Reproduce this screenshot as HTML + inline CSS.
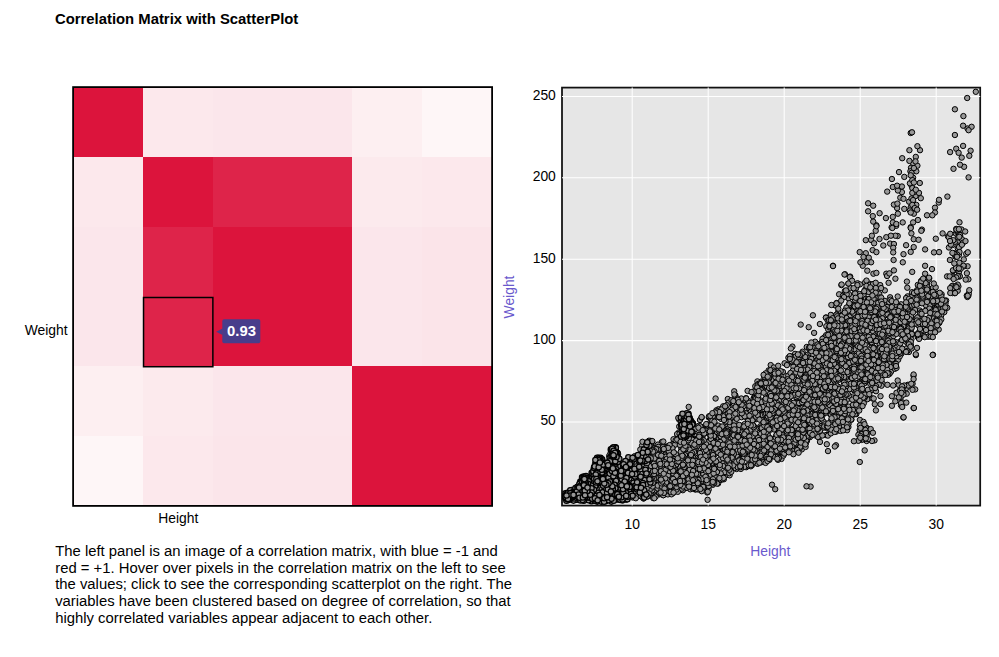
<!DOCTYPE html>
<html><head><meta charset="utf-8"><title>Correlation Matrix with ScatterPlot</title>
<style>
html,body{margin:0;padding:0;background:#fff;}
body{width:999px;height:657px;overflow:hidden;font-family:"Liberation Sans",sans-serif;}
svg{display:block;position:absolute;left:0;top:0;}
text{font-family:"Liberation Sans",sans-serif;}
.t{font-size:14.85px;font-weight:bold;fill:#000;}
.p{font-size:14.85px;fill:#000;}
.a{font-size:13.86px;fill:#000;}
.s{font-size:13.86px;fill:rgb(106,90,205);}
.g line{stroke:#fff;stroke-width:1.05;}
.pt circle{r:2.7px;}
</style></head><body>
<svg width="999" height="657" viewBox="0 0 999 657">
<text class="t" x="55.0" y="24.4">Correlation Matrix with ScatterPlot</text>
<g shape-rendering="crispEdges">
<rect x="73.10" y="87.10" width="70.13" height="70.13" fill="rgb(220,20,60)"/>
<rect x="142.93" y="87.10" width="70.13" height="70.13" fill="rgb(252,232,236)"/>
<rect x="212.77" y="87.10" width="70.13" height="70.13" fill="rgb(251,230,235)"/>
<rect x="282.60" y="87.10" width="70.13" height="70.13" fill="rgb(251,230,235)"/>
<rect x="352.43" y="87.10" width="70.13" height="70.13" fill="rgb(253,239,241)"/>
<rect x="422.27" y="87.10" width="70.13" height="70.13" fill="rgb(254,246,247)"/>
<rect x="73.10" y="156.93" width="70.13" height="70.13" fill="rgb(252,232,236)"/>
<rect x="142.93" y="156.93" width="70.13" height="70.13" fill="rgb(220,20,60)"/>
<rect x="212.77" y="156.93" width="70.13" height="70.13" fill="rgb(222,36,74)"/>
<rect x="282.60" y="156.93" width="70.13" height="70.13" fill="rgb(222,36,74)"/>
<rect x="352.43" y="156.93" width="70.13" height="70.13" fill="rgb(252,234,237)"/>
<rect x="422.27" y="156.93" width="70.13" height="70.13" fill="rgb(252,232,236)"/>
<rect x="73.10" y="226.77" width="70.13" height="70.13" fill="rgb(251,230,235)"/>
<rect x="142.93" y="226.77" width="70.13" height="70.13" fill="rgb(222,36,74)"/>
<rect x="212.77" y="226.77" width="70.13" height="70.13" fill="rgb(220,20,60)"/>
<rect x="282.60" y="226.77" width="70.13" height="70.13" fill="rgb(220,20,60)"/>
<rect x="352.43" y="226.77" width="70.13" height="70.13" fill="rgb(251,230,235)"/>
<rect x="422.27" y="226.77" width="70.13" height="70.13" fill="rgb(251,228,233)"/>
<rect x="73.10" y="296.60" width="70.13" height="70.13" fill="rgb(251,230,235)"/>
<rect x="142.93" y="296.60" width="70.13" height="70.13" fill="rgb(222,36,74)"/>
<rect x="212.77" y="296.60" width="70.13" height="70.13" fill="rgb(220,20,60)"/>
<rect x="282.60" y="296.60" width="70.13" height="70.13" fill="rgb(220,20,60)"/>
<rect x="352.43" y="296.60" width="70.13" height="70.13" fill="rgb(251,230,235)"/>
<rect x="422.27" y="296.60" width="70.13" height="70.13" fill="rgb(251,228,233)"/>
<rect x="73.10" y="366.43" width="70.13" height="70.13" fill="rgb(253,239,241)"/>
<rect x="142.93" y="366.43" width="70.13" height="70.13" fill="rgb(252,234,237)"/>
<rect x="212.77" y="366.43" width="70.13" height="70.13" fill="rgb(251,230,235)"/>
<rect x="282.60" y="366.43" width="70.13" height="70.13" fill="rgb(251,230,235)"/>
<rect x="352.43" y="366.43" width="70.13" height="70.13" fill="rgb(220,20,60)"/>
<rect x="422.27" y="366.43" width="70.13" height="70.13" fill="rgb(220,20,60)"/>
<rect x="73.10" y="436.27" width="70.13" height="70.13" fill="rgb(254,246,247)"/>
<rect x="142.93" y="436.27" width="70.13" height="70.13" fill="rgb(252,232,236)"/>
<rect x="212.77" y="436.27" width="70.13" height="70.13" fill="rgb(251,229,234)"/>
<rect x="282.60" y="436.27" width="70.13" height="70.13" fill="rgb(251,229,234)"/>
<rect x="352.43" y="436.27" width="70.13" height="70.13" fill="rgb(220,20,60)"/>
<rect x="422.27" y="436.27" width="70.13" height="70.13" fill="rgb(220,20,60)"/>
</g>
<rect x="73.1" y="87.1" width="419.0" height="418.8" fill="none" stroke="#000" stroke-width="1.8"/>
<rect x="143.53" y="297.50" width="69.33" height="69.23" fill="none" stroke="#000" stroke-width="1.5"/>
<path d="M216.2 331.7 L222.6 328.4 L222.6 335 Z" fill="rgb(72,61,139)"/>
<rect x="222.3" y="319.2" width="38" height="24" rx="1.8" fill="rgb(72,61,139)"/>
<text x="241.5" y="335.5" text-anchor="middle" fill="#fff" font-size="14.85" font-weight="bold">0.93</text>
<text class="a" x="67.6" y="334.7" text-anchor="end">Weight</text>
<text class="a" x="178.3" y="522.9" text-anchor="middle">Height</text>
<g class="p">
<text x="55.2" y="555.6">The left panel is an image of a correlation matrix, with blue = -1 and</text>
<text x="55.2" y="572.5">red = +1. Hover over pixels in the correlation matrix on the left to see</text>
<text x="55.2" y="589.4">the values; click to see the corresponding scatterplot on the right. The</text>
<text x="55.2" y="606.3">variables have been clustered based on degree of correlation, so that</text>
<text x="55.2" y="623.2">highly correlated variables appear adjacent to each other.</text>
</g>
<rect x="562.0" y="87.6" width="418.2" height="418.0" fill="rgb(230,230,230)" stroke="#111" stroke-width="1.75"/>
<g class="g"><line x1="632.2" x2="632.2" y1="87.6" y2="505.6"/><line x1="708.2" x2="708.2" y1="87.6" y2="505.6"/><line x1="784.2" x2="784.2" y1="87.6" y2="505.6"/><line x1="860.2" x2="860.2" y1="87.6" y2="505.6"/><line x1="936.2" x2="936.2" y1="87.6" y2="505.6"/><line x1="562.0" x2="980.2" y1="422.0" y2="422.0"/><line x1="562.0" x2="980.2" y1="340.6" y2="340.6"/><line x1="562.0" x2="980.2" y1="259.2" y2="259.2"/><line x1="562.0" x2="980.2" y1="177.8" y2="177.8"/><line x1="562.0" x2="980.2" y1="96.4" y2="96.4"/></g>
<g class="a"><text x="632.2" y="529.3" text-anchor="middle">10</text><text x="708.2" y="529.3" text-anchor="middle">15</text><text x="784.2" y="529.3" text-anchor="middle">20</text><text x="860.2" y="529.3" text-anchor="middle">25</text><text x="936.2" y="529.3" text-anchor="middle">30</text><text x="555.8" y="425.4" text-anchor="end">50</text><text x="555.8" y="344.0" text-anchor="end">100</text><text x="555.8" y="262.6" text-anchor="end">150</text><text x="555.8" y="181.2" text-anchor="end">200</text><text x="555.8" y="99.8" text-anchor="end">250</text></g>
<text class="s" x="770.3" y="555.8" text-anchor="middle">Height</text>
<text class="s" transform="translate(513.5,297) rotate(-90)" text-anchor="middle">Weight</text>
<g class="pt" fill="rgb(152,152,152)" stroke="#000" stroke-width="1.0"><g><circle cx="870.9" cy="309.3"/><circle cx="899.8" cy="390.6"/><circle cx="624.2" cy="475.0"/><circle cx="814.4" cy="435.2"/><circle cx="634.9" cy="477.2"/><circle cx="616.6" cy="452.0"/><circle cx="788.4" cy="357.7"/><circle cx="702.6" cy="489.0"/><circle cx="636.2" cy="467.0"/><circle cx="801.2" cy="370.4"/><circle cx="751.7" cy="441.2"/><circle cx="805.6" cy="380.2"/><circle cx="810.8" cy="421.8"/><circle cx="606.7" cy="477.8"/><circle cx="749.0" cy="422.9"/><circle cx="807.7" cy="409.2"/><circle cx="618.6" cy="489.0"/><circle cx="881.3" cy="355.1"/><circle cx="636.3" cy="485.0"/><circle cx="861.4" cy="318.9"/><circle cx="665.8" cy="452.8"/><circle cx="667.8" cy="487.5"/><circle cx="759.2" cy="428.0"/><circle cx="875.0" cy="287.5"/><circle cx="878.9" cy="351.0"/><circle cx="855.8" cy="401.2"/><circle cx="647.0" cy="488.6"/><circle cx="777.7" cy="432.4"/><circle cx="890.3" cy="335.6"/><circle cx="753.1" cy="415.2"/><circle cx="708.9" cy="470.5"/><circle cx="855.8" cy="342.3"/><circle cx="870.6" cy="324.0"/><circle cx="816.4" cy="359.2"/><circle cx="862.0" cy="384.4"/><circle cx="693.4" cy="485.0"/><circle cx="650.0" cy="482.9"/><circle cx="773.6" cy="447.0"/><circle cx="667.2" cy="488.7"/><circle cx="908.9" cy="352.0"/><circle cx="849.7" cy="344.4"/><circle cx="928.7" cy="289.2"/><circle cx="604.6" cy="470.2"/><circle cx="818.5" cy="395.6"/><circle cx="655.1" cy="473.9"/><circle cx="651.7" cy="478.0"/><circle cx="793.6" cy="356.4"/><circle cx="746.4" cy="432.5"/><circle cx="839.9" cy="328.8"/><circle cx="860.5" cy="327.0"/><circle cx="782.3" cy="386.0"/><circle cx="694.6" cy="463.2"/><circle cx="631.7" cy="490.5"/><circle cx="817.4" cy="401.1"/><circle cx="826.5" cy="386.8"/><circle cx="630.3" cy="485.3"/><circle cx="740.2" cy="449.8"/><circle cx="781.8" cy="415.5"/><circle cx="907.0" cy="306.5"/><circle cx="676.4" cy="464.8"/><circle cx="910.7" cy="251.9"/><circle cx="852.5" cy="337.4"/><circle cx="920.0" cy="150.2"/><circle cx="899.9" cy="307.3"/><circle cx="741.5" cy="456.0"/><circle cx="736.2" cy="427.1"/><circle cx="795.3" cy="393.4"/><circle cx="918.4" cy="334.1"/><circle cx="777.4" cy="384.5"/><circle cx="598.1" cy="460.5"/><circle cx="853.6" cy="335.6"/><circle cx="729.6" cy="424.7"/><circle cx="913.1" cy="222.4"/><circle cx="822.0" cy="404.4"/><circle cx="601.9" cy="474.5"/><circle cx="639.7" cy="456.2"/><circle cx="866.8" cy="284.0"/><circle cx="814.7" cy="406.4"/><circle cx="851.8" cy="309.0"/><circle cx="814.8" cy="426.8"/><circle cx="874.4" cy="331.7"/><circle cx="646.0" cy="495.0"/><circle cx="655.7" cy="490.1"/><circle cx="793.5" cy="377.4"/><circle cx="846.5" cy="333.0"/><circle cx="719.2" cy="476.1"/><circle cx="922.7" cy="321.2"/><circle cx="921.9" cy="229.6"/><circle cx="713.4" cy="454.0"/><circle cx="890.6" cy="369.3"/><circle cx="751.3" cy="457.9"/><circle cx="816.7" cy="369.6"/><circle cx="929.2" cy="278.4"/><circle cx="799.2" cy="439.0"/><circle cx="808.8" cy="357.5"/><circle cx="771.0" cy="397.4"/><circle cx="748.4" cy="413.7"/><circle cx="822.3" cy="361.9"/><circle cx="819.6" cy="352.0"/><circle cx="613.9" cy="467.4"/><circle cx="807.7" cy="410.4"/><circle cx="694.9" cy="473.6"/><circle cx="870.3" cy="323.5"/><circle cx="669.2" cy="491.2"/><circle cx="837.2" cy="306.5"/><circle cx="913.9" cy="213.7"/><circle cx="932.8" cy="288.0"/><circle cx="906.7" cy="393.7"/><circle cx="827.2" cy="338.9"/><circle cx="790.3" cy="432.7"/><circle cx="663.4" cy="446.2"/><circle cx="826.0" cy="317.5"/><circle cx="802.9" cy="361.0"/><circle cx="612.7" cy="477.3"/><circle cx="878.2" cy="327.3"/><circle cx="694.0" cy="478.5"/><circle cx="889.1" cy="336.9"/><circle cx="681.7" cy="477.0"/><circle cx="802.6" cy="351.7"/><circle cx="680.3" cy="471.9"/><circle cx="724.2" cy="437.2"/><circle cx="847.1" cy="430.2"/><circle cx="841.0" cy="421.2"/><circle cx="952.7" cy="285.7"/><circle cx="926.1" cy="304.0"/><circle cx="861.7" cy="320.8"/><circle cx="659.5" cy="469.5"/><circle cx="812.9" cy="425.5"/><circle cx="825.4" cy="404.6"/><circle cx="811.0" cy="429.4"/><circle cx="844.7" cy="340.0"/><circle cx="903.3" cy="417.5"/><circle cx="661.7" cy="489.0"/><circle cx="653.0" cy="485.6"/><circle cx="717.3" cy="468.1"/><circle cx="790.7" cy="405.5"/><circle cx="828.3" cy="380.6"/><circle cx="850.4" cy="346.5"/><circle cx="688.9" cy="484.1"/><circle cx="674.1" cy="473.0"/><circle cx="836.2" cy="431.6"/><circle cx="906.0" cy="341.7"/><circle cx="641.9" cy="484.7"/><circle cx="778.8" cy="376.8"/><circle cx="827.4" cy="384.5"/><circle cx="913.9" cy="324.2"/><circle cx="897.2" cy="315.9"/><circle cx="765.3" cy="405.6"/><circle cx="770.3" cy="400.7"/><circle cx="599.6" cy="469.3"/><circle cx="854.2" cy="402.1"/><circle cx="832.2" cy="331.1"/><circle cx="900.9" cy="405.3"/><circle cx="695.8" cy="457.4"/><circle cx="956.2" cy="228.9"/><circle cx="879.0" cy="337.7"/><circle cx="804.8" cy="411.0"/><circle cx="772.4" cy="385.3"/><circle cx="699.1" cy="434.4"/><circle cx="847.4" cy="310.8"/><circle cx="767.6" cy="434.2"/><circle cx="613.3" cy="461.3"/><circle cx="856.3" cy="401.1"/><circle cx="775.9" cy="444.6"/><circle cx="884.1" cy="301.6"/><circle cx="711.6" cy="438.3"/><circle cx="718.1" cy="483.5"/><circle cx="765.8" cy="429.7"/><circle cx="656.6" cy="449.4"/><circle cx="913.1" cy="163.3"/><circle cx="771.7" cy="379.5"/><circle cx="948.0" cy="236.4"/><circle cx="711.1" cy="445.6"/><circle cx="836.9" cy="413.5"/><circle cx="853.9" cy="390.2"/><circle cx="834.0" cy="391.3"/><circle cx="783.2" cy="436.0"/><circle cx="658.8" cy="485.0"/><circle cx="919.8" cy="183.0"/><circle cx="893.1" cy="385.5"/><circle cx="893.8" cy="334.6"/><circle cx="599.4" cy="499.0"/><circle cx="733.4" cy="467.3"/><circle cx="850.2" cy="319.4"/><circle cx="678.8" cy="459.8"/><circle cx="725.9" cy="415.0"/><circle cx="751.1" cy="426.1"/><circle cx="806.8" cy="397.8"/><circle cx="839.5" cy="314.4"/><circle cx="834.9" cy="372.4"/><circle cx="644.8" cy="455.2"/><circle cx="730.7" cy="435.0"/><circle cx="658.8" cy="466.3"/><circle cx="877.5" cy="288.7"/><circle cx="880.9" cy="383.3"/><circle cx="631.0" cy="491.0"/><circle cx="935.0" cy="207.7"/><circle cx="635.6" cy="486.4"/><circle cx="665.6" cy="458.4"/><circle cx="869.6" cy="283.8"/><circle cx="665.7" cy="473.9"/><circle cx="708.7" cy="473.9"/><circle cx="910.7" cy="227.2"/><circle cx="853.1" cy="350.1"/><circle cx="671.8" cy="486.8"/><circle cx="831.4" cy="315.4"/><circle cx="897.1" cy="208.1"/><circle cx="934.5" cy="302.8"/><circle cx="866.2" cy="391.6"/><circle cx="805.3" cy="385.9"/><circle cx="903.2" cy="325.2"/><circle cx="948.9" cy="247.5"/><circle cx="812.7" cy="409.0"/><circle cx="638.2" cy="475.6"/><circle cx="701.7" cy="451.8"/><circle cx="753.6" cy="426.8"/><circle cx="609.2" cy="455.8"/><circle cx="689.1" cy="483.1"/><circle cx="771.0" cy="447.3"/><circle cx="774.7" cy="400.2"/><circle cx="856.3" cy="414.1"/><circle cx="721.9" cy="409.1"/><circle cx="762.2" cy="404.5"/><circle cx="975.8" cy="91.8"/><circle cx="737.2" cy="404.5"/><circle cx="853.7" cy="304.8"/><circle cx="769.6" cy="424.1"/><circle cx="821.4" cy="425.9"/><circle cx="678.8" cy="479.8"/><circle cx="696.0" cy="475.4"/><circle cx="621.5" cy="500.1"/><circle cx="913.6" cy="305.6"/><circle cx="712.5" cy="441.3"/><circle cx="830.8" cy="373.0"/><circle cx="849.7" cy="309.2"/><circle cx="779.6" cy="385.9"/><circle cx="677.4" cy="463.9"/><circle cx="749.3" cy="414.4"/><circle cx="880.5" cy="404.2"/><circle cx="617.5" cy="499.7"/><circle cx="789.4" cy="436.9"/><circle cx="613.8" cy="483.9"/><circle cx="809.0" cy="367.2"/><circle cx="870.1" cy="309.6"/><circle cx="717.6" cy="450.3"/><circle cx="871.2" cy="372.5"/><circle cx="792.4" cy="388.1"/><circle cx="848.4" cy="298.3"/><circle cx="741.6" cy="455.9"/><circle cx="772.4" cy="381.9"/><circle cx="866.0" cy="317.2"/><circle cx="780.8" cy="456.6"/><circle cx="736.1" cy="467.4"/><circle cx="694.2" cy="451.0"/><circle cx="655.4" cy="477.4"/><circle cx="966.8" cy="295.6"/><circle cx="683.9" cy="443.1"/><circle cx="699.0" cy="456.1"/><circle cx="715.7" cy="476.5"/><circle cx="801.9" cy="390.7"/><circle cx="852.3" cy="306.3"/><circle cx="865.1" cy="282.4"/><circle cx="843.2" cy="315.4"/><circle cx="770.2" cy="382.0"/><circle cx="764.6" cy="400.4"/><circle cx="800.0" cy="372.6"/><circle cx="870.3" cy="342.2"/><circle cx="810.6" cy="358.5"/><circle cx="889.1" cy="372.7"/><circle cx="714.1" cy="443.2"/><circle cx="696.6" cy="435.8"/><circle cx="697.3" cy="466.0"/><circle cx="683.9" cy="468.7"/><circle cx="700.9" cy="454.3"/><circle cx="733.8" cy="413.4"/><circle cx="716.5" cy="440.9"/><circle cx="672.3" cy="457.6"/><circle cx="899.1" cy="312.2"/><circle cx="802.9" cy="404.0"/><circle cx="857.2" cy="301.3"/><circle cx="730.9" cy="425.3"/><circle cx="701.4" cy="439.5"/><circle cx="855.1" cy="343.2"/><circle cx="957.8" cy="240.3"/><circle cx="757.4" cy="409.6"/><circle cx="884.6" cy="359.8"/><circle cx="701.5" cy="470.2"/><circle cx="902.8" cy="326.9"/><circle cx="887.8" cy="359.2"/><circle cx="663.7" cy="469.3"/><circle cx="862.7" cy="377.8"/><circle cx="739.8" cy="457.4"/><circle cx="901.9" cy="192.1"/><circle cx="859.5" cy="310.2"/><circle cx="865.9" cy="300.1"/><circle cx="886.3" cy="273.7"/><circle cx="720.8" cy="441.9"/><circle cx="764.0" cy="436.4"/><circle cx="857.7" cy="392.6"/><circle cx="939.7" cy="314.3"/><circle cx="704.0" cy="443.6"/><circle cx="702.4" cy="436.8"/><circle cx="927.0" cy="215.3"/><circle cx="868.8" cy="257.7"/><circle cx="818.9" cy="392.2"/><circle cx="890.1" cy="243.6"/><circle cx="806.3" cy="375.5"/><circle cx="806.9" cy="392.9"/><circle cx="846.1" cy="327.7"/><circle cx="871.1" cy="342.8"/><circle cx="701.9" cy="483.2"/><circle cx="840.0" cy="333.5"/><circle cx="954.6" cy="291.1"/><circle cx="858.8" cy="384.7"/><circle cx="819.6" cy="358.8"/><circle cx="888.6" cy="282.8"/><circle cx="907.4" cy="349.5"/><circle cx="850.0" cy="413.8"/><circle cx="883.1" cy="352.7"/><circle cx="927.1" cy="284.0"/><circle cx="617.7" cy="463.9"/><circle cx="731.2" cy="446.7"/><circle cx="820.3" cy="392.6"/><circle cx="830.4" cy="346.5"/><circle cx="773.7" cy="404.8"/><circle cx="763.8" cy="385.8"/><circle cx="854.7" cy="330.5"/><circle cx="647.0" cy="470.3"/><circle cx="874.6" cy="390.2"/><circle cx="853.9" cy="410.0"/><circle cx="662.6" cy="458.9"/><circle cx="773.4" cy="380.6"/><circle cx="716.5" cy="474.7"/><circle cx="752.8" cy="453.3"/><circle cx="879.5" cy="321.5"/><circle cx="858.0" cy="331.2"/><circle cx="900.6" cy="308.6"/><circle cx="901.3" cy="334.7"/><circle cx="798.2" cy="385.9"/><circle cx="935.2" cy="298.3"/><circle cx="658.6" cy="487.2"/><circle cx="656.4" cy="461.0"/><circle cx="800.9" cy="413.9"/><circle cx="688.3" cy="481.2"/><circle cx="688.0" cy="445.0"/><circle cx="644.0" cy="468.2"/><circle cx="879.3" cy="314.2"/><circle cx="859.9" cy="366.8"/><circle cx="766.8" cy="428.6"/><circle cx="910.6" cy="309.3"/><circle cx="703.2" cy="452.0"/><circle cx="667.5" cy="466.2"/><circle cx="917.0" cy="347.9"/><circle cx="882.7" cy="340.4"/><circle cx="612.4" cy="460.0"/><circle cx="902.8" cy="262.3"/><circle cx="844.8" cy="318.0"/><circle cx="651.5" cy="495.3"/><circle cx="822.1" cy="353.1"/><circle cx="771.7" cy="379.6"/><circle cx="915.2" cy="389.4"/><circle cx="652.2" cy="441.6"/><circle cx="875.9" cy="331.5"/><circle cx="958.9" cy="272.1"/><circle cx="871.1" cy="262.3"/><circle cx="748.6" cy="406.5"/><circle cx="857.9" cy="390.4"/><circle cx="642.1" cy="445.6"/><circle cx="775.2" cy="409.1"/><circle cx="789.9" cy="395.5"/><circle cx="752.6" cy="406.2"/><circle cx="826.9" cy="353.4"/><circle cx="808.2" cy="425.6"/><circle cx="852.4" cy="310.4"/><circle cx="862.3" cy="434.5"/><circle cx="747.5" cy="445.7"/><circle cx="939.9" cy="297.1"/><circle cx="829.6" cy="431.9"/><circle cx="710.2" cy="439.1"/><circle cx="655.9" cy="483.3"/><circle cx="834.9" cy="305.2"/><circle cx="884.0" cy="327.7"/><circle cx="808.3" cy="411.2"/><circle cx="653.5" cy="452.5"/><circle cx="588.2" cy="490.0"/><circle cx="866.7" cy="441.0"/><circle cx="766.1" cy="435.7"/><circle cx="833.2" cy="412.5"/><circle cx="898.2" cy="359.7"/><circle cx="959.5" cy="247.0"/><circle cx="893.9" cy="362.5"/><circle cx="781.5" cy="458.9"/><circle cx="859.6" cy="430.0"/><circle cx="666.6" cy="462.8"/><circle cx="825.5" cy="374.6"/><circle cx="635.8" cy="476.1"/><circle cx="815.8" cy="430.9"/><circle cx="890.2" cy="339.1"/><circle cx="864.1" cy="434.0"/><circle cx="656.5" cy="484.4"/><circle cx="810.9" cy="348.1"/><circle cx="768.4" cy="428.2"/><circle cx="871.9" cy="349.1"/><circle cx="891.3" cy="358.0"/><circle cx="599.8" cy="462.7"/><circle cx="612.7" cy="456.5"/><circle cx="784.0" cy="405.0"/><circle cx="669.4" cy="473.1"/><circle cx="911.0" cy="167.8"/><circle cx="839.9" cy="411.1"/><circle cx="938.7" cy="329.5"/><circle cx="715.6" cy="434.3"/><circle cx="870.8" cy="368.2"/><circle cx="845.6" cy="349.4"/><circle cx="864.5" cy="292.5"/><circle cx="664.1" cy="481.6"/><circle cx="836.0" cy="430.0"/><circle cx="701.1" cy="458.0"/><circle cx="744.6" cy="404.4"/><circle cx="753.0" cy="416.4"/><circle cx="667.0" cy="465.7"/><circle cx="726.8" cy="475.0"/><circle cx="921.6" cy="321.3"/><circle cx="768.6" cy="370.4"/><circle cx="651.3" cy="494.8"/><circle cx="840.5" cy="430.9"/><circle cx="661.9" cy="442.0"/><circle cx="760.3" cy="415.5"/><circle cx="858.6" cy="329.4"/><circle cx="866.6" cy="372.4"/><circle cx="825.8" cy="344.9"/><circle cx="851.4" cy="419.7"/><circle cx="672.6" cy="493.1"/><circle cx="869.9" cy="288.2"/><circle cx="726.1" cy="464.5"/><circle cx="790.8" cy="405.2"/><circle cx="719.1" cy="461.0"/><circle cx="940.3" cy="296.8"/><circle cx="828.0" cy="451.1"/><circle cx="648.3" cy="461.5"/><circle cx="850.3" cy="342.9"/><circle cx="822.4" cy="411.7"/><circle cx="809.5" cy="424.6"/><circle cx="865.4" cy="330.7"/><circle cx="633.9" cy="486.3"/><circle cx="878.5" cy="339.3"/><circle cx="735.6" cy="399.5"/><circle cx="725.5" cy="445.6"/><circle cx="910.9" cy="318.4"/><circle cx="671.1" cy="488.1"/><circle cx="845.0" cy="424.7"/><circle cx="779.5" cy="456.6"/><circle cx="650.1" cy="479.4"/><circle cx="838.3" cy="311.5"/><circle cx="641.4" cy="493.1"/><circle cx="665.1" cy="455.4"/><circle cx="775.1" cy="372.4"/><circle cx="752.2" cy="421.1"/><circle cx="884.9" cy="300.9"/><circle cx="640.2" cy="489.3"/><circle cx="648.6" cy="456.0"/><circle cx="784.6" cy="363.3"/><circle cx="653.4" cy="471.5"/><circle cx="848.6" cy="364.4"/><circle cx="660.5" cy="464.4"/><circle cx="648.4" cy="488.4"/><circle cx="878.2" cy="376.3"/><circle cx="846.8" cy="400.0"/><circle cx="861.3" cy="435.4"/><circle cx="827.6" cy="399.5"/><circle cx="853.5" cy="389.4"/><circle cx="848.4" cy="427.0"/><circle cx="783.4" cy="455.6"/><circle cx="655.5" cy="466.7"/><circle cx="854.4" cy="307.7"/><circle cx="821.1" cy="378.4"/><circle cx="901.6" cy="348.4"/><circle cx="843.8" cy="399.1"/><circle cx="876.9" cy="376.9"/><circle cx="795.1" cy="383.4"/><circle cx="733.3" cy="452.9"/><circle cx="782.2" cy="444.3"/><circle cx="841.3" cy="409.6"/><circle cx="904.9" cy="317.7"/><circle cx="852.4" cy="374.6"/><circle cx="912.3" cy="323.4"/><circle cx="627.6" cy="479.2"/><circle cx="764.7" cy="377.4"/><circle cx="753.1" cy="439.9"/><circle cx="856.1" cy="401.5"/><circle cx="668.2" cy="462.0"/><circle cx="894.0" cy="352.3"/><circle cx="734.5" cy="427.6"/><circle cx="830.6" cy="427.5"/><circle cx="684.4" cy="474.2"/><circle cx="776.5" cy="438.3"/><circle cx="760.6" cy="432.4"/><circle cx="944.6" cy="309.2"/><circle cx="614.2" cy="459.1"/><circle cx="887.4" cy="313.1"/><circle cx="866.8" cy="434.7"/><circle cx="666.0" cy="480.3"/><circle cx="861.8" cy="296.1"/><circle cx="903.6" cy="335.5"/><circle cx="686.7" cy="458.1"/><circle cx="785.7" cy="379.0"/><circle cx="818.3" cy="400.4"/><circle cx="746.2" cy="467.2"/><circle cx="665.9" cy="455.0"/><circle cx="716.5" cy="451.3"/><circle cx="938.6" cy="310.9"/><circle cx="875.9" cy="330.7"/><circle cx="798.9" cy="403.9"/><circle cx="901.1" cy="304.3"/><circle cx="839.2" cy="303.8"/><circle cx="677.9" cy="435.7"/><circle cx="785.1" cy="438.2"/><circle cx="773.4" cy="399.6"/><circle cx="699.4" cy="440.9"/><circle cx="623.1" cy="468.8"/><circle cx="821.3" cy="405.6"/><circle cx="855.3" cy="291.1"/><circle cx="819.9" cy="324.0"/><circle cx="785.9" cy="395.1"/><circle cx="880.5" cy="396.2"/><circle cx="805.6" cy="390.3"/><circle cx="683.9" cy="486.8"/><circle cx="861.3" cy="320.4"/><circle cx="755.4" cy="401.4"/><circle cx="817.9" cy="430.2"/><circle cx="709.3" cy="426.3"/><circle cx="853.1" cy="335.2"/><circle cx="773.0" cy="439.6"/><circle cx="816.2" cy="420.7"/><circle cx="781.4" cy="425.5"/><circle cx="618.0" cy="454.4"/><circle cx="799.0" cy="422.3"/><circle cx="808.2" cy="383.0"/><circle cx="802.4" cy="429.4"/><circle cx="876.1" cy="360.8"/><circle cx="693.9" cy="449.3"/><circle cx="935.4" cy="293.5"/><circle cx="678.9" cy="432.4"/><circle cx="645.4" cy="452.0"/><circle cx="846.4" cy="378.8"/><circle cx="889.3" cy="302.4"/><circle cx="908.8" cy="318.0"/><circle cx="856.7" cy="309.4"/><circle cx="668.4" cy="448.4"/><circle cx="743.9" cy="436.0"/><circle cx="734.6" cy="460.0"/><circle cx="664.0" cy="470.4"/><circle cx="863.5" cy="295.0"/><circle cx="766.6" cy="419.4"/><circle cx="826.3" cy="423.9"/><circle cx="825.4" cy="425.6"/><circle cx="823.8" cy="398.8"/><circle cx="910.7" cy="207.3"/><circle cx="848.3" cy="382.7"/><circle cx="696.7" cy="485.0"/><circle cx="858.2" cy="394.2"/><circle cx="932.7" cy="304.2"/><circle cx="690.3" cy="457.1"/><circle cx="841.8" cy="408.0"/><circle cx="917.9" cy="220.0"/><circle cx="757.1" cy="402.2"/><circle cx="727.8" cy="433.0"/><circle cx="879.4" cy="349.8"/><circle cx="599.0" cy="460.3"/><circle cx="643.6" cy="480.2"/><circle cx="936.2" cy="314.9"/><circle cx="882.3" cy="347.8"/><circle cx="900.9" cy="310.3"/><circle cx="683.6" cy="471.1"/><circle cx="848.0" cy="369.8"/><circle cx="833.5" cy="343.2"/><circle cx="701.7" cy="481.8"/><circle cx="842.3" cy="354.6"/><circle cx="921.3" cy="295.3"/><circle cx="624.2" cy="479.5"/><circle cx="944.3" cy="312.1"/><circle cx="790.3" cy="407.7"/><circle cx="801.8" cy="449.4"/><circle cx="874.8" cy="363.3"/><circle cx="824.1" cy="355.5"/><circle cx="707.6" cy="499.8"/><circle cx="716.0" cy="482.6"/><circle cx="773.0" cy="385.5"/><circle cx="707.8" cy="457.1"/><circle cx="661.7" cy="482.8"/><circle cx="910.5" cy="332.4"/><circle cx="717.0" cy="466.0"/><circle cx="819.4" cy="350.1"/><circle cx="696.6" cy="460.7"/><circle cx="629.7" cy="488.7"/><circle cx="901.9" cy="329.8"/><circle cx="751.0" cy="461.5"/><circle cx="842.0" cy="320.4"/><circle cx="722.2" cy="408.2"/><circle cx="751.8" cy="422.3"/><circle cx="814.4" cy="414.1"/><circle cx="707.2" cy="492.5"/><circle cx="677.4" cy="456.5"/><circle cx="807.1" cy="426.3"/><circle cx="804.2" cy="356.2"/><circle cx="815.2" cy="432.1"/><circle cx="832.4" cy="324.8"/><circle cx="833.0" cy="265.7"/><circle cx="700.3" cy="465.8"/><circle cx="714.7" cy="472.0"/><circle cx="803.6" cy="444.1"/><circle cx="619.3" cy="460.9"/><circle cx="601.7" cy="471.8"/><circle cx="817.0" cy="365.0"/><circle cx="875.9" cy="369.6"/><circle cx="719.8" cy="452.7"/><circle cx="860.6" cy="406.6"/><circle cx="807.4" cy="429.2"/><circle cx="951.8" cy="286.4"/><circle cx="893.8" cy="309.2"/><circle cx="798.3" cy="395.6"/><circle cx="762.4" cy="452.5"/><circle cx="863.0" cy="322.5"/><circle cx="826.7" cy="357.5"/><circle cx="741.3" cy="447.5"/><circle cx="819.0" cy="436.9"/><circle cx="865.3" cy="289.5"/><circle cx="853.2" cy="363.2"/><circle cx="802.5" cy="357.4"/><circle cx="905.0" cy="334.8"/><circle cx="795.1" cy="353.9"/><circle cx="862.2" cy="330.4"/><circle cx="654.7" cy="482.8"/><circle cx="649.1" cy="460.9"/><circle cx="901.1" cy="313.5"/><circle cx="866.0" cy="298.8"/><circle cx="778.0" cy="459.8"/><circle cx="695.2" cy="489.5"/><circle cx="889.3" cy="326.6"/><circle cx="692.8" cy="445.8"/><circle cx="784.4" cy="415.3"/><circle cx="845.9" cy="410.3"/><circle cx="701.0" cy="426.7"/><circle cx="783.6" cy="437.8"/><circle cx="709.5" cy="454.3"/><circle cx="685.8" cy="488.1"/><circle cx="784.3" cy="428.3"/><circle cx="832.3" cy="392.3"/><circle cx="640.2" cy="460.9"/><circle cx="709.5" cy="445.3"/><circle cx="743.0" cy="440.5"/><circle cx="686.2" cy="477.2"/><circle cx="727.3" cy="410.1"/><circle cx="698.2" cy="489.5"/><circle cx="754.3" cy="450.0"/><circle cx="688.9" cy="462.9"/><circle cx="736.9" cy="462.9"/><circle cx="909.1" cy="201.7"/><circle cx="777.6" cy="419.5"/><circle cx="672.8" cy="457.3"/><circle cx="678.4" cy="438.0"/><circle cx="677.5" cy="457.1"/><circle cx="941.5" cy="304.9"/><circle cx="760.1" cy="413.9"/><circle cx="916.3" cy="171.3"/><circle cx="722.8" cy="476.1"/><circle cx="772.8" cy="443.0"/><circle cx="810.4" cy="408.8"/><circle cx="755.3" cy="386.2"/><circle cx="884.3" cy="358.1"/><circle cx="894.1" cy="322.3"/><circle cx="874.5" cy="440.4"/><circle cx="904.3" cy="208.9"/><circle cx="955.6" cy="256.8"/><circle cx="817.4" cy="417.9"/><circle cx="955.8" cy="233.5"/><circle cx="709.8" cy="471.6"/><circle cx="766.4" cy="434.2"/><circle cx="685.6" cy="449.6"/><circle cx="784.4" cy="436.2"/><circle cx="956.1" cy="287.3"/><circle cx="709.5" cy="426.4"/><circle cx="721.3" cy="431.1"/><circle cx="675.0" cy="477.0"/><circle cx="754.0" cy="397.6"/><circle cx="649.2" cy="481.6"/><circle cx="889.7" cy="332.0"/><circle cx="615.7" cy="457.2"/><circle cx="911.5" cy="185.7"/><circle cx="700.9" cy="441.3"/><circle cx="714.2" cy="454.1"/><circle cx="839.9" cy="409.6"/><circle cx="896.5" cy="325.3"/><circle cx="859.2" cy="301.7"/><circle cx="778.3" cy="455.7"/><circle cx="653.2" cy="455.9"/><circle cx="873.6" cy="334.5"/><circle cx="804.7" cy="356.6"/><circle cx="751.2" cy="446.8"/><circle cx="797.4" cy="429.1"/><circle cx="876.2" cy="315.6"/><circle cx="861.7" cy="396.7"/><circle cx="831.6" cy="356.6"/><circle cx="842.8" cy="355.4"/><circle cx="722.5" cy="418.4"/><circle cx="782.5" cy="452.1"/><circle cx="814.6" cy="348.2"/><circle cx="828.2" cy="364.4"/><circle cx="629.1" cy="487.1"/><circle cx="826.1" cy="335.2"/><circle cx="852.8" cy="354.3"/><circle cx="845.3" cy="358.9"/><circle cx="824.1" cy="337.6"/><circle cx="748.0" cy="435.4"/><circle cx="808.0" cy="428.1"/><circle cx="649.5" cy="491.4"/><circle cx="626.2" cy="499.8"/><circle cx="607.3" cy="478.7"/><circle cx="848.3" cy="423.9"/><circle cx="709.2" cy="450.8"/><circle cx="676.9" cy="461.1"/><circle cx="732.5" cy="451.5"/><circle cx="861.0" cy="369.4"/><circle cx="814.2" cy="398.0"/><circle cx="896.6" cy="325.9"/><circle cx="737.4" cy="456.9"/><circle cx="717.3" cy="444.1"/><circle cx="910.7" cy="133.0"/><circle cx="878.1" cy="337.9"/><circle cx="802.5" cy="408.0"/><circle cx="736.9" cy="445.3"/><circle cx="857.6" cy="283.3"/><circle cx="838.6" cy="386.9"/><circle cx="800.3" cy="436.8"/><circle cx="813.3" cy="357.4"/><circle cx="653.2" cy="457.3"/><circle cx="728.8" cy="457.0"/><circle cx="918.8" cy="316.6"/><circle cx="682.0" cy="486.5"/><circle cx="771.8" cy="420.5"/><circle cx="743.1" cy="457.1"/><circle cx="791.4" cy="382.0"/><circle cx="800.3" cy="443.4"/><circle cx="695.2" cy="448.0"/><circle cx="685.6" cy="474.5"/><circle cx="719.7" cy="413.9"/><circle cx="799.9" cy="435.1"/><circle cx="912.4" cy="334.1"/><circle cx="672.8" cy="453.4"/><circle cx="853.4" cy="347.0"/><circle cx="664.3" cy="475.3"/><circle cx="771.9" cy="395.3"/><circle cx="676.5" cy="475.8"/><circle cx="874.6" cy="302.8"/><circle cx="964.1" cy="166.8"/><circle cx="898.1" cy="325.2"/><circle cx="781.5" cy="421.9"/><circle cx="763.7" cy="407.4"/><circle cx="794.5" cy="403.0"/><circle cx="635.3" cy="461.4"/><circle cx="740.1" cy="411.3"/><circle cx="631.7" cy="468.9"/><circle cx="672.7" cy="486.6"/><circle cx="611.4" cy="472.8"/><circle cx="866.4" cy="359.7"/><circle cx="826.8" cy="424.0"/><circle cx="825.8" cy="377.3"/><circle cx="666.6" cy="450.2"/><circle cx="841.4" cy="411.0"/><circle cx="697.7" cy="482.4"/><circle cx="726.8" cy="431.1"/><circle cx="708.9" cy="481.8"/><circle cx="785.9" cy="429.5"/><circle cx="757.8" cy="463.7"/><circle cx="773.5" cy="373.3"/><circle cx="715.2" cy="416.1"/><circle cx="958.9" cy="242.6"/><circle cx="967.4" cy="297.0"/><circle cx="647.9" cy="456.2"/><circle cx="771.7" cy="398.7"/><circle cx="844.2" cy="415.8"/><circle cx="854.5" cy="349.1"/><circle cx="928.8" cy="279.6"/><circle cx="759.4" cy="411.5"/><circle cx="959.6" cy="240.0"/><circle cx="740.5" cy="451.6"/><circle cx="805.2" cy="416.6"/><circle cx="744.8" cy="430.1"/><circle cx="815.8" cy="388.7"/><circle cx="637.3" cy="489.2"/><circle cx="884.5" cy="308.8"/><circle cx="796.6" cy="450.6"/><circle cx="869.2" cy="353.1"/><circle cx="874.0" cy="307.6"/><circle cx="727.8" cy="399.0"/><circle cx="619.4" cy="467.3"/><circle cx="790.6" cy="444.3"/><circle cx="688.9" cy="471.2"/><circle cx="918.4" cy="302.5"/><circle cx="705.1" cy="481.7"/><circle cx="784.5" cy="414.9"/><circle cx="810.6" cy="486.6"/><circle cx="630.5" cy="492.9"/><circle cx="925.1" cy="249.4"/><circle cx="785.6" cy="375.9"/><circle cx="740.7" cy="412.1"/><circle cx="685.0" cy="455.0"/><circle cx="758.2" cy="385.0"/><circle cx="769.0" cy="451.2"/><circle cx="820.7" cy="433.7"/><circle cx="805.5" cy="355.7"/><circle cx="863.6" cy="439.2"/><circle cx="861.0" cy="433.9"/><circle cx="739.5" cy="447.5"/><circle cx="716.0" cy="431.7"/><circle cx="603.2" cy="480.3"/><circle cx="673.3" cy="443.2"/><circle cx="604.6" cy="488.0"/><circle cx="709.2" cy="452.1"/><circle cx="622.6" cy="484.3"/><circle cx="864.1" cy="349.0"/><circle cx="947.2" cy="307.8"/><circle cx="830.2" cy="427.2"/><circle cx="678.4" cy="437.1"/><circle cx="650.8" cy="440.9"/><circle cx="858.7" cy="382.5"/><circle cx="708.7" cy="489.6"/><circle cx="927.2" cy="298.6"/><circle cx="839.5" cy="426.0"/><circle cx="706.6" cy="443.1"/><circle cx="743.8" cy="456.0"/><circle cx="809.4" cy="362.4"/><circle cx="631.3" cy="490.9"/><circle cx="612.5" cy="482.1"/><circle cx="733.5" cy="421.7"/><circle cx="642.5" cy="441.8"/><circle cx="821.2" cy="356.8"/><circle cx="865.8" cy="253.2"/><circle cx="825.6" cy="393.6"/><circle cx="850.2" cy="276.6"/><circle cx="819.9" cy="411.2"/><circle cx="871.9" cy="304.0"/><circle cx="614.9" cy="462.4"/><circle cx="783.7" cy="432.7"/><circle cx="695.3" cy="441.5"/><circle cx="775.2" cy="396.8"/><circle cx="857.8" cy="394.1"/><circle cx="790.9" cy="379.1"/><circle cx="720.9" cy="450.8"/><circle cx="860.7" cy="381.9"/><circle cx="899.0" cy="306.1"/><circle cx="756.4" cy="419.2"/><circle cx="695.6" cy="455.8"/><circle cx="866.0" cy="319.0"/><circle cx="867.6" cy="395.8"/><circle cx="769.6" cy="406.8"/><circle cx="901.1" cy="354.1"/><circle cx="696.5" cy="472.8"/><circle cx="779.4" cy="423.4"/><circle cx="648.5" cy="471.0"/><circle cx="806.0" cy="442.9"/><circle cx="760.8" cy="447.1"/><circle cx="650.8" cy="493.4"/><circle cx="936.3" cy="326.5"/><circle cx="794.5" cy="438.2"/><circle cx="791.8" cy="392.1"/><circle cx="848.0" cy="311.6"/><circle cx="923.9" cy="328.6"/><circle cx="685.4" cy="485.9"/><circle cx="757.8" cy="401.8"/><circle cx="718.2" cy="473.5"/><circle cx="947.4" cy="196.6"/><circle cx="839.1" cy="355.2"/><circle cx="758.5" cy="438.1"/><circle cx="652.2" cy="488.4"/><circle cx="688.0" cy="477.6"/><circle cx="795.9" cy="372.6"/><circle cx="773.4" cy="451.9"/><circle cx="698.1" cy="481.0"/><circle cx="695.9" cy="489.2"/><circle cx="904.3" cy="176.9"/><circle cx="672.4" cy="474.6"/><circle cx="890.7" cy="361.0"/><circle cx="967.6" cy="266.3"/><circle cx="806.1" cy="379.3"/><circle cx="802.8" cy="411.1"/><circle cx="851.6" cy="416.6"/><circle cx="722.3" cy="416.6"/><circle cx="795.3" cy="360.5"/><circle cx="888.4" cy="350.6"/><circle cx="879.1" cy="307.1"/><circle cx="658.3" cy="464.8"/><circle cx="820.4" cy="386.1"/><circle cx="623.3" cy="467.5"/><circle cx="861.9" cy="352.8"/><circle cx="922.4" cy="284.2"/><circle cx="652.2" cy="446.5"/><circle cx="660.5" cy="475.8"/><circle cx="968.4" cy="295.7"/><circle cx="721.7" cy="473.8"/><circle cx="751.0" cy="406.0"/><circle cx="667.2" cy="470.1"/><circle cx="759.7" cy="432.7"/><circle cx="647.0" cy="477.3"/><circle cx="870.6" cy="301.3"/><circle cx="853.6" cy="315.3"/><circle cx="638.3" cy="472.3"/><circle cx="681.6" cy="473.8"/><circle cx="906.8" cy="303.5"/><circle cx="656.9" cy="482.0"/><circle cx="635.4" cy="491.0"/><circle cx="917.4" cy="146.2"/><circle cx="845.5" cy="388.6"/><circle cx="651.9" cy="453.3"/><circle cx="663.2" cy="467.5"/><circle cx="806.9" cy="440.9"/><circle cx="873.1" cy="350.7"/><circle cx="625.4" cy="467.2"/><circle cx="598.8" cy="468.7"/><circle cx="666.3" cy="461.1"/><circle cx="636.8" cy="495.8"/><circle cx="953.2" cy="270.9"/><circle cx="931.5" cy="314.1"/><circle cx="775.8" cy="418.1"/><circle cx="659.7" cy="456.5"/><circle cx="939.5" cy="309.5"/><circle cx="651.8" cy="457.7"/><circle cx="757.1" cy="460.7"/><circle cx="692.1" cy="463.7"/><circle cx="712.6" cy="432.8"/><circle cx="861.8" cy="306.5"/><circle cx="641.7" cy="481.3"/><circle cx="713.9" cy="471.2"/><circle cx="915.2" cy="320.1"/><circle cx="721.5" cy="464.5"/><circle cx="659.6" cy="494.3"/><circle cx="612.1" cy="466.8"/><circle cx="773.8" cy="420.5"/><circle cx="697.0" cy="438.7"/><circle cx="600.9" cy="468.2"/><circle cx="866.5" cy="280.6"/><circle cx="880.2" cy="285.1"/><circle cx="665.9" cy="461.2"/><circle cx="851.0" cy="379.4"/><circle cx="826.0" cy="435.1"/><circle cx="753.7" cy="391.7"/><circle cx="805.5" cy="357.1"/><circle cx="926.0" cy="305.4"/><circle cx="868.0" cy="304.5"/><circle cx="892.4" cy="365.7"/><circle cx="778.0" cy="415.5"/><circle cx="658.5" cy="484.0"/><circle cx="643.3" cy="472.9"/><circle cx="638.0" cy="473.4"/><circle cx="904.6" cy="332.3"/><circle cx="612.2" cy="451.9"/><circle cx="819.3" cy="354.7"/><circle cx="817.9" cy="387.9"/><circle cx="924.2" cy="286.1"/><circle cx="934.1" cy="316.1"/><circle cx="678.8" cy="461.0"/><circle cx="822.5" cy="338.8"/><circle cx="820.7" cy="343.5"/><circle cx="647.5" cy="462.6"/><circle cx="795.1" cy="388.1"/><circle cx="709.3" cy="459.1"/><circle cx="882.5" cy="341.7"/><circle cx="729.8" cy="434.3"/><circle cx="830.3" cy="397.7"/><circle cx="723.5" cy="455.8"/><circle cx="967.5" cy="128.5"/><circle cx="761.2" cy="381.6"/><circle cx="696.8" cy="443.8"/><circle cx="875.8" cy="316.2"/><circle cx="770.7" cy="365.1"/><circle cx="930.3" cy="304.9"/><circle cx="633.7" cy="480.9"/><circle cx="856.2" cy="344.0"/><circle cx="817.0" cy="391.2"/><circle cx="934.9" cy="331.5"/><circle cx="866.5" cy="262.3"/><circle cx="845.0" cy="332.8"/><circle cx="723.6" cy="417.1"/><circle cx="836.3" cy="367.8"/><circle cx="935.7" cy="287.4"/><circle cx="900.3" cy="197.7"/><circle cx="652.1" cy="462.6"/><circle cx="826.8" cy="349.2"/><circle cx="719.3" cy="480.0"/><circle cx="912.0" cy="132.3"/><circle cx="815.9" cy="379.7"/><circle cx="660.0" cy="480.6"/><circle cx="913.1" cy="177.7"/><circle cx="793.4" cy="366.7"/><circle cx="857.3" cy="302.2"/><circle cx="775.1" cy="456.9"/><circle cx="811.2" cy="418.8"/><circle cx="681.5" cy="480.2"/><circle cx="667.6" cy="478.3"/><circle cx="809.0" cy="366.7"/><circle cx="787.2" cy="434.2"/><circle cx="714.9" cy="413.3"/><circle cx="857.7" cy="356.0"/><circle cx="833.0" cy="266.1"/><circle cx="929.7" cy="293.5"/><circle cx="829.5" cy="361.0"/><circle cx="776.6" cy="371.1"/><circle cx="845.7" cy="343.8"/><circle cx="961.0" cy="240.5"/><circle cx="725.0" cy="472.1"/><circle cx="674.3" cy="472.2"/><circle cx="833.0" cy="373.2"/><circle cx="957.8" cy="248.4"/><circle cx="952.6" cy="245.0"/><circle cx="647.0" cy="463.2"/><circle cx="809.3" cy="376.8"/><circle cx="762.3" cy="382.3"/><circle cx="619.0" cy="489.1"/><circle cx="776.3" cy="435.5"/><circle cx="693.9" cy="446.2"/><circle cx="658.8" cy="470.7"/><circle cx="843.1" cy="342.8"/><circle cx="634.5" cy="483.5"/><circle cx="901.9" cy="186.5"/><circle cx="651.7" cy="459.3"/><circle cx="850.6" cy="288.0"/><circle cx="836.6" cy="372.3"/><circle cx="845.6" cy="389.0"/><circle cx="834.0" cy="393.2"/><circle cx="692.9" cy="486.3"/><circle cx="642.2" cy="474.5"/><circle cx="756.3" cy="393.2"/><circle cx="709.4" cy="483.1"/><circle cx="614.4" cy="481.9"/><circle cx="699.1" cy="467.5"/><circle cx="726.1" cy="414.9"/><circle cx="859.9" cy="328.6"/><circle cx="901.1" cy="396.7"/><circle cx="851.1" cy="378.9"/><circle cx="802.9" cy="442.7"/><circle cx="638.7" cy="476.9"/><circle cx="867.3" cy="399.2"/><circle cx="594.5" cy="482.0"/><circle cx="864.1" cy="319.4"/><circle cx="824.0" cy="388.4"/><circle cx="907.6" cy="340.6"/><circle cx="600.4" cy="469.9"/><circle cx="614.6" cy="453.2"/><circle cx="806.2" cy="440.6"/><circle cx="672.2" cy="444.6"/><circle cx="857.6" cy="314.7"/><circle cx="830.9" cy="325.0"/><circle cx="637.7" cy="456.2"/><circle cx="772.2" cy="391.5"/><circle cx="711.7" cy="461.1"/><circle cx="871.0" cy="370.1"/><circle cx="905.0" cy="327.9"/><circle cx="829.4" cy="356.0"/><circle cx="833.8" cy="343.2"/><circle cx="932.3" cy="311.3"/><circle cx="657.4" cy="472.7"/><circle cx="672.4" cy="472.5"/><circle cx="886.8" cy="329.1"/><circle cx="892.1" cy="359.4"/><circle cx="643.7" cy="459.4"/><circle cx="682.9" cy="467.2"/><circle cx="748.9" cy="420.5"/><circle cx="792.5" cy="395.0"/><circle cx="787.8" cy="437.7"/><circle cx="672.4" cy="448.2"/><circle cx="872.5" cy="398.5"/><circle cx="819.3" cy="355.0"/><circle cx="686.6" cy="449.0"/><circle cx="838.3" cy="362.5"/><circle cx="814.4" cy="433.2"/><circle cx="648.1" cy="448.3"/><circle cx="687.1" cy="459.5"/><circle cx="672.8" cy="478.8"/><circle cx="606.1" cy="478.2"/><circle cx="895.7" cy="321.7"/><circle cx="826.8" cy="444.2"/><circle cx="894.5" cy="325.7"/><circle cx="701.8" cy="438.8"/><circle cx="863.1" cy="364.0"/><circle cx="880.5" cy="353.6"/><circle cx="814.7" cy="348.1"/><circle cx="870.6" cy="354.8"/><circle cx="638.5" cy="480.5"/><circle cx="683.3" cy="456.8"/><circle cx="887.7" cy="344.5"/><circle cx="673.7" cy="484.0"/><circle cx="884.3" cy="370.1"/><circle cx="807.6" cy="413.6"/><circle cx="883.5" cy="320.3"/><circle cx="881.9" cy="355.8"/><circle cx="819.6" cy="343.8"/><circle cx="702.9" cy="475.0"/><circle cx="768.1" cy="411.2"/><circle cx="765.4" cy="399.7"/><circle cx="915.5" cy="196.1"/><circle cx="653.0" cy="472.9"/><circle cx="910.3" cy="312.0"/><circle cx="955.2" cy="241.7"/><circle cx="780.8" cy="422.6"/><circle cx="958.9" cy="254.9"/><circle cx="915.9" cy="355.1"/><circle cx="746.8" cy="452.1"/><circle cx="863.4" cy="372.4"/><circle cx="700.2" cy="437.9"/><circle cx="613.8" cy="480.8"/><circle cx="746.7" cy="417.6"/><circle cx="927.0" cy="301.9"/><circle cx="841.4" cy="285.1"/><circle cx="633.2" cy="469.4"/><circle cx="648.1" cy="450.7"/><circle cx="787.8" cy="429.6"/><circle cx="871.5" cy="347.0"/><circle cx="811.8" cy="399.3"/><circle cx="864.2" cy="321.4"/><circle cx="696.1" cy="439.2"/><circle cx="751.1" cy="417.8"/><circle cx="863.3" cy="339.7"/><circle cx="725.6" cy="415.0"/><circle cx="860.6" cy="385.6"/><circle cx="746.0" cy="398.2"/><circle cx="790.6" cy="362.3"/><circle cx="865.2" cy="375.1"/><circle cx="673.9" cy="452.6"/><circle cx="912.3" cy="188.1"/><circle cx="915.8" cy="156.9"/><circle cx="845.4" cy="348.1"/><circle cx="638.0" cy="492.4"/><circle cx="877.4" cy="340.5"/><circle cx="684.9" cy="474.2"/><circle cx="828.6" cy="354.9"/><circle cx="857.1" cy="303.5"/><circle cx="963.8" cy="266.4"/><circle cx="600.5" cy="458.3"/><circle cx="642.7" cy="456.4"/><circle cx="921.5" cy="292.4"/><circle cx="890.7" cy="368.6"/><circle cx="753.6" cy="399.0"/><circle cx="880.7" cy="369.8"/><circle cx="752.1" cy="449.9"/><circle cx="821.4" cy="366.0"/><circle cx="880.3" cy="358.8"/><circle cx="828.9" cy="397.3"/><circle cx="673.4" cy="484.2"/><circle cx="646.3" cy="492.3"/><circle cx="705.8" cy="442.2"/><circle cx="765.9" cy="394.7"/><circle cx="868.1" cy="203.3"/><circle cx="782.2" cy="442.6"/><circle cx="662.2" cy="481.4"/><circle cx="871.1" cy="329.6"/><circle cx="652.0" cy="484.4"/><circle cx="872.1" cy="343.1"/><circle cx="691.7" cy="450.7"/><circle cx="836.0" cy="445.3"/><circle cx="762.9" cy="459.9"/><circle cx="918.2" cy="333.1"/><circle cx="868.1" cy="211.3"/><circle cx="899.7" cy="356.4"/><circle cx="775.6" cy="410.0"/><circle cx="891.4" cy="317.1"/><circle cx="696.2" cy="474.0"/><circle cx="887.7" cy="326.0"/><circle cx="891.9" cy="405.8"/><circle cx="740.6" cy="463.6"/><circle cx="872.5" cy="323.8"/><circle cx="701.8" cy="479.3"/><circle cx="764.3" cy="376.7"/><circle cx="643.7" cy="458.8"/><circle cx="800.4" cy="402.5"/><circle cx="710.7" cy="468.8"/><circle cx="604.5" cy="500.4"/><circle cx="851.2" cy="315.5"/><circle cx="691.8" cy="451.7"/><circle cx="837.1" cy="352.3"/><circle cx="670.9" cy="471.7"/><circle cx="675.6" cy="468.0"/><circle cx="864.2" cy="359.6"/><circle cx="657.9" cy="444.6"/><circle cx="970.6" cy="150.7"/><circle cx="824.8" cy="363.6"/><circle cx="839.0" cy="364.3"/><circle cx="898.8" cy="321.9"/><circle cx="925.1" cy="273.7"/><circle cx="727.0" cy="434.0"/><circle cx="744.7" cy="434.5"/><circle cx="872.2" cy="370.0"/><circle cx="739.9" cy="399.6"/><circle cx="695.5" cy="450.6"/><circle cx="895.3" cy="401.3"/><circle cx="917.9" cy="292.0"/><circle cx="886.7" cy="359.8"/><circle cx="857.2" cy="344.2"/><circle cx="646.8" cy="449.3"/><circle cx="787.7" cy="412.3"/><circle cx="890.0" cy="308.7"/><circle cx="845.1" cy="424.2"/><circle cx="723.6" cy="435.7"/><circle cx="610.5" cy="477.9"/><circle cx="827.9" cy="435.6"/><circle cx="717.8" cy="474.9"/><circle cx="663.2" cy="455.4"/><circle cx="875.1" cy="350.4"/><circle cx="871.7" cy="342.1"/><circle cx="920.2" cy="314.1"/><circle cx="719.7" cy="430.8"/><circle cx="838.5" cy="368.7"/><circle cx="870.3" cy="351.6"/><circle cx="801.0" cy="394.2"/><circle cx="814.0" cy="363.4"/><circle cx="762.6" cy="410.9"/><circle cx="801.1" cy="375.6"/><circle cx="957.7" cy="290.8"/><circle cx="828.7" cy="328.5"/><circle cx="736.7" cy="404.0"/><circle cx="667.6" cy="466.6"/><circle cx="859.8" cy="391.7"/><circle cx="902.7" cy="222.4"/><circle cx="879.8" cy="338.4"/><circle cx="836.4" cy="385.4"/><circle cx="667.4" cy="451.8"/><circle cx="774.0" cy="429.4"/><circle cx="816.0" cy="387.1"/><circle cx="798.4" cy="371.5"/><circle cx="778.6" cy="443.8"/><circle cx="782.9" cy="371.9"/><circle cx="762.5" cy="456.6"/><circle cx="830.2" cy="321.3"/><circle cx="612.5" cy="453.1"/><circle cx="757.8" cy="397.5"/><circle cx="882.7" cy="383.8"/><circle cx="735.3" cy="395.1"/><circle cx="722.5" cy="446.7"/><circle cx="910.0" cy="323.0"/><circle cx="890.4" cy="371.9"/><circle cx="913.6" cy="408.1"/><circle cx="648.5" cy="449.3"/><circle cx="635.2" cy="470.3"/><circle cx="683.6" cy="464.1"/><circle cx="840.4" cy="352.7"/><circle cx="679.2" cy="426.5"/><circle cx="758.9" cy="416.7"/><circle cx="771.8" cy="416.0"/><circle cx="912.3" cy="321.8"/><circle cx="756.3" cy="401.7"/><circle cx="826.3" cy="326.2"/><circle cx="775.0" cy="375.5"/><circle cx="845.2" cy="353.7"/><circle cx="835.7" cy="324.1"/><circle cx="971.6" cy="126.8"/><circle cx="816.9" cy="393.2"/><circle cx="857.7" cy="346.1"/><circle cx="797.1" cy="356.0"/><circle cx="749.6" cy="419.1"/><circle cx="740.2" cy="409.1"/><circle cx="799.6" cy="430.2"/><circle cx="715.3" cy="448.5"/><circle cx="880.9" cy="318.7"/><circle cx="640.7" cy="491.7"/><circle cx="836.9" cy="314.6"/><circle cx="655.7" cy="477.4"/><circle cx="833.0" cy="404.6"/><circle cx="787.4" cy="413.5"/><circle cx="660.5" cy="455.4"/><circle cx="646.4" cy="495.5"/><circle cx="894.4" cy="354.0"/><circle cx="645.4" cy="472.4"/><circle cx="723.5" cy="410.0"/><circle cx="828.2" cy="403.3"/><circle cx="626.1" cy="476.5"/><circle cx="807.7" cy="354.7"/><circle cx="664.0" cy="452.4"/><circle cx="803.8" cy="421.4"/><circle cx="782.7" cy="422.6"/><circle cx="725.1" cy="406.5"/><circle cx="871.1" cy="390.4"/><circle cx="920.0" cy="334.3"/><circle cx="744.3" cy="425.5"/><circle cx="819.6" cy="395.5"/><circle cx="849.5" cy="316.6"/><circle cx="614.1" cy="447.4"/><circle cx="932.1" cy="310.0"/><circle cx="793.8" cy="387.2"/><circle cx="773.8" cy="367.5"/><circle cx="671.9" cy="457.4"/><circle cx="891.9" cy="179.0"/><circle cx="869.3" cy="285.0"/><circle cx="668.0" cy="487.3"/><circle cx="815.5" cy="411.0"/><circle cx="830.1" cy="413.9"/><circle cx="641.3" cy="487.5"/><circle cx="957.4" cy="232.1"/><circle cx="811.2" cy="377.5"/><circle cx="743.8" cy="401.6"/><circle cx="743.4" cy="401.4"/><circle cx="644.5" cy="482.3"/><circle cx="817.5" cy="363.2"/><circle cx="838.4" cy="379.9"/><circle cx="855.9" cy="309.6"/><circle cx="822.3" cy="389.5"/><circle cx="963.4" cy="265.7"/><circle cx="678.2" cy="468.4"/><circle cx="907.7" cy="326.3"/><circle cx="614.2" cy="448.7"/><circle cx="826.6" cy="427.9"/><circle cx="647.7" cy="484.5"/><circle cx="726.2" cy="420.2"/><circle cx="791.0" cy="415.3"/><circle cx="883.8" cy="336.9"/><circle cx="655.1" cy="496.6"/><circle cx="959.4" cy="230.2"/><circle cx="835.9" cy="380.6"/><circle cx="877.2" cy="356.2"/><circle cx="762.1" cy="409.9"/><circle cx="742.3" cy="410.7"/><circle cx="877.2" cy="330.0"/><circle cx="727.4" cy="426.5"/><circle cx="647.9" cy="483.2"/><circle cx="684.8" cy="437.1"/><circle cx="787.9" cy="395.7"/><circle cx="901.0" cy="340.8"/><circle cx="798.5" cy="447.3"/><circle cx="713.9" cy="429.6"/><circle cx="929.3" cy="291.4"/><circle cx="858.3" cy="407.8"/><circle cx="678.5" cy="478.5"/><circle cx="848.8" cy="305.3"/><circle cx="703.2" cy="486.9"/><circle cx="595.5" cy="466.3"/><circle cx="905.2" cy="326.7"/><circle cx="663.4" cy="460.2"/><circle cx="897.7" cy="236.0"/><circle cx="876.8" cy="327.5"/><circle cx="668.9" cy="453.1"/><circle cx="844.3" cy="332.0"/><circle cx="751.4" cy="461.1"/><circle cx="608.0" cy="484.4"/><circle cx="681.3" cy="448.4"/><circle cx="890.7" cy="356.4"/><circle cx="820.8" cy="415.3"/><circle cx="813.8" cy="426.4"/><circle cx="750.6" cy="443.1"/><circle cx="764.4" cy="403.8"/><circle cx="883.7" cy="321.1"/><circle cx="769.8" cy="411.4"/><circle cx="680.2" cy="445.5"/><circle cx="652.0" cy="489.5"/><circle cx="905.6" cy="331.3"/><circle cx="959.1" cy="232.2"/><circle cx="718.5" cy="461.6"/><circle cx="668.7" cy="493.2"/><circle cx="869.5" cy="359.5"/><circle cx="652.4" cy="461.3"/><circle cx="959.6" cy="276.4"/><circle cx="792.8" cy="357.6"/><circle cx="917.6" cy="334.5"/><circle cx="892.2" cy="362.8"/><circle cx="785.3" cy="406.5"/><circle cx="757.4" cy="381.4"/><circle cx="799.7" cy="430.3"/><circle cx="770.4" cy="370.5"/><circle cx="718.6" cy="462.4"/><circle cx="741.9" cy="406.4"/><circle cx="804.8" cy="380.7"/><circle cx="675.0" cy="444.7"/><circle cx="821.9" cy="419.2"/><circle cx="819.6" cy="353.0"/><circle cx="900.3" cy="318.9"/><circle cx="924.2" cy="336.0"/><circle cx="906.1" cy="245.2"/><circle cx="648.0" cy="491.9"/><circle cx="630.6" cy="474.8"/><circle cx="649.2" cy="466.2"/><circle cx="784.4" cy="453.6"/><circle cx="609.0" cy="471.7"/><circle cx="722.4" cy="463.3"/><circle cx="823.6" cy="373.3"/><circle cx="618.0" cy="453.3"/><circle cx="617.8" cy="456.3"/><circle cx="725.9" cy="455.3"/><circle cx="840.4" cy="361.1"/><circle cx="835.3" cy="395.9"/><circle cx="842.1" cy="360.4"/><circle cx="667.1" cy="451.6"/><circle cx="903.3" cy="326.3"/><circle cx="896.1" cy="332.0"/><circle cx="787.9" cy="399.3"/><circle cx="829.8" cy="380.4"/><circle cx="868.1" cy="289.9"/><circle cx="833.2" cy="374.4"/><circle cx="930.8" cy="333.3"/><circle cx="760.9" cy="462.4"/><circle cx="906.5" cy="320.7"/><circle cx="886.4" cy="342.1"/><circle cx="682.0" cy="451.0"/><circle cx="664.6" cy="478.3"/><circle cx="748.7" cy="434.5"/><circle cx="794.1" cy="386.8"/><circle cx="615.7" cy="488.4"/><circle cx="873.0" cy="284.1"/><circle cx="780.0" cy="400.4"/><circle cx="780.3" cy="400.5"/><circle cx="858.8" cy="390.1"/><circle cx="884.3" cy="332.5"/><circle cx="867.2" cy="372.0"/><circle cx="775.5" cy="377.2"/><circle cx="840.0" cy="329.4"/><circle cx="733.5" cy="441.3"/><circle cx="781.9" cy="429.7"/><circle cx="832.0" cy="325.9"/><circle cx="708.5" cy="485.8"/><circle cx="657.9" cy="478.8"/><circle cx="662.9" cy="486.6"/><circle cx="840.5" cy="335.1"/><circle cx="657.2" cy="457.1"/><circle cx="843.6" cy="360.5"/><circle cx="869.7" cy="377.1"/><circle cx="891.9" cy="352.8"/><circle cx="808.9" cy="359.0"/><circle cx="594.9" cy="486.3"/><circle cx="836.1" cy="338.5"/><circle cx="735.5" cy="396.7"/><circle cx="798.9" cy="357.1"/><circle cx="783.8" cy="386.8"/><circle cx="733.4" cy="412.2"/><circle cx="791.8" cy="449.9"/><circle cx="862.2" cy="321.1"/><circle cx="872.5" cy="360.6"/><circle cx="714.8" cy="442.0"/><circle cx="848.2" cy="381.6"/><circle cx="818.2" cy="345.9"/><circle cx="954.9" cy="109.3"/><circle cx="823.6" cy="421.8"/><circle cx="663.4" cy="468.5"/><circle cx="874.6" cy="383.6"/><circle cx="767.2" cy="382.0"/><circle cx="780.0" cy="419.4"/><circle cx="805.8" cy="436.4"/><circle cx="888.4" cy="313.9"/><circle cx="968.8" cy="293.4"/><circle cx="616.7" cy="475.6"/><circle cx="885.8" cy="342.7"/><circle cx="631.5" cy="479.5"/><circle cx="907.9" cy="309.6"/><circle cx="628.0" cy="481.2"/><circle cx="813.7" cy="418.4"/><circle cx="642.3" cy="495.7"/><circle cx="935.7" cy="298.3"/><circle cx="777.6" cy="374.3"/><circle cx="881.3" cy="351.3"/><circle cx="934.8" cy="310.8"/><circle cx="873.5" cy="314.4"/><circle cx="788.7" cy="415.8"/><circle cx="790.4" cy="421.3"/><circle cx="834.8" cy="401.1"/><circle cx="934.9" cy="308.1"/><circle cx="757.4" cy="398.6"/><circle cx="760.4" cy="426.2"/><circle cx="689.8" cy="469.9"/><circle cx="867.0" cy="428.1"/><circle cx="909.9" cy="210.5"/><circle cx="927.6" cy="319.2"/><circle cx="642.9" cy="476.1"/><circle cx="834.2" cy="415.5"/><circle cx="604.2" cy="477.5"/><circle cx="803.9" cy="360.9"/><circle cx="705.2" cy="446.7"/><circle cx="752.0" cy="420.7"/><circle cx="861.6" cy="352.5"/><circle cx="799.6" cy="431.1"/><circle cx="687.6" cy="450.4"/><circle cx="627.1" cy="472.1"/><circle cx="786.1" cy="450.1"/><circle cx="801.8" cy="424.3"/><circle cx="794.7" cy="378.5"/><circle cx="794.7" cy="384.2"/><circle cx="864.5" cy="397.9"/><circle cx="844.3" cy="375.7"/><circle cx="673.8" cy="481.2"/><circle cx="742.7" cy="457.1"/><circle cx="647.2" cy="448.9"/><circle cx="953.3" cy="240.2"/><circle cx="806.5" cy="486.3"/><circle cx="736.6" cy="469.0"/><circle cx="781.3" cy="449.2"/><circle cx="912.6" cy="302.4"/><circle cx="696.5" cy="439.9"/><circle cx="747.3" cy="412.5"/><circle cx="748.5" cy="456.8"/><circle cx="940.4" cy="304.5"/><circle cx="614.1" cy="452.0"/><circle cx="777.2" cy="382.5"/><circle cx="876.4" cy="225.3"/><circle cx="922.6" cy="285.3"/><circle cx="799.7" cy="448.4"/><circle cx="902.3" cy="402.3"/><circle cx="849.9" cy="369.6"/><circle cx="802.0" cy="396.8"/><circle cx="869.3" cy="312.0"/><circle cx="764.8" cy="382.7"/><circle cx="833.1" cy="371.5"/><circle cx="810.0" cy="437.1"/><circle cx="718.7" cy="437.9"/><circle cx="703.6" cy="441.6"/><circle cx="936.6" cy="298.4"/><circle cx="659.7" cy="493.5"/><circle cx="676.5" cy="480.8"/><circle cx="761.7" cy="385.9"/><circle cx="826.8" cy="367.9"/><circle cx="698.4" cy="426.0"/><circle cx="778.8" cy="431.7"/><circle cx="750.4" cy="431.1"/><circle cx="635.1" cy="474.7"/><circle cx="782.5" cy="392.9"/><circle cx="899.4" cy="312.4"/><circle cx="599.8" cy="492.1"/><circle cx="615.8" cy="486.2"/><circle cx="709.1" cy="471.4"/><circle cx="907.5" cy="330.6"/><circle cx="690.8" cy="463.0"/><circle cx="928.7" cy="326.4"/><circle cx="960.0" cy="164.7"/><circle cx="861.6" cy="439.9"/><circle cx="646.6" cy="455.5"/><circle cx="762.8" cy="445.2"/><circle cx="761.1" cy="415.0"/><circle cx="907.1" cy="348.0"/><circle cx="627.2" cy="483.6"/><circle cx="863.4" cy="393.1"/><circle cx="626.9" cy="481.0"/><circle cx="850.0" cy="320.2"/><circle cx="753.5" cy="458.3"/><circle cx="655.5" cy="448.3"/><circle cx="743.1" cy="415.0"/><circle cx="827.6" cy="403.2"/><circle cx="874.8" cy="404.2"/><circle cx="866.6" cy="328.4"/><circle cx="881.3" cy="347.8"/><circle cx="658.3" cy="446.9"/><circle cx="834.7" cy="411.4"/><circle cx="787.9" cy="425.1"/><circle cx="819.9" cy="404.7"/><circle cx="824.4" cy="411.7"/><circle cx="640.4" cy="492.6"/><circle cx="812.6" cy="419.0"/><circle cx="833.8" cy="378.0"/><circle cx="682.8" cy="490.2"/><circle cx="788.5" cy="391.0"/><circle cx="851.2" cy="347.5"/><circle cx="632.7" cy="469.3"/><circle cx="792.8" cy="370.7"/><circle cx="952.4" cy="288.9"/><circle cx="799.2" cy="363.7"/><circle cx="631.9" cy="463.0"/><circle cx="705.5" cy="463.4"/><circle cx="706.4" cy="460.9"/><circle cx="644.4" cy="494.2"/><circle cx="828.1" cy="340.2"/><circle cx="608.6" cy="494.9"/><circle cx="864.2" cy="332.8"/><circle cx="919.0" cy="192.9"/><circle cx="959.5" cy="240.8"/><circle cx="782.9" cy="448.9"/><circle cx="848.3" cy="283.6"/><circle cx="856.4" cy="406.0"/><circle cx="688.5" cy="484.3"/><circle cx="599.2" cy="466.0"/><circle cx="738.9" cy="446.8"/><circle cx="766.1" cy="426.7"/><circle cx="963.4" cy="116.1"/><circle cx="673.8" cy="456.2"/><circle cx="800.3" cy="446.7"/><circle cx="904.0" cy="317.7"/><circle cx="734.5" cy="422.0"/><circle cx="598.8" cy="462.8"/><circle cx="730.6" cy="402.5"/><circle cx="891.0" cy="371.7"/><circle cx="860.6" cy="401.0"/><circle cx="665.7" cy="487.3"/><circle cx="896.1" cy="342.2"/><circle cx="666.1" cy="453.7"/><circle cx="700.6" cy="477.7"/><circle cx="969.3" cy="290.2"/><circle cx="733.5" cy="462.4"/><circle cx="742.6" cy="445.7"/><circle cx="870.4" cy="292.0"/><circle cx="881.6" cy="341.6"/><circle cx="960.7" cy="268.8"/><circle cx="845.9" cy="330.5"/><circle cx="941.3" cy="315.0"/><circle cx="837.8" cy="400.4"/><circle cx="885.6" cy="309.5"/><circle cx="827.4" cy="389.9"/><circle cx="896.5" cy="392.8"/><circle cx="820.6" cy="409.9"/><circle cx="729.6" cy="475.3"/><circle cx="618.7" cy="479.7"/><circle cx="874.6" cy="348.0"/><circle cx="961.7" cy="157.6"/><circle cx="798.7" cy="394.9"/><circle cx="959.0" cy="247.1"/><circle cx="617.3" cy="463.4"/><circle cx="661.9" cy="469.1"/><circle cx="958.4" cy="286.4"/><circle cx="625.3" cy="493.0"/><circle cx="831.0" cy="409.8"/><circle cx="753.5" cy="456.0"/><circle cx="752.6" cy="412.7"/><circle cx="745.1" cy="466.7"/><circle cx="681.2" cy="469.0"/><circle cx="658.7" cy="481.0"/><circle cx="912.6" cy="298.7"/><circle cx="755.0" cy="398.1"/><circle cx="911.1" cy="329.0"/><circle cx="833.3" cy="416.9"/><circle cx="891.4" cy="325.2"/><circle cx="718.6" cy="466.1"/><circle cx="607.8" cy="465.4"/><circle cx="822.6" cy="390.1"/><circle cx="891.0" cy="360.2"/><circle cx="774.7" cy="409.0"/><circle cx="821.0" cy="415.8"/><circle cx="866.1" cy="361.3"/><circle cx="797.5" cy="436.7"/><circle cx="611.0" cy="487.7"/><circle cx="768.4" cy="400.7"/><circle cx="959.0" cy="229.4"/><circle cx="805.3" cy="357.1"/><circle cx="763.9" cy="390.8"/><circle cx="892.5" cy="311.5"/><circle cx="885.0" cy="315.3"/><circle cx="764.2" cy="417.8"/><circle cx="858.8" cy="382.7"/><circle cx="695.1" cy="429.2"/><circle cx="830.3" cy="422.3"/><circle cx="745.2" cy="452.1"/><circle cx="910.9" cy="295.8"/><circle cx="612.9" cy="460.3"/><circle cx="774.9" cy="399.9"/><circle cx="959.8" cy="276.3"/><circle cx="804.8" cy="383.5"/><circle cx="860.0" cy="374.1"/><circle cx="765.0" cy="381.8"/><circle cx="959.9" cy="235.7"/><circle cx="780.1" cy="409.2"/><circle cx="741.8" cy="399.2"/><circle cx="712.2" cy="423.9"/><circle cx="884.8" cy="290.4"/><circle cx="592.8" cy="496.8"/><circle cx="610.2" cy="500.1"/><circle cx="866.3" cy="350.9"/><circle cx="810.8" cy="395.3"/><circle cx="622.8" cy="495.4"/><circle cx="812.9" cy="353.5"/><circle cx="959.5" cy="252.0"/><circle cx="778.6" cy="457.2"/><circle cx="868.8" cy="292.0"/><circle cx="777.8" cy="373.5"/><circle cx="843.0" cy="346.7"/><circle cx="652.1" cy="475.1"/><circle cx="642.1" cy="450.5"/><circle cx="785.2" cy="399.1"/><circle cx="709.7" cy="417.6"/><circle cx="864.6" cy="316.4"/><circle cx="872.3" cy="316.7"/><circle cx="728.6" cy="402.6"/><circle cx="820.4" cy="347.1"/><circle cx="847.7" cy="374.2"/><circle cx="761.4" cy="400.7"/><circle cx="789.7" cy="411.9"/><circle cx="777.4" cy="403.3"/><circle cx="596.3" cy="493.5"/><circle cx="756.9" cy="389.8"/><circle cx="815.7" cy="418.9"/><circle cx="937.7" cy="294.1"/><circle cx="887.9" cy="326.4"/><circle cx="810.1" cy="401.2"/><circle cx="808.9" cy="433.7"/><circle cx="749.4" cy="440.6"/><circle cx="707.6" cy="456.2"/><circle cx="690.3" cy="489.3"/><circle cx="850.1" cy="363.5"/><circle cx="681.9" cy="438.4"/><circle cx="761.9" cy="388.9"/><circle cx="875.1" cy="316.6"/><circle cx="651.8" cy="467.2"/><circle cx="742.4" cy="450.8"/><circle cx="869.6" cy="328.4"/><circle cx="956.2" cy="148.7"/><circle cx="833.3" cy="355.1"/><circle cx="849.4" cy="389.2"/><circle cx="838.3" cy="354.3"/><circle cx="803.7" cy="435.5"/><circle cx="801.9" cy="353.5"/><circle cx="667.1" cy="463.8"/><circle cx="723.2" cy="406.3"/><circle cx="642.9" cy="488.3"/><circle cx="890.8" cy="363.6"/><circle cx="836.2" cy="356.9"/><circle cx="873.4" cy="348.6"/><circle cx="792.9" cy="409.8"/><circle cx="764.9" cy="440.2"/><circle cx="828.5" cy="367.1"/><circle cx="755.3" cy="404.9"/><circle cx="843.3" cy="374.4"/><circle cx="801.5" cy="392.5"/><circle cx="681.9" cy="488.7"/><circle cx="635.1" cy="464.2"/><circle cx="767.6" cy="427.9"/><circle cx="836.6" cy="403.7"/><circle cx="907.2" cy="307.8"/><circle cx="647.9" cy="490.7"/><circle cx="646.0" cy="462.7"/><circle cx="734.6" cy="468.0"/><circle cx="919.8" cy="296.6"/><circle cx="866.0" cy="428.0"/><circle cx="857.1" cy="392.7"/><circle cx="877.5" cy="331.4"/><circle cx="804.4" cy="408.7"/><circle cx="737.0" cy="399.5"/><circle cx="720.2" cy="432.5"/><circle cx="644.3" cy="479.1"/><circle cx="614.5" cy="484.0"/><circle cx="654.7" cy="462.1"/><circle cx="810.2" cy="349.5"/><circle cx="713.5" cy="455.7"/><circle cx="769.5" cy="415.4"/><circle cx="841.1" cy="407.9"/><circle cx="803.7" cy="366.4"/><circle cx="829.5" cy="378.5"/><circle cx="895.4" cy="235.7"/><circle cx="858.4" cy="388.6"/><circle cx="602.6" cy="464.5"/><circle cx="826.7" cy="381.3"/><circle cx="731.7" cy="459.1"/><circle cx="698.1" cy="449.8"/><circle cx="855.0" cy="340.5"/><circle cx="856.5" cy="371.9"/><circle cx="714.7" cy="424.0"/><circle cx="620.0" cy="497.7"/><circle cx="636.9" cy="476.1"/><circle cx="841.3" cy="363.9"/><circle cx="777.8" cy="456.7"/><circle cx="728.0" cy="413.6"/><circle cx="887.9" cy="358.7"/><circle cx="725.9" cy="421.3"/><circle cx="743.2" cy="431.1"/><circle cx="806.4" cy="372.7"/><circle cx="931.2" cy="296.4"/><circle cx="735.8" cy="403.6"/><circle cx="733.0" cy="405.0"/><circle cx="668.8" cy="448.2"/><circle cx="912.1" cy="305.6"/><circle cx="838.9" cy="354.2"/><circle cx="711.9" cy="479.0"/><circle cx="760.5" cy="384.1"/><circle cx="840.0" cy="354.7"/><circle cx="916.5" cy="297.8"/><circle cx="709.1" cy="441.7"/><circle cx="712.2" cy="468.6"/><circle cx="907.6" cy="296.4"/><circle cx="613.1" cy="461.2"/><circle cx="785.6" cy="441.5"/><circle cx="664.0" cy="490.3"/><circle cx="859.0" cy="312.2"/><circle cx="760.6" cy="419.2"/><circle cx="819.3" cy="362.0"/><circle cx="855.0" cy="369.5"/><circle cx="929.0" cy="277.7"/><circle cx="875.5" cy="367.0"/><circle cx="614.2" cy="454.6"/><circle cx="712.0" cy="458.4"/><circle cx="770.0" cy="457.6"/><circle cx="732.1" cy="442.0"/><circle cx="816.0" cy="430.5"/><circle cx="849.7" cy="361.0"/><circle cx="723.8" cy="479.3"/><circle cx="900.5" cy="322.0"/><circle cx="860.7" cy="331.6"/><circle cx="830.8" cy="314.9"/><circle cx="839.3" cy="346.1"/><circle cx="828.5" cy="363.8"/><circle cx="793.4" cy="454.2"/><circle cx="825.9" cy="317.7"/><circle cx="760.9" cy="451.6"/><circle cx="835.5" cy="336.4"/><circle cx="673.5" cy="439.2"/><circle cx="799.8" cy="415.3"/><circle cx="648.6" cy="449.4"/><circle cx="622.5" cy="489.1"/><circle cx="698.0" cy="456.0"/><circle cx="826.0" cy="366.8"/><circle cx="679.3" cy="472.5"/><circle cx="637.4" cy="464.7"/><circle cx="894.5" cy="320.4"/><circle cx="772.5" cy="413.2"/><circle cx="632.3" cy="492.0"/><circle cx="877.6" cy="353.9"/><circle cx="884.5" cy="365.4"/><circle cx="766.2" cy="439.7"/><circle cx="855.6" cy="366.0"/><circle cx="854.4" cy="370.2"/><circle cx="718.1" cy="463.1"/><circle cx="695.9" cy="478.8"/><circle cx="669.6" cy="478.2"/><circle cx="609.2" cy="462.2"/><circle cx="756.8" cy="400.4"/><circle cx="786.3" cy="411.2"/><circle cx="669.4" cy="490.5"/><circle cx="662.8" cy="448.8"/><circle cx="854.0" cy="307.7"/><circle cx="844.7" cy="312.9"/><circle cx="818.6" cy="391.0"/><circle cx="766.0" cy="440.1"/><circle cx="648.1" cy="451.7"/><circle cx="811.6" cy="393.7"/><circle cx="884.6" cy="305.2"/><circle cx="671.1" cy="450.9"/><circle cx="954.5" cy="293.1"/><circle cx="747.6" cy="465.2"/><circle cx="669.7" cy="489.8"/><circle cx="938.8" cy="315.4"/><circle cx="930.8" cy="332.7"/><circle cx="691.7" cy="438.2"/><circle cx="773.5" cy="370.6"/><circle cx="668.6" cy="467.1"/><circle cx="723.3" cy="453.6"/><circle cx="646.7" cy="443.9"/><circle cx="809.8" cy="433.5"/><circle cx="599.2" cy="497.9"/><circle cx="714.4" cy="476.3"/><circle cx="643.5" cy="498.4"/><circle cx="739.9" cy="459.2"/><circle cx="626.1" cy="466.4"/><circle cx="875.5" cy="385.6"/><circle cx="864.3" cy="345.5"/><circle cx="870.4" cy="315.8"/><circle cx="678.6" cy="463.0"/><circle cx="961.9" cy="239.2"/><circle cx="862.9" cy="357.4"/><circle cx="849.8" cy="277.2"/><circle cx="769.8" cy="444.5"/><circle cx="887.1" cy="276.0"/><circle cx="744.3" cy="466.9"/><circle cx="614.4" cy="452.6"/><circle cx="699.8" cy="457.6"/><circle cx="700.0" cy="420.0"/><circle cx="851.1" cy="419.5"/><circle cx="697.9" cy="441.0"/><circle cx="857.9" cy="316.9"/><circle cx="840.5" cy="364.9"/><circle cx="628.2" cy="483.5"/><circle cx="879.3" cy="294.1"/><circle cx="957.9" cy="276.2"/><circle cx="802.6" cy="400.7"/><circle cx="883.8" cy="363.1"/><circle cx="816.7" cy="385.7"/><circle cx="893.9" cy="204.6"/><circle cx="740.9" cy="414.0"/><circle cx="650.9" cy="453.4"/><circle cx="847.5" cy="372.0"/><circle cx="857.6" cy="403.0"/><circle cx="750.5" cy="429.6"/><circle cx="648.1" cy="443.8"/><circle cx="682.6" cy="444.5"/><circle cx="645.6" cy="489.0"/><circle cx="694.3" cy="473.8"/><circle cx="838.0" cy="417.3"/><circle cx="718.4" cy="417.1"/><circle cx="760.1" cy="385.8"/><circle cx="800.9" cy="442.6"/><circle cx="883.6" cy="320.9"/><circle cx="875.7" cy="380.3"/><circle cx="716.7" cy="429.9"/><circle cx="709.0" cy="478.9"/><circle cx="836.8" cy="334.4"/><circle cx="692.7" cy="449.2"/><circle cx="658.6" cy="467.6"/><circle cx="762.9" cy="426.8"/><circle cx="849.0" cy="354.6"/><circle cx="847.9" cy="309.4"/><circle cx="839.1" cy="370.9"/><circle cx="729.4" cy="462.0"/><circle cx="724.4" cy="456.2"/><circle cx="836.6" cy="303.0"/><circle cx="906.6" cy="387.9"/><circle cx="645.1" cy="470.3"/><circle cx="906.1" cy="298.1"/><circle cx="757.1" cy="398.2"/><circle cx="716.4" cy="467.8"/><circle cx="815.1" cy="341.7"/><circle cx="879.7" cy="330.7"/><circle cx="881.2" cy="353.9"/><circle cx="912.2" cy="271.9"/><circle cx="908.1" cy="302.3"/><circle cx="755.7" cy="436.9"/><circle cx="763.9" cy="462.0"/><circle cx="728.2" cy="435.1"/><circle cx="713.7" cy="455.0"/><circle cx="817.5" cy="344.6"/><circle cx="849.6" cy="346.1"/><circle cx="745.6" cy="440.4"/><circle cx="663.3" cy="495.1"/><circle cx="754.1" cy="426.5"/><circle cx="846.3" cy="318.0"/><circle cx="714.6" cy="476.6"/><circle cx="620.7" cy="470.0"/><circle cx="816.1" cy="380.8"/><circle cx="634.8" cy="469.5"/><circle cx="695.5" cy="453.2"/><circle cx="903.5" cy="386.7"/><circle cx="733.3" cy="459.2"/><circle cx="672.5" cy="461.7"/><circle cx="600.2" cy="466.3"/><circle cx="801.1" cy="396.8"/><circle cx="815.4" cy="407.3"/><circle cx="666.4" cy="446.9"/><circle cx="956.9" cy="230.3"/><circle cx="844.9" cy="404.6"/><circle cx="855.5" cy="387.6"/><circle cx="614.4" cy="457.0"/><circle cx="766.0" cy="408.4"/><circle cx="625.2" cy="467.0"/><circle cx="962.8" cy="242.9"/><circle cx="862.8" cy="394.6"/><circle cx="729.0" cy="416.1"/><circle cx="614.6" cy="456.2"/><circle cx="647.8" cy="473.4"/><circle cx="720.7" cy="446.1"/><circle cx="713.1" cy="453.4"/><circle cx="857.8" cy="323.2"/><circle cx="728.4" cy="447.2"/><circle cx="878.9" cy="349.9"/><circle cx="772.6" cy="410.6"/><circle cx="867.5" cy="308.9"/><circle cx="802.4" cy="379.0"/><circle cx="916.3" cy="204.9"/><circle cx="805.7" cy="402.2"/><circle cx="871.1" cy="289.1"/><circle cx="675.6" cy="489.0"/><circle cx="834.3" cy="363.3"/><circle cx="635.1" cy="493.6"/><circle cx="917.4" cy="303.9"/><circle cx="811.8" cy="391.2"/><circle cx="632.7" cy="497.5"/><circle cx="799.1" cy="382.7"/><circle cx="746.8" cy="437.5"/><circle cx="795.2" cy="445.2"/><circle cx="654.1" cy="452.5"/><circle cx="611.9" cy="493.6"/><circle cx="693.1" cy="423.3"/><circle cx="870.3" cy="383.9"/><circle cx="715.4" cy="463.4"/><circle cx="768.2" cy="401.7"/><circle cx="648.3" cy="465.5"/><circle cx="660.7" cy="480.9"/><circle cx="696.7" cy="442.8"/><circle cx="658.7" cy="488.9"/><circle cx="850.7" cy="383.8"/><circle cx="844.8" cy="291.1"/><circle cx="741.5" cy="437.4"/><circle cx="921.8" cy="330.2"/><circle cx="780.5" cy="410.1"/><circle cx="887.4" cy="384.8"/><circle cx="913.7" cy="239.2"/><circle cx="785.8" cy="448.4"/><circle cx="657.9" cy="467.5"/><circle cx="792.5" cy="412.2"/><circle cx="884.8" cy="338.4"/><circle cx="945.5" cy="303.5"/><circle cx="800.4" cy="385.6"/><circle cx="752.0" cy="463.2"/><circle cx="887.5" cy="340.4"/><circle cx="936.1" cy="311.9"/><circle cx="614.9" cy="450.8"/><circle cx="854.7" cy="342.4"/><circle cx="889.5" cy="307.5"/><circle cx="862.7" cy="349.5"/><circle cx="843.2" cy="321.1"/><circle cx="911.6" cy="348.5"/><circle cx="797.5" cy="384.3"/><circle cx="917.8" cy="337.0"/><circle cx="694.7" cy="481.0"/><circle cx="888.3" cy="361.7"/><circle cx="809.3" cy="367.1"/><circle cx="821.3" cy="369.6"/><circle cx="883.3" cy="335.7"/><circle cx="684.3" cy="446.6"/><circle cx="688.3" cy="475.3"/><circle cx="883.7" cy="356.9"/><circle cx="770.4" cy="429.7"/><circle cx="837.5" cy="423.5"/><circle cx="920.3" cy="323.8"/><circle cx="821.0" cy="385.7"/><circle cx="695.5" cy="448.1"/><circle cx="762.0" cy="452.6"/><circle cx="778.0" cy="434.0"/><circle cx="835.6" cy="333.0"/><circle cx="893.9" cy="244.0"/><circle cx="843.2" cy="341.4"/><circle cx="689.7" cy="465.0"/><circle cx="744.3" cy="454.7"/><circle cx="590.2" cy="491.7"/><circle cx="647.7" cy="496.5"/><circle cx="875.6" cy="372.2"/><circle cx="836.8" cy="392.2"/><circle cx="656.6" cy="465.7"/><circle cx="708.8" cy="417.4"/><circle cx="957.1" cy="254.6"/><circle cx="624.1" cy="468.3"/><circle cx="789.7" cy="403.3"/><circle cx="913.9" cy="192.1"/><circle cx="715.9" cy="447.3"/><circle cx="850.4" cy="347.5"/><circle cx="933.8" cy="313.7"/><circle cx="882.1" cy="351.9"/><circle cx="711.6" cy="416.1"/><circle cx="874.5" cy="363.8"/><circle cx="685.0" cy="446.5"/><circle cx="759.9" cy="444.6"/><circle cx="653.2" cy="498.1"/><circle cx="752.0" cy="418.0"/><circle cx="868.6" cy="316.5"/><circle cx="877.1" cy="361.1"/><circle cx="813.5" cy="356.3"/><circle cx="908.8" cy="344.4"/><circle cx="792.4" cy="346.6"/><circle cx="855.0" cy="400.1"/><circle cx="641.7" cy="488.3"/><circle cx="859.7" cy="294.0"/><circle cx="852.6" cy="371.6"/><circle cx="685.6" cy="473.6"/><circle cx="887.1" cy="307.0"/><circle cx="612.1" cy="496.4"/><circle cx="793.9" cy="361.7"/><circle cx="624.3" cy="486.7"/><circle cx="729.8" cy="472.4"/><circle cx="852.8" cy="334.2"/><circle cx="656.9" cy="477.6"/><circle cx="891.8" cy="307.1"/><circle cx="733.2" cy="454.9"/><circle cx="614.2" cy="456.7"/><circle cx="641.3" cy="481.8"/><circle cx="681.9" cy="463.7"/><circle cx="805.7" cy="435.3"/><circle cx="731.0" cy="446.7"/><circle cx="836.8" cy="367.7"/><circle cx="890.9" cy="360.9"/><circle cx="670.7" cy="453.6"/><circle cx="867.5" cy="355.0"/><circle cx="817.9" cy="437.0"/><circle cx="654.5" cy="491.4"/><circle cx="832.7" cy="382.5"/><circle cx="688.8" cy="474.6"/><circle cx="795.1" cy="444.0"/><circle cx="776.8" cy="421.2"/><circle cx="884.4" cy="343.0"/><circle cx="644.8" cy="459.1"/><circle cx="714.1" cy="436.0"/><circle cx="795.2" cy="380.1"/><circle cx="907.3" cy="351.0"/><circle cx="928.9" cy="317.9"/><circle cx="647.9" cy="490.7"/><circle cx="839.1" cy="355.9"/><circle cx="830.7" cy="329.4"/><circle cx="777.4" cy="451.8"/><circle cx="679.9" cy="471.4"/><circle cx="793.5" cy="420.8"/><circle cx="909.1" cy="298.8"/><circle cx="912.5" cy="389.8"/><circle cx="769.3" cy="391.0"/><circle cx="799.1" cy="399.6"/><circle cx="610.7" cy="457.2"/><circle cx="892.6" cy="321.6"/><circle cx="782.2" cy="396.8"/><circle cx="668.2" cy="492.7"/><circle cx="781.5" cy="405.7"/><circle cx="816.3" cy="408.5"/><circle cx="790.6" cy="361.6"/><circle cx="784.6" cy="441.4"/><circle cx="795.6" cy="443.8"/><circle cx="638.5" cy="493.1"/><circle cx="766.4" cy="422.9"/><circle cx="668.6" cy="455.5"/><circle cx="919.8" cy="310.5"/><circle cx="671.0" cy="451.1"/><circle cx="615.4" cy="453.7"/><circle cx="646.0" cy="461.5"/><circle cx="736.9" cy="414.1"/><circle cx="730.9" cy="426.7"/><circle cx="731.5" cy="400.1"/><circle cx="872.5" cy="311.8"/><circle cx="836.5" cy="404.0"/><circle cx="959.5" cy="222.3"/><circle cx="777.9" cy="391.5"/><circle cx="654.8" cy="459.0"/><circle cx="782.9" cy="410.4"/><circle cx="604.7" cy="496.0"/><circle cx="782.1" cy="444.9"/><circle cx="840.6" cy="392.6"/><circle cx="710.4" cy="427.8"/><circle cx="801.0" cy="425.6"/><circle cx="846.4" cy="338.3"/><circle cx="878.4" cy="355.3"/><circle cx="718.9" cy="434.8"/><circle cx="881.3" cy="345.4"/><circle cx="834.8" cy="355.3"/><circle cx="806.7" cy="347.0"/><circle cx="737.5" cy="464.6"/><circle cx="711.2" cy="419.4"/><circle cx="595.0" cy="471.4"/><circle cx="694.2" cy="467.8"/><circle cx="830.2" cy="336.9"/><circle cx="872.6" cy="290.4"/><circle cx="824.2" cy="371.4"/><circle cx="715.3" cy="468.9"/><circle cx="890.1" cy="297.3"/><circle cx="715.5" cy="430.3"/><circle cx="928.3" cy="296.0"/><circle cx="792.7" cy="404.8"/><circle cx="692.0" cy="453.1"/><circle cx="820.2" cy="373.6"/><circle cx="873.4" cy="273.7"/><circle cx="645.9" cy="470.8"/><circle cx="808.8" cy="436.4"/><circle cx="842.3" cy="416.7"/><circle cx="795.7" cy="429.2"/><circle cx="843.8" cy="410.8"/><circle cx="790.4" cy="380.7"/><circle cx="893.5" cy="336.1"/><circle cx="903.5" cy="198.8"/><circle cx="704.5" cy="432.9"/><circle cx="866.8" cy="431.9"/><circle cx="848.7" cy="336.5"/><circle cx="758.2" cy="384.0"/><circle cx="663.3" cy="495.2"/><circle cx="638.8" cy="474.4"/><circle cx="867.2" cy="331.3"/><circle cx="888.3" cy="340.7"/><circle cx="935.0" cy="212.5"/><circle cx="852.1" cy="280.7"/><circle cx="880.8" cy="306.4"/><circle cx="855.1" cy="414.1"/><circle cx="848.4" cy="424.0"/><circle cx="817.4" cy="348.3"/><circle cx="808.7" cy="327.2"/><circle cx="728.8" cy="461.9"/><circle cx="846.4" cy="307.6"/><circle cx="872.7" cy="330.9"/><circle cx="692.2" cy="438.8"/><circle cx="653.9" cy="478.7"/><circle cx="652.0" cy="470.3"/><circle cx="719.8" cy="459.5"/><circle cx="891.5" cy="363.7"/><circle cx="621.5" cy="485.5"/><circle cx="828.4" cy="379.5"/><circle cx="882.7" cy="325.4"/><circle cx="701.7" cy="491.2"/><circle cx="881.5" cy="385.7"/><circle cx="744.3" cy="456.0"/><circle cx="839.1" cy="422.8"/><circle cx="957.1" cy="269.4"/><circle cx="819.3" cy="388.9"/><circle cx="808.2" cy="382.7"/><circle cx="887.3" cy="348.9"/><circle cx="963.8" cy="259.4"/><circle cx="630.3" cy="461.5"/><circle cx="780.1" cy="445.7"/><circle cx="878.3" cy="352.6"/><circle cx="885.3" cy="325.7"/><circle cx="873.4" cy="384.9"/><circle cx="828.8" cy="343.0"/><circle cx="818.6" cy="431.7"/><circle cx="665.8" cy="468.7"/><circle cx="723.1" cy="466.0"/><circle cx="639.5" cy="464.7"/><circle cx="687.7" cy="450.7"/><circle cx="612.5" cy="449.1"/><circle cx="867.8" cy="380.0"/><circle cx="888.5" cy="358.6"/><circle cx="658.9" cy="488.1"/><circle cx="911.4" cy="339.5"/><circle cx="776.7" cy="451.0"/><circle cx="867.9" cy="389.8"/><circle cx="626.4" cy="484.1"/><circle cx="789.2" cy="443.9"/><circle cx="785.8" cy="414.4"/><circle cx="728.7" cy="445.3"/><circle cx="836.3" cy="372.6"/><circle cx="746.2" cy="436.1"/><circle cx="877.4" cy="297.8"/><circle cx="671.7" cy="464.0"/><circle cx="677.0" cy="483.6"/><circle cx="825.8" cy="352.9"/><circle cx="621.8" cy="488.6"/><circle cx="889.0" cy="363.8"/><circle cx="786.7" cy="396.7"/><circle cx="781.0" cy="411.5"/><circle cx="769.1" cy="378.3"/><circle cx="717.0" cy="432.0"/><circle cx="674.6" cy="488.7"/><circle cx="737.8" cy="467.3"/><circle cx="917.4" cy="165.7"/><circle cx="612.7" cy="470.5"/><circle cx="859.8" cy="347.2"/><circle cx="624.2" cy="468.4"/><circle cx="846.9" cy="394.6"/><circle cx="836.5" cy="303.4"/><circle cx="879.5" cy="239.0"/><circle cx="688.6" cy="479.3"/><circle cx="653.7" cy="455.0"/><circle cx="854.3" cy="411.5"/><circle cx="636.0" cy="478.0"/><circle cx="950.9" cy="244.6"/><circle cx="880.4" cy="300.8"/><circle cx="922.3" cy="280.1"/><circle cx="788.3" cy="375.5"/><circle cx="682.7" cy="479.5"/><circle cx="791.0" cy="444.9"/><circle cx="648.1" cy="450.9"/><circle cx="767.6" cy="437.4"/><circle cx="909.2" cy="317.0"/><circle cx="706.7" cy="426.5"/><circle cx="756.2" cy="391.1"/><circle cx="766.1" cy="436.4"/><circle cx="806.8" cy="395.1"/><circle cx="890.5" cy="299.7"/><circle cx="654.0" cy="473.2"/><circle cx="744.9" cy="405.2"/><circle cx="804.7" cy="417.2"/><circle cx="874.9" cy="373.1"/><circle cx="848.2" cy="326.8"/><circle cx="835.9" cy="347.8"/><circle cx="693.3" cy="442.5"/><circle cx="762.3" cy="417.4"/><circle cx="783.3" cy="391.8"/><circle cx="688.7" cy="406.9"/><circle cx="732.8" cy="425.8"/><circle cx="838.6" cy="358.1"/><circle cx="831.4" cy="420.1"/><circle cx="785.3" cy="410.1"/><circle cx="760.4" cy="388.8"/><circle cx="822.1" cy="341.9"/><circle cx="681.5" cy="472.8"/><circle cx="663.3" cy="484.3"/><circle cx="832.9" cy="383.4"/><circle cx="912.3" cy="295.1"/><circle cx="946.1" cy="300.5"/><circle cx="862.1" cy="302.9"/><circle cx="850.6" cy="349.7"/><circle cx="873.2" cy="205.7"/><circle cx="820.6" cy="387.1"/><circle cx="764.4" cy="443.7"/><circle cx="807.3" cy="361.9"/><circle cx="831.0" cy="432.8"/><circle cx="757.2" cy="463.5"/><circle cx="876.3" cy="360.6"/><circle cx="772.5" cy="386.8"/><circle cx="691.5" cy="460.2"/><circle cx="956.5" cy="229.5"/><circle cx="878.3" cy="319.0"/><circle cx="667.3" cy="479.0"/><circle cx="625.4" cy="462.4"/><circle cx="859.9" cy="419.9"/><circle cx="718.4" cy="425.6"/><circle cx="835.2" cy="343.4"/><circle cx="887.6" cy="314.3"/><circle cx="673.3" cy="485.8"/><circle cx="789.6" cy="421.9"/><circle cx="678.1" cy="485.0"/><circle cx="865.3" cy="396.1"/><circle cx="668.0" cy="473.9"/><circle cx="804.5" cy="374.5"/><circle cx="872.3" cy="388.3"/><circle cx="647.3" cy="479.8"/><circle cx="846.8" cy="330.0"/><circle cx="733.5" cy="451.6"/><circle cx="876.0" cy="391.2"/><circle cx="890.5" cy="345.3"/><circle cx="702.3" cy="461.8"/><circle cx="921.1" cy="281.0"/><circle cx="770.9" cy="421.4"/><circle cx="915.5" cy="161.4"/><circle cx="859.1" cy="359.0"/><circle cx="900.9" cy="351.6"/><circle cx="752.3" cy="446.3"/><circle cx="902.2" cy="158.2"/><circle cx="838.2" cy="420.9"/><circle cx="690.7" cy="438.6"/><circle cx="682.4" cy="481.7"/><circle cx="749.6" cy="409.2"/><circle cx="659.8" cy="476.5"/><circle cx="839.9" cy="411.0"/><circle cx="846.1" cy="386.3"/><circle cx="640.0" cy="480.8"/><circle cx="674.4" cy="464.9"/><circle cx="833.8" cy="388.4"/><circle cx="753.2" cy="462.5"/><circle cx="675.7" cy="440.3"/><circle cx="651.4" cy="464.2"/><circle cx="766.9" cy="454.7"/><circle cx="675.5" cy="461.0"/><circle cx="866.5" cy="285.9"/><circle cx="663.6" cy="460.4"/><circle cx="681.1" cy="467.7"/><circle cx="646.7" cy="443.3"/><circle cx="770.8" cy="438.4"/><circle cx="652.7" cy="448.0"/><circle cx="914.3" cy="299.3"/><circle cx="880.9" cy="365.9"/><circle cx="692.7" cy="464.8"/><circle cx="751.7" cy="457.5"/><circle cx="757.4" cy="436.7"/><circle cx="752.3" cy="423.4"/><circle cx="663.8" cy="480.4"/><circle cx="830.4" cy="338.5"/><circle cx="722.9" cy="458.1"/><circle cx="712.8" cy="484.8"/><circle cx="855.5" cy="394.3"/><circle cx="794.4" cy="443.3"/><circle cx="647.4" cy="448.5"/><circle cx="792.9" cy="381.3"/><circle cx="807.5" cy="435.6"/><circle cx="827.2" cy="388.3"/><circle cx="882.4" cy="375.6"/><circle cx="893.5" cy="349.3"/><circle cx="782.3" cy="435.2"/><circle cx="928.2" cy="336.7"/><circle cx="927.3" cy="320.1"/><circle cx="612.8" cy="468.4"/><circle cx="899.3" cy="348.0"/><circle cx="699.0" cy="466.8"/><circle cx="934.1" cy="318.2"/><circle cx="856.9" cy="363.2"/><circle cx="664.0" cy="477.4"/><circle cx="861.5" cy="373.0"/><circle cx="967.7" cy="295.8"/><circle cx="783.7" cy="402.4"/><circle cx="760.9" cy="427.6"/><circle cx="696.0" cy="448.1"/><circle cx="891.3" cy="350.1"/><circle cx="756.3" cy="403.9"/><circle cx="810.5" cy="357.0"/><circle cx="917.8" cy="284.9"/><circle cx="843.7" cy="380.4"/><circle cx="822.0" cy="399.2"/><circle cx="923.0" cy="296.6"/><circle cx="858.4" cy="376.5"/><circle cx="805.4" cy="387.8"/><circle cx="698.0" cy="469.0"/><circle cx="780.0" cy="429.3"/><circle cx="865.4" cy="354.8"/><circle cx="651.2" cy="475.3"/><circle cx="915.8" cy="354.3"/><circle cx="872.8" cy="322.5"/><circle cx="751.6" cy="457.5"/><circle cx="957.7" cy="284.6"/><circle cx="832.4" cy="397.3"/><circle cx="650.4" cy="466.5"/><circle cx="851.9" cy="378.0"/><circle cx="684.7" cy="445.8"/><circle cx="726.8" cy="405.2"/><circle cx="621.8" cy="494.5"/><circle cx="690.7" cy="447.8"/><circle cx="868.8" cy="349.6"/><circle cx="700.3" cy="426.4"/><circle cx="819.5" cy="403.5"/><circle cx="600.6" cy="464.1"/><circle cx="863.5" cy="257.0"/><circle cx="908.9" cy="326.9"/><circle cx="846.5" cy="331.4"/><circle cx="875.7" cy="282.8"/><circle cx="692.7" cy="488.6"/><circle cx="890.2" cy="318.9"/><circle cx="812.3" cy="381.2"/><circle cx="814.6" cy="388.1"/><circle cx="608.7" cy="498.5"/><circle cx="609.1" cy="464.7"/><circle cx="610.6" cy="452.9"/><circle cx="842.3" cy="392.3"/><circle cx="604.6" cy="497.6"/><circle cx="868.1" cy="298.9"/><circle cx="773.7" cy="439.3"/><circle cx="906.8" cy="330.6"/><circle cx="812.0" cy="389.6"/><circle cx="841.5" cy="399.8"/><circle cx="810.6" cy="353.4"/><circle cx="835.5" cy="422.3"/><circle cx="718.7" cy="444.5"/><circle cx="619.6" cy="462.4"/><circle cx="829.4" cy="379.1"/><circle cx="836.1" cy="358.1"/><circle cx="924.2" cy="279.0"/><circle cx="891.9" cy="343.1"/><circle cx="653.8" cy="466.1"/><circle cx="803.9" cy="436.7"/><circle cx="748.2" cy="439.7"/><circle cx="894.7" cy="364.2"/><circle cx="844.8" cy="426.4"/><circle cx="854.9" cy="299.8"/><circle cx="743.4" cy="406.2"/><circle cx="703.1" cy="481.2"/><circle cx="716.5" cy="463.2"/><circle cx="639.5" cy="478.3"/><circle cx="595.8" cy="476.3"/><circle cx="857.6" cy="336.4"/><circle cx="768.9" cy="375.7"/><circle cx="682.2" cy="465.6"/><circle cx="678.3" cy="480.1"/><circle cx="767.6" cy="434.8"/><circle cx="613.3" cy="447.4"/><circle cx="616.9" cy="458.6"/><circle cx="761.5" cy="408.8"/><circle cx="698.4" cy="462.1"/><circle cx="843.0" cy="413.1"/><circle cx="818.4" cy="346.3"/><circle cx="805.6" cy="446.9"/><circle cx="706.6" cy="459.9"/><circle cx="758.3" cy="452.8"/><circle cx="710.0" cy="480.8"/><circle cx="617.6" cy="465.8"/><circle cx="681.9" cy="460.4"/><circle cx="865.6" cy="331.9"/><circle cx="815.3" cy="407.6"/><circle cx="885.5" cy="359.0"/><circle cx="876.7" cy="353.8"/><circle cx="955.3" cy="255.8"/><circle cx="713.0" cy="458.2"/><circle cx="710.5" cy="435.6"/><circle cx="721.2" cy="427.0"/><circle cx="624.9" cy="469.2"/><circle cx="764.8" cy="404.4"/><circle cx="746.1" cy="413.4"/><circle cx="696.7" cy="444.9"/><circle cx="648.7" cy="477.7"/><circle cx="770.4" cy="449.5"/><circle cx="863.8" cy="403.2"/><circle cx="633.3" cy="487.7"/><circle cx="680.5" cy="485.0"/><circle cx="761.5" cy="420.1"/><circle cx="698.0" cy="474.1"/><circle cx="828.9" cy="334.9"/><circle cx="613.4" cy="452.5"/><circle cx="886.0" cy="309.8"/><circle cx="883.1" cy="319.3"/><circle cx="864.7" cy="450.4"/><circle cx="822.5" cy="407.8"/><circle cx="834.4" cy="330.0"/><circle cx="893.9" cy="270.4"/><circle cx="667.2" cy="446.7"/><circle cx="955.8" cy="286.2"/><circle cx="668.1" cy="475.6"/><circle cx="882.0" cy="349.2"/><circle cx="778.7" cy="405.2"/><circle cx="841.6" cy="284.5"/><circle cx="733.0" cy="411.5"/><circle cx="757.1" cy="410.6"/><circle cx="813.7" cy="432.8"/><circle cx="762.8" cy="430.4"/><circle cx="742.5" cy="425.7"/><circle cx="792.4" cy="429.2"/><circle cx="905.5" cy="335.3"/><circle cx="842.0" cy="316.5"/><circle cx="688.7" cy="444.9"/><circle cx="644.8" cy="469.3"/><circle cx="824.6" cy="424.4"/><circle cx="918.4" cy="333.3"/><circle cx="756.5" cy="418.3"/><circle cx="780.4" cy="423.1"/><circle cx="820.8" cy="408.2"/><circle cx="849.7" cy="364.9"/><circle cx="867.0" cy="309.7"/><circle cx="789.3" cy="423.1"/><circle cx="832.5" cy="398.7"/><circle cx="741.5" cy="417.2"/><circle cx="622.8" cy="500.5"/><circle cx="824.2" cy="395.2"/><circle cx="794.4" cy="390.5"/><circle cx="856.1" cy="389.9"/><circle cx="866.8" cy="366.1"/><circle cx="816.5" cy="420.2"/><circle cx="822.4" cy="435.5"/><circle cx="860.4" cy="295.8"/><circle cx="734.0" cy="444.6"/><circle cx="762.8" cy="390.8"/><circle cx="679.4" cy="483.5"/><circle cx="656.8" cy="459.9"/><circle cx="800.1" cy="433.5"/><circle cx="827.2" cy="377.4"/><circle cx="743.4" cy="414.5"/><circle cx="748.0" cy="400.8"/><circle cx="681.8" cy="477.3"/><circle cx="761.0" cy="390.2"/><circle cx="901.1" cy="389.4"/><circle cx="749.2" cy="402.9"/><circle cx="641.2" cy="461.9"/><circle cx="784.4" cy="427.2"/><circle cx="800.9" cy="436.3"/><circle cx="879.6" cy="213.2"/><circle cx="727.7" cy="428.7"/><circle cx="631.7" cy="496.6"/><circle cx="832.7" cy="374.9"/><circle cx="909.9" cy="183.3"/><circle cx="830.0" cy="405.4"/><circle cx="889.5" cy="373.9"/><circle cx="828.7" cy="398.9"/><circle cx="716.5" cy="453.2"/><circle cx="671.1" cy="465.2"/><circle cx="885.9" cy="218.1"/><circle cx="702.7" cy="458.3"/><circle cx="748.9" cy="421.3"/><circle cx="664.7" cy="492.6"/><circle cx="950.2" cy="288.1"/><circle cx="921.2" cy="312.1"/><circle cx="814.5" cy="427.1"/><circle cx="720.7" cy="473.5"/><circle cx="911.5" cy="198.5"/><circle cx="710.0" cy="461.5"/><circle cx="936.3" cy="319.8"/><circle cx="720.1" cy="446.2"/><circle cx="670.7" cy="451.4"/><circle cx="954.2" cy="253.4"/><circle cx="841.7" cy="363.7"/><circle cx="920.3" cy="285.0"/><circle cx="669.8" cy="467.0"/><circle cx="829.3" cy="426.7"/><circle cx="771.4" cy="450.0"/><circle cx="752.8" cy="457.1"/><circle cx="679.2" cy="419.7"/><circle cx="855.0" cy="332.7"/><circle cx="922.0" cy="303.3"/><circle cx="673.6" cy="474.4"/><circle cx="725.8" cy="447.7"/><circle cx="748.5" cy="449.4"/><circle cx="735.3" cy="416.2"/><circle cx="854.4" cy="399.7"/><circle cx="857.9" cy="385.4"/><circle cx="875.9" cy="410.4"/><circle cx="886.1" cy="346.4"/><circle cx="859.4" cy="440.0"/><circle cx="796.4" cy="418.7"/><circle cx="790.4" cy="389.7"/><circle cx="889.4" cy="342.8"/><circle cx="900.3" cy="343.4"/><circle cx="838.8" cy="344.2"/><circle cx="826.5" cy="398.5"/><circle cx="892.8" cy="187.0"/><circle cx="865.4" cy="430.0"/><circle cx="888.1" cy="374.8"/><circle cx="877.2" cy="380.9"/><circle cx="954.4" cy="253.9"/><circle cx="924.3" cy="289.3"/><circle cx="864.8" cy="344.7"/><circle cx="680.6" cy="469.0"/><circle cx="958.1" cy="237.4"/><circle cx="907.9" cy="384.8"/><circle cx="929.4" cy="308.6"/><circle cx="862.6" cy="354.9"/><circle cx="914.2" cy="304.9"/><circle cx="852.1" cy="296.9"/><circle cx="872.2" cy="340.0"/><circle cx="852.9" cy="341.1"/><circle cx="796.9" cy="428.2"/><circle cx="864.2" cy="291.2"/><circle cx="714.1" cy="464.4"/><circle cx="912.6" cy="383.7"/><circle cx="961.9" cy="244.7"/><circle cx="792.0" cy="417.7"/><circle cx="606.2" cy="492.6"/><circle cx="631.4" cy="469.1"/><circle cx="789.3" cy="415.0"/><circle cx="779.2" cy="383.6"/><circle cx="796.8" cy="398.1"/><circle cx="787.5" cy="449.2"/><circle cx="897.1" cy="305.7"/><circle cx="817.3" cy="376.6"/><circle cx="805.2" cy="420.7"/><circle cx="795.2" cy="422.3"/><circle cx="750.1" cy="437.4"/><circle cx="649.0" cy="440.7"/><circle cx="805.2" cy="424.4"/><circle cx="606.3" cy="490.2"/><circle cx="813.9" cy="388.4"/><circle cx="906.9" cy="314.1"/><circle cx="909.4" cy="160.9"/><circle cx="867.5" cy="373.1"/><circle cx="718.2" cy="450.7"/><circle cx="933.0" cy="354.7"/><circle cx="622.8" cy="500.1"/><circle cx="791.5" cy="434.0"/><circle cx="721.1" cy="438.6"/><circle cx="645.2" cy="460.0"/><circle cx="757.6" cy="385.4"/><circle cx="890.5" cy="316.4"/><circle cx="865.0" cy="394.6"/><circle cx="718.4" cy="409.3"/><circle cx="860.3" cy="386.6"/><circle cx="770.5" cy="370.2"/><circle cx="658.6" cy="453.3"/><circle cx="764.8" cy="440.6"/><circle cx="807.5" cy="369.6"/><circle cx="657.3" cy="449.4"/><circle cx="907.3" cy="287.7"/><circle cx="762.8" cy="415.2"/><circle cx="857.0" cy="407.4"/><circle cx="720.8" cy="479.9"/><circle cx="775.7" cy="419.0"/><circle cx="777.6" cy="419.7"/><circle cx="713.6" cy="423.3"/><circle cx="740.2" cy="428.9"/><circle cx="827.7" cy="320.5"/><circle cx="719.8" cy="434.8"/><circle cx="619.1" cy="467.0"/><circle cx="655.7" cy="473.1"/><circle cx="791.8" cy="430.0"/><circle cx="856.5" cy="372.9"/><circle cx="795.6" cy="379.8"/><circle cx="674.5" cy="468.6"/><circle cx="957.0" cy="256.8"/><circle cx="855.9" cy="386.6"/><circle cx="895.4" cy="278.7"/><circle cx="790.9" cy="348.5"/><circle cx="654.8" cy="490.3"/><circle cx="716.4" cy="410.3"/><circle cx="870.7" cy="429.1"/><circle cx="661.7" cy="473.0"/><circle cx="665.7" cy="456.8"/><circle cx="913.1" cy="200.1"/><circle cx="671.4" cy="489.4"/><circle cx="879.6" cy="297.5"/><circle cx="686.6" cy="474.4"/><circle cx="689.1" cy="439.7"/><circle cx="903.6" cy="417.3"/><circle cx="751.8" cy="465.4"/><circle cx="912.1" cy="292.2"/><circle cx="932.7" cy="355.0"/><circle cx="765.0" cy="435.7"/><circle cx="911.8" cy="334.0"/><circle cx="926.5" cy="290.4"/><circle cx="910.9" cy="345.1"/><circle cx="727.5" cy="468.7"/><circle cx="912.3" cy="180.1"/><circle cx="935.3" cy="311.8"/><circle cx="894.8" cy="368.8"/><circle cx="836.1" cy="348.1"/><circle cx="735.9" cy="418.1"/><circle cx="854.6" cy="365.8"/><circle cx="796.7" cy="403.1"/><circle cx="898.8" cy="397.4"/><circle cx="660.7" cy="483.9"/><circle cx="637.0" cy="477.5"/><circle cx="697.3" cy="484.8"/><circle cx="643.7" cy="498.4"/><circle cx="937.6" cy="299.8"/><circle cx="639.8" cy="485.9"/><circle cx="610.2" cy="473.9"/><circle cx="898.6" cy="354.2"/><circle cx="782.7" cy="409.7"/><circle cx="843.9" cy="426.0"/><circle cx="863.5" cy="421.9"/><circle cx="754.4" cy="415.5"/><circle cx="595.9" cy="467.3"/><circle cx="832.7" cy="325.9"/><circle cx="733.9" cy="453.8"/><circle cx="718.4" cy="452.0"/><circle cx="656.1" cy="468.1"/><circle cx="897.4" cy="203.6"/><circle cx="683.3" cy="456.8"/><circle cx="717.3" cy="411.1"/><circle cx="706.2" cy="444.3"/><circle cx="678.3" cy="417.9"/><circle cx="672.2" cy="454.7"/><circle cx="809.5" cy="391.7"/><circle cx="826.7" cy="347.0"/><circle cx="615.2" cy="485.7"/><circle cx="805.1" cy="415.7"/><circle cx="620.4" cy="470.8"/><circle cx="763.3" cy="451.6"/><circle cx="809.4" cy="349.4"/><circle cx="852.3" cy="327.3"/><circle cx="761.7" cy="420.0"/><circle cx="653.9" cy="454.7"/><circle cx="902.2" cy="348.7"/><circle cx="812.7" cy="354.0"/><circle cx="871.1" cy="239.9"/><circle cx="751.3" cy="417.2"/><circle cx="815.3" cy="368.0"/><circle cx="743.0" cy="458.7"/><circle cx="781.4" cy="381.8"/><circle cx="865.6" cy="367.1"/><circle cx="846.6" cy="424.0"/><circle cx="893.4" cy="333.3"/><circle cx="916.1" cy="322.8"/><circle cx="832.2" cy="355.2"/><circle cx="725.0" cy="449.5"/><circle cx="874.5" cy="312.4"/><circle cx="609.8" cy="499.3"/><circle cx="639.8" cy="469.3"/><circle cx="876.8" cy="329.1"/><circle cx="828.2" cy="329.4"/><circle cx="826.2" cy="387.0"/><circle cx="798.5" cy="417.5"/><circle cx="886.3" cy="237.2"/><circle cx="906.8" cy="339.6"/><circle cx="846.9" cy="324.1"/><circle cx="800.7" cy="324.6"/><circle cx="787.2" cy="425.8"/><circle cx="791.2" cy="381.3"/><circle cx="659.9" cy="484.2"/><circle cx="858.3" cy="440.8"/><circle cx="752.6" cy="391.9"/><circle cx="646.8" cy="462.1"/><circle cx="805.8" cy="375.1"/><circle cx="897.2" cy="312.1"/><circle cx="797.4" cy="410.4"/><circle cx="732.6" cy="437.3"/><circle cx="925.3" cy="310.9"/><circle cx="833.8" cy="380.4"/><circle cx="733.9" cy="403.6"/><circle cx="675.0" cy="461.5"/><circle cx="848.6" cy="406.6"/><circle cx="655.5" cy="452.1"/><circle cx="845.2" cy="325.1"/><circle cx="804.6" cy="401.8"/><circle cx="848.0" cy="419.4"/><circle cx="792.7" cy="414.4"/><circle cx="648.4" cy="443.8"/><circle cx="879.7" cy="344.2"/><circle cx="641.1" cy="475.9"/><circle cx="620.1" cy="492.6"/><circle cx="874.5" cy="318.7"/><circle cx="772.0" cy="484.7"/><circle cx="770.0" cy="438.3"/><circle cx="634.7" cy="488.1"/><circle cx="851.8" cy="331.1"/><circle cx="690.7" cy="465.8"/><circle cx="671.2" cy="490.6"/><circle cx="916.4" cy="318.8"/><circle cx="647.2" cy="472.8"/><circle cx="642.6" cy="488.6"/><circle cx="849.2" cy="395.8"/><circle cx="844.5" cy="402.6"/><circle cx="912.3" cy="192.9"/><circle cx="765.6" cy="373.4"/><circle cx="715.6" cy="398.5"/><circle cx="660.3" cy="474.8"/><circle cx="889.3" cy="348.6"/><circle cx="752.5" cy="436.3"/><circle cx="830.8" cy="414.3"/><circle cx="679.6" cy="467.1"/><circle cx="652.3" cy="477.5"/><circle cx="867.8" cy="374.4"/><circle cx="740.9" cy="468.3"/><circle cx="915.0" cy="310.0"/><circle cx="819.5" cy="427.7"/><circle cx="646.3" cy="495.2"/><circle cx="668.0" cy="480.3"/><circle cx="891.6" cy="227.3"/><circle cx="852.4" cy="365.6"/><circle cx="765.8" cy="456.2"/><circle cx="709.4" cy="434.1"/><circle cx="756.1" cy="398.6"/><circle cx="876.4" cy="272.9"/><circle cx="900.1" cy="390.6"/><circle cx="626.4" cy="493.6"/><circle cx="776.6" cy="450.8"/><circle cx="729.0" cy="445.0"/><circle cx="726.7" cy="455.1"/><circle cx="815.5" cy="424.6"/><circle cx="656.4" cy="451.3"/><circle cx="659.2" cy="493.1"/><circle cx="905.0" cy="313.7"/><circle cx="913.7" cy="247.1"/><circle cx="896.3" cy="356.3"/><circle cx="829.2" cy="410.2"/><circle cx="753.6" cy="427.2"/><circle cx="941.3" cy="319.4"/><circle cx="675.1" cy="454.8"/><circle cx="676.0" cy="465.1"/><circle cx="726.2" cy="430.6"/><circle cx="876.4" cy="329.1"/><circle cx="736.4" cy="428.6"/><circle cx="968.4" cy="279.3"/><circle cx="817.0" cy="407.6"/><circle cx="668.7" cy="486.1"/><circle cx="683.6" cy="449.0"/><circle cx="941.6" cy="294.3"/><circle cx="602.9" cy="489.3"/><circle cx="863.3" cy="302.2"/><circle cx="678.9" cy="460.7"/><circle cx="663.7" cy="467.7"/><circle cx="633.3" cy="476.9"/><circle cx="844.5" cy="413.9"/><circle cx="635.2" cy="468.8"/><circle cx="868.5" cy="306.3"/><circle cx="672.2" cy="478.4"/><circle cx="881.1" cy="288.1"/><circle cx="953.0" cy="276.2"/><circle cx="958.6" cy="152.8"/><circle cx="730.2" cy="425.1"/><circle cx="942.7" cy="309.1"/><circle cx="657.4" cy="472.2"/><circle cx="868.1" cy="368.0"/><circle cx="769.0" cy="458.0"/><circle cx="660.4" cy="487.5"/><circle cx="841.1" cy="394.5"/><circle cx="791.7" cy="361.3"/><circle cx="677.1" cy="434.1"/><circle cx="690.8" cy="469.4"/><circle cx="876.6" cy="339.2"/><circle cx="840.9" cy="342.3"/><circle cx="795.7" cy="426.1"/><circle cx="625.9" cy="494.4"/><circle cx="813.5" cy="430.8"/><circle cx="770.9" cy="454.4"/><circle cx="645.6" cy="452.3"/><circle cx="733.0" cy="429.7"/><circle cx="762.7" cy="440.7"/><circle cx="752.4" cy="420.4"/><circle cx="767.3" cy="391.4"/><circle cx="854.0" cy="305.8"/><circle cx="820.0" cy="430.8"/><circle cx="892.2" cy="326.0"/><circle cx="597.6" cy="464.1"/><circle cx="781.6" cy="429.6"/><circle cx="814.1" cy="332.9"/><circle cx="900.4" cy="328.1"/><circle cx="780.7" cy="371.2"/><circle cx="613.4" cy="499.5"/><circle cx="659.3" cy="477.7"/><circle cx="953.1" cy="277.5"/><circle cx="646.4" cy="470.3"/><circle cx="901.7" cy="313.9"/><circle cx="821.6" cy="418.4"/><circle cx="644.0" cy="475.5"/><circle cx="831.2" cy="351.2"/><circle cx="879.0" cy="304.6"/><circle cx="701.2" cy="443.9"/><circle cx="796.2" cy="397.0"/><circle cx="665.1" cy="450.3"/><circle cx="822.7" cy="415.0"/><circle cx="867.6" cy="320.8"/><circle cx="882.4" cy="312.8"/><circle cx="682.1" cy="461.5"/><circle cx="702.6" cy="440.7"/><circle cx="892.5" cy="354.2"/><circle cx="891.8" cy="301.1"/><circle cx="657.9" cy="449.5"/><circle cx="671.7" cy="480.7"/><circle cx="740.6" cy="464.3"/><circle cx="947.1" cy="276.4"/><circle cx="672.4" cy="448.1"/><circle cx="908.5" cy="339.8"/><circle cx="844.2" cy="341.3"/><circle cx="783.9" cy="408.5"/><circle cx="654.4" cy="485.3"/><circle cx="852.0" cy="340.2"/><circle cx="744.9" cy="433.6"/><circle cx="903.2" cy="392.0"/><circle cx="858.8" cy="353.5"/><circle cx="854.0" cy="387.4"/><circle cx="667.9" cy="450.2"/><circle cx="935.7" cy="311.5"/><circle cx="736.0" cy="414.7"/><circle cx="803.5" cy="366.2"/><circle cx="639.3" cy="495.7"/><circle cx="882.4" cy="318.4"/><circle cx="876.8" cy="355.2"/><circle cx="835.0" cy="351.2"/><circle cx="911.1" cy="300.9"/><circle cx="794.4" cy="357.0"/><circle cx="844.1" cy="410.7"/><circle cx="799.7" cy="397.0"/><circle cx="773.8" cy="446.8"/><circle cx="921.5" cy="292.3"/><circle cx="650.9" cy="451.9"/><circle cx="939.2" cy="323.0"/><circle cx="836.1" cy="403.9"/><circle cx="738.6" cy="430.2"/><circle cx="844.0" cy="402.2"/><circle cx="842.1" cy="377.7"/><circle cx="664.3" cy="448.7"/><circle cx="777.3" cy="390.3"/><circle cx="720.3" cy="442.8"/><circle cx="803.9" cy="438.0"/><circle cx="848.6" cy="321.0"/><circle cx="713.0" cy="455.1"/><circle cx="807.4" cy="415.3"/><circle cx="778.2" cy="365.8"/><circle cx="770.9" cy="423.6"/><circle cx="892.2" cy="359.2"/><circle cx="910.7" cy="228.0"/><circle cx="616.8" cy="492.0"/><circle cx="935.1" cy="321.3"/><circle cx="885.6" cy="309.1"/><circle cx="668.5" cy="446.1"/><circle cx="823.7" cy="427.6"/><circle cx="873.5" cy="326.0"/><circle cx="845.3" cy="411.0"/><circle cx="838.0" cy="391.0"/><circle cx="696.2" cy="473.7"/><circle cx="926.8" cy="286.4"/><circle cx="823.0" cy="413.3"/><circle cx="861.4" cy="361.4"/><circle cx="640.4" cy="491.2"/><circle cx="688.8" cy="483.5"/><circle cx="834.6" cy="417.3"/><circle cx="784.6" cy="417.6"/><circle cx="889.4" cy="273.4"/><circle cx="684.6" cy="440.2"/><circle cx="765.2" cy="414.8"/><circle cx="918.0" cy="325.0"/><circle cx="766.2" cy="383.5"/><circle cx="673.6" cy="492.6"/><circle cx="908.9" cy="328.5"/><circle cx="898.7" cy="308.6"/><circle cx="783.3" cy="437.4"/><circle cx="649.1" cy="465.0"/><circle cx="669.6" cy="445.1"/><circle cx="639.3" cy="484.4"/><circle cx="843.6" cy="294.9"/><circle cx="634.3" cy="463.8"/><circle cx="641.8" cy="452.6"/><circle cx="774.4" cy="402.9"/><circle cx="670.7" cy="457.0"/><circle cx="757.4" cy="445.9"/><circle cx="871.9" cy="441.0"/><circle cx="741.3" cy="398.5"/><circle cx="742.7" cy="431.1"/><circle cx="924.5" cy="326.5"/><circle cx="731.8" cy="457.6"/><circle cx="820.9" cy="382.0"/><circle cx="791.4" cy="389.9"/><circle cx="892.8" cy="222.4"/><circle cx="652.3" cy="490.2"/><circle cx="884.0" cy="359.1"/><circle cx="823.8" cy="386.6"/><circle cx="651.5" cy="457.4"/><circle cx="931.6" cy="311.8"/><circle cx="642.5" cy="473.8"/><circle cx="956.2" cy="277.5"/><circle cx="952.4" cy="252.9"/><circle cx="824.0" cy="390.0"/><circle cx="680.8" cy="470.3"/><circle cx="913.5" cy="375.7"/><circle cx="915.6" cy="302.4"/><circle cx="752.5" cy="459.7"/><circle cx="907.0" cy="318.9"/><circle cx="861.3" cy="389.8"/><circle cx="889.3" cy="332.9"/><circle cx="891.0" cy="316.6"/><circle cx="696.9" cy="446.0"/><circle cx="865.9" cy="358.5"/><circle cx="903.5" cy="254.2"/><circle cx="901.1" cy="328.1"/><circle cx="763.6" cy="392.6"/><circle cx="870.1" cy="312.5"/><circle cx="961.5" cy="229.5"/><circle cx="831.9" cy="426.8"/><circle cx="853.3" cy="313.4"/><circle cx="855.3" cy="306.3"/><circle cx="905.7" cy="306.8"/><circle cx="789.3" cy="400.9"/><circle cx="859.9" cy="425.3"/><circle cx="702.7" cy="479.1"/><circle cx="776.7" cy="417.8"/><circle cx="722.3" cy="479.1"/><circle cx="855.1" cy="293.5"/><circle cx="820.3" cy="381.9"/><circle cx="862.5" cy="315.8"/><circle cx="750.8" cy="466.3"/><circle cx="757.2" cy="387.5"/><circle cx="675.4" cy="488.6"/><circle cx="922.8" cy="297.7"/><circle cx="866.8" cy="379.2"/><circle cx="853.0" cy="404.8"/><circle cx="784.3" cy="400.7"/><circle cx="952.9" cy="270.3"/><circle cx="873.2" cy="221.6"/><circle cx="670.2" cy="464.9"/><circle cx="871.9" cy="327.8"/><circle cx="822.3" cy="407.5"/><circle cx="855.5" cy="383.1"/><circle cx="767.2" cy="415.7"/><circle cx="641.7" cy="483.9"/><circle cx="935.5" cy="308.9"/><circle cx="698.0" cy="482.4"/><circle cx="966.2" cy="253.8"/><circle cx="834.8" cy="446.5"/><circle cx="842.8" cy="418.7"/><circle cx="923.2" cy="280.6"/><circle cx="849.2" cy="348.8"/><circle cx="806.2" cy="401.6"/><circle cx="844.3" cy="353.1"/><circle cx="860.8" cy="307.9"/><circle cx="680.0" cy="434.4"/><circle cx="659.7" cy="489.5"/><circle cx="732.5" cy="452.1"/><circle cx="959.3" cy="262.7"/><circle cx="655.6" cy="496.7"/><circle cx="754.1" cy="448.9"/><circle cx="679.7" cy="478.9"/><circle cx="868.0" cy="439.1"/><circle cx="790.9" cy="356.6"/><circle cx="825.8" cy="426.8"/><circle cx="919.1" cy="338.9"/><circle cx="709.9" cy="447.1"/><circle cx="657.6" cy="488.4"/><circle cx="859.3" cy="335.4"/><circle cx="740.8" cy="468.9"/><circle cx="667.9" cy="494.4"/><circle cx="712.4" cy="420.7"/><circle cx="709.7" cy="426.7"/><circle cx="671.7" cy="468.5"/><circle cx="781.7" cy="446.9"/><circle cx="821.5" cy="353.5"/><circle cx="692.5" cy="439.9"/><circle cx="932.0" cy="269.1"/><circle cx="878.8" cy="384.8"/><circle cx="774.8" cy="421.0"/><circle cx="767.3" cy="398.0"/><circle cx="890.9" cy="235.7"/><circle cx="764.1" cy="409.1"/><circle cx="834.6" cy="393.6"/><circle cx="925.1" cy="265.8"/><circle cx="877.3" cy="371.4"/><circle cx="722.3" cy="426.5"/><circle cx="836.6" cy="367.1"/><circle cx="845.0" cy="274.3"/><circle cx="687.9" cy="447.0"/><circle cx="641.4" cy="466.7"/><circle cx="871.3" cy="312.0"/><circle cx="775.6" cy="382.9"/><circle cx="720.8" cy="436.4"/><circle cx="877.7" cy="309.3"/><circle cx="794.7" cy="394.9"/><circle cx="652.4" cy="484.5"/><circle cx="916.4" cy="292.0"/><circle cx="910.8" cy="341.8"/><circle cx="787.4" cy="421.8"/><circle cx="909.1" cy="328.3"/><circle cx="941.3" cy="296.3"/><circle cx="788.2" cy="407.8"/><circle cx="876.6" cy="349.9"/><circle cx="768.9" cy="404.7"/><circle cx="827.3" cy="402.3"/><circle cx="689.7" cy="469.7"/><circle cx="956.0" cy="268.0"/><circle cx="701.7" cy="417.5"/><circle cx="698.5" cy="480.0"/><circle cx="901.1" cy="403.1"/><circle cx="662.9" cy="447.2"/><circle cx="654.4" cy="453.8"/><circle cx="876.2" cy="356.0"/><circle cx="901.9" cy="340.0"/><circle cx="708.0" cy="465.1"/><circle cx="831.4" cy="305.0"/><circle cx="657.6" cy="485.6"/><circle cx="841.2" cy="330.4"/><circle cx="685.3" cy="448.3"/><circle cx="818.1" cy="428.9"/><circle cx="616.9" cy="494.9"/><circle cx="788.9" cy="438.1"/><circle cx="661.0" cy="477.9"/><circle cx="626.1" cy="473.0"/><circle cx="605.4" cy="472.0"/><circle cx="890.6" cy="367.1"/><circle cx="631.1" cy="461.6"/><circle cx="701.6" cy="417.1"/><circle cx="816.1" cy="392.9"/><circle cx="926.0" cy="330.0"/><circle cx="836.6" cy="336.9"/><circle cx="792.6" cy="359.7"/><circle cx="656.1" cy="449.2"/><circle cx="908.3" cy="385.6"/><circle cx="814.5" cy="363.5"/><circle cx="729.4" cy="422.0"/><circle cx="860.1" cy="369.4"/><circle cx="613.6" cy="469.4"/><circle cx="761.8" cy="428.1"/><circle cx="799.0" cy="403.0"/><circle cx="597.4" cy="469.5"/><circle cx="753.8" cy="391.7"/><circle cx="768.3" cy="425.3"/><circle cx="609.3" cy="476.7"/><circle cx="700.0" cy="453.1"/><circle cx="814.5" cy="408.9"/><circle cx="835.3" cy="424.1"/><circle cx="866.2" cy="361.1"/><circle cx="654.4" cy="458.5"/><circle cx="644.9" cy="467.8"/><circle cx="906.3" cy="402.6"/><circle cx="858.8" cy="340.1"/><circle cx="636.6" cy="487.5"/><circle cx="620.7" cy="488.7"/><circle cx="708.8" cy="486.0"/><circle cx="890.4" cy="317.3"/><circle cx="832.3" cy="337.8"/><circle cx="886.7" cy="365.4"/><circle cx="845.3" cy="390.9"/><circle cx="617.8" cy="488.5"/><circle cx="917.5" cy="335.1"/><circle cx="830.9" cy="433.4"/><circle cx="882.7" cy="372.2"/><circle cx="879.4" cy="329.9"/><circle cx="855.2" cy="323.7"/><circle cx="882.9" cy="345.0"/><circle cx="847.7" cy="394.0"/><circle cx="766.1" cy="413.6"/><circle cx="822.9" cy="343.8"/><circle cx="813.8" cy="378.7"/><circle cx="831.2" cy="385.2"/><circle cx="747.4" cy="458.7"/><circle cx="648.3" cy="441.9"/><circle cx="937.3" cy="323.7"/><circle cx="825.9" cy="412.7"/><circle cx="860.5" cy="385.7"/><circle cx="862.4" cy="327.9"/><circle cx="648.8" cy="456.7"/><circle cx="881.2" cy="297.6"/><circle cx="815.2" cy="415.0"/><circle cx="863.3" cy="397.5"/><circle cx="911.1" cy="316.0"/><circle cx="663.3" cy="441.5"/><circle cx="663.9" cy="480.3"/><circle cx="807.2" cy="410.5"/><circle cx="836.5" cy="332.2"/><circle cx="684.2" cy="446.7"/><circle cx="789.6" cy="401.8"/><circle cx="897.9" cy="190.5"/><circle cx="831.7" cy="327.6"/><circle cx="739.2" cy="424.9"/><circle cx="602.9" cy="481.3"/><circle cx="710.4" cy="482.8"/><circle cx="760.2" cy="383.2"/><circle cx="716.7" cy="442.8"/><circle cx="845.8" cy="346.2"/><circle cx="872.6" cy="250.1"/><circle cx="916.6" cy="299.6"/><circle cx="878.7" cy="361.0"/><circle cx="744.7" cy="416.3"/><circle cx="662.0" cy="464.3"/><circle cx="787.6" cy="423.6"/><circle cx="846.3" cy="384.0"/><circle cx="849.0" cy="294.2"/><circle cx="824.3" cy="426.4"/><circle cx="790.5" cy="373.0"/><circle cx="797.2" cy="450.1"/><circle cx="880.0" cy="333.7"/><circle cx="642.9" cy="496.9"/><circle cx="831.6" cy="352.2"/><circle cx="637.0" cy="496.4"/><circle cx="679.9" cy="458.9"/><circle cx="826.9" cy="426.1"/><circle cx="881.8" cy="372.5"/><circle cx="862.6" cy="359.2"/><circle cx="920.8" cy="286.4"/><circle cx="847.0" cy="427.3"/><circle cx="864.6" cy="382.8"/><circle cx="727.6" cy="441.6"/><circle cx="623.1" cy="479.9"/><circle cx="781.7" cy="379.7"/><circle cx="898.8" cy="384.8"/><circle cx="867.7" cy="302.4"/><circle cx="829.1" cy="320.2"/><circle cx="609.8" cy="487.8"/><circle cx="838.3" cy="317.0"/><circle cx="676.2" cy="464.4"/><circle cx="737.9" cy="399.8"/><circle cx="933.4" cy="302.4"/><circle cx="738.4" cy="413.2"/><circle cx="728.6" cy="447.2"/><circle cx="864.0" cy="307.1"/><circle cx="662.3" cy="464.2"/><circle cx="693.7" cy="448.8"/><circle cx="812.9" cy="315.3"/><circle cx="832.4" cy="361.5"/><circle cx="944.9" cy="300.7"/><circle cx="612.2" cy="456.3"/><circle cx="682.9" cy="471.4"/><circle cx="805.5" cy="417.5"/><circle cx="837.3" cy="330.7"/><circle cx="908.1" cy="336.1"/><circle cx="718.1" cy="452.5"/><circle cx="706.0" cy="482.1"/><circle cx="615.1" cy="450.1"/><circle cx="930.2" cy="312.9"/><circle cx="814.5" cy="433.7"/><circle cx="873.1" cy="354.3"/><circle cx="755.1" cy="441.2"/><circle cx="829.3" cy="378.8"/><circle cx="733.2" cy="465.5"/><circle cx="850.7" cy="362.9"/><circle cx="736.7" cy="418.8"/><circle cx="860.4" cy="311.2"/><circle cx="917.0" cy="290.2"/><circle cx="721.4" cy="409.5"/><circle cx="721.1" cy="418.9"/><circle cx="860.2" cy="305.6"/><circle cx="855.3" cy="368.6"/><circle cx="913.6" cy="374.5"/><circle cx="694.6" cy="484.7"/><circle cx="626.7" cy="489.4"/><circle cx="792.1" cy="386.0"/><circle cx="779.9" cy="448.6"/><circle cx="786.9" cy="431.5"/><circle cx="647.2" cy="446.6"/><circle cx="958.9" cy="229.2"/><circle cx="844.5" cy="381.1"/><circle cx="736.4" cy="461.7"/><circle cx="828.6" cy="351.6"/><circle cx="935.8" cy="238.7"/><circle cx="669.6" cy="471.1"/><circle cx="649.4" cy="466.6"/><circle cx="771.1" cy="423.9"/><circle cx="680.8" cy="443.5"/><circle cx="873.2" cy="336.8"/><circle cx="832.7" cy="408.1"/><circle cx="930.4" cy="292.0"/><circle cx="895.6" cy="353.2"/><circle cx="802.4" cy="363.8"/><circle cx="925.6" cy="283.1"/><circle cx="803.4" cy="423.2"/><circle cx="734.6" cy="446.8"/><circle cx="662.4" cy="490.0"/><circle cx="854.4" cy="335.5"/><circle cx="762.8" cy="407.0"/><circle cx="761.0" cy="383.4"/><circle cx="658.7" cy="454.3"/><circle cx="670.2" cy="487.2"/><circle cx="714.4" cy="421.7"/><circle cx="814.8" cy="384.0"/><circle cx="614.4" cy="458.2"/><circle cx="637.5" cy="482.3"/><circle cx="763.7" cy="443.8"/><circle cx="636.9" cy="481.8"/><circle cx="920.0" cy="328.9"/><circle cx="875.7" cy="230.8"/><circle cx="795.7" cy="439.6"/><circle cx="738.8" cy="436.8"/><circle cx="921.2" cy="281.6"/><circle cx="850.2" cy="321.0"/><circle cx="645.3" cy="471.3"/><circle cx="871.9" cy="235.7"/><circle cx="712.9" cy="416.2"/><circle cx="807.4" cy="404.5"/><circle cx="920.2" cy="313.6"/><circle cx="596.7" cy="470.0"/><circle cx="744.6" cy="424.1"/><circle cx="753.4" cy="402.3"/><circle cx="659.0" cy="456.2"/><circle cx="848.1" cy="357.1"/><circle cx="597.1" cy="467.6"/><circle cx="812.4" cy="380.9"/><circle cx="671.3" cy="486.6"/><circle cx="840.9" cy="401.8"/><circle cx="819.0" cy="356.4"/><circle cx="740.2" cy="460.1"/><circle cx="628.4" cy="462.9"/><circle cx="727.8" cy="458.0"/><circle cx="761.3" cy="402.1"/><circle cx="764.3" cy="425.6"/><circle cx="704.0" cy="468.4"/><circle cx="860.4" cy="367.4"/><circle cx="934.0" cy="252.4"/><circle cx="626.2" cy="492.9"/><circle cx="740.7" cy="467.1"/><circle cx="697.3" cy="446.0"/><circle cx="857.2" cy="362.6"/><circle cx="820.1" cy="414.9"/><circle cx="672.9" cy="453.3"/><circle cx="883.7" cy="307.8"/><circle cx="873.9" cy="302.7"/><circle cx="845.8" cy="394.5"/><circle cx="876.3" cy="310.4"/><circle cx="614.0" cy="451.6"/><circle cx="725.1" cy="406.3"/><circle cx="830.1" cy="334.3"/><circle cx="622.4" cy="492.5"/><circle cx="648.8" cy="493.4"/><circle cx="687.4" cy="438.5"/><circle cx="844.3" cy="376.9"/><circle cx="909.0" cy="344.3"/><circle cx="857.5" cy="361.0"/><circle cx="860.0" cy="383.8"/><circle cx="699.7" cy="469.0"/><circle cx="912.3" cy="204.9"/><circle cx="626.3" cy="477.0"/><circle cx="834.0" cy="363.8"/><circle cx="709.0" cy="416.3"/><circle cx="806.4" cy="375.2"/><circle cx="965.5" cy="241.1"/><circle cx="653.5" cy="474.3"/><circle cx="809.2" cy="348.0"/><circle cx="756.1" cy="416.7"/><circle cx="870.3" cy="327.2"/><circle cx="808.5" cy="398.8"/><circle cx="963.1" cy="145.9"/><circle cx="598.1" cy="478.6"/><circle cx="878.2" cy="302.9"/><circle cx="699.2" cy="435.1"/><circle cx="670.1" cy="467.6"/><circle cx="734.2" cy="391.3"/><circle cx="854.0" cy="383.8"/><circle cx="614.8" cy="456.2"/><circle cx="613.5" cy="488.8"/><circle cx="829.2" cy="370.9"/><circle cx="650.8" cy="488.7"/><circle cx="831.6" cy="418.3"/><circle cx="880.9" cy="321.7"/><circle cx="865.6" cy="349.2"/><circle cx="899.3" cy="329.8"/><circle cx="856.2" cy="287.9"/><circle cx="798.6" cy="452.7"/><circle cx="939.7" cy="292.8"/><circle cx="865.0" cy="327.4"/><circle cx="879.9" cy="350.9"/><circle cx="941.0" cy="303.8"/><circle cx="757.6" cy="415.0"/><circle cx="786.9" cy="391.6"/><circle cx="665.5" cy="469.8"/><circle cx="686.6" cy="439.4"/><circle cx="921.1" cy="321.5"/><circle cx="967.2" cy="98.0"/><circle cx="622.1" cy="484.5"/><circle cx="741.4" cy="441.0"/><circle cx="670.3" cy="485.9"/><circle cx="671.5" cy="494.3"/><circle cx="750.8" cy="411.7"/><circle cx="717.0" cy="472.0"/><circle cx="703.8" cy="440.4"/><circle cx="861.3" cy="355.9"/><circle cx="686.7" cy="487.6"/><circle cx="671.3" cy="453.7"/><circle cx="938.2" cy="322.6"/><circle cx="615.5" cy="459.8"/><circle cx="663.6" cy="492.5"/><circle cx="682.8" cy="486.5"/><circle cx="918.6" cy="239.8"/><circle cx="757.7" cy="399.2"/><circle cx="614.8" cy="455.5"/><circle cx="915.9" cy="323.5"/><circle cx="598.3" cy="464.1"/><circle cx="763.6" cy="374.9"/><circle cx="842.3" cy="363.0"/><circle cx="935.7" cy="310.1"/><circle cx="887.2" cy="191.6"/><circle cx="729.1" cy="469.2"/><circle cx="789.5" cy="388.8"/><circle cx="839.1" cy="294.3"/><circle cx="683.5" cy="437.2"/><circle cx="852.2" cy="311.6"/><circle cx="724.6" cy="418.4"/><circle cx="718.2" cy="430.5"/><circle cx="666.7" cy="459.0"/><circle cx="935.6" cy="297.3"/><circle cx="635.8" cy="498.2"/><circle cx="689.6" cy="449.7"/><circle cx="863.6" cy="330.3"/><circle cx="646.8" cy="477.4"/><circle cx="614.8" cy="457.7"/><circle cx="838.9" cy="391.7"/><circle cx="855.7" cy="297.8"/><circle cx="948.8" cy="237.2"/><circle cx="677.8" cy="491.8"/><circle cx="630.1" cy="470.1"/><circle cx="838.3" cy="308.7"/><circle cx="647.1" cy="484.7"/><circle cx="893.6" cy="260.0"/><circle cx="939.1" cy="252.1"/><circle cx="859.8" cy="462.0"/><circle cx="601.5" cy="467.1"/><circle cx="649.3" cy="477.7"/><circle cx="765.4" cy="400.8"/><circle cx="685.4" cy="462.8"/><circle cx="620.8" cy="497.6"/><circle cx="612.3" cy="450.5"/><circle cx="720.7" cy="454.6"/><circle cx="759.4" cy="462.7"/><circle cx="950.2" cy="233.8"/><circle cx="815.1" cy="395.1"/><circle cx="707.8" cy="491.8"/><circle cx="613.7" cy="457.8"/><circle cx="701.7" cy="441.6"/><circle cx="923.2" cy="278.6"/><circle cx="729.3" cy="473.2"/><circle cx="855.8" cy="340.5"/><circle cx="808.8" cy="383.2"/><circle cx="769.0" cy="378.0"/><circle cx="821.1" cy="415.6"/><circle cx="829.4" cy="368.8"/><circle cx="643.2" cy="486.3"/><circle cx="674.8" cy="459.2"/><circle cx="723.6" cy="477.9"/><circle cx="871.8" cy="370.7"/><circle cx="664.5" cy="462.1"/><circle cx="841.4" cy="359.1"/><circle cx="831.2" cy="367.5"/><circle cx="741.4" cy="439.8"/><circle cx="677.5" cy="460.2"/><circle cx="707.9" cy="424.4"/><circle cx="829.4" cy="376.8"/><circle cx="775.8" cy="437.7"/><circle cx="684.8" cy="438.4"/><circle cx="758.4" cy="395.2"/><circle cx="768.0" cy="426.0"/><circle cx="831.1" cy="344.5"/><circle cx="784.1" cy="426.1"/><circle cx="643.1" cy="493.8"/><circle cx="883.1" cy="353.8"/><circle cx="774.8" cy="371.9"/><circle cx="609.9" cy="485.9"/><circle cx="797.0" cy="433.8"/><circle cx="868.3" cy="353.8"/><circle cx="895.3" cy="310.2"/><circle cx="885.8" cy="353.2"/><circle cx="875.8" cy="340.7"/><circle cx="875.8" cy="288.0"/><circle cx="875.7" cy="292.7"/><circle cx="862.1" cy="323.5"/><circle cx="842.1" cy="315.7"/><circle cx="690.1" cy="462.7"/><circle cx="639.9" cy="487.0"/><circle cx="802.2" cy="402.2"/><circle cx="882.7" cy="342.4"/><circle cx="857.4" cy="396.2"/><circle cx="900.6" cy="328.9"/><circle cx="814.1" cy="371.1"/><circle cx="876.4" cy="226.2"/><circle cx="873.6" cy="310.5"/><circle cx="700.9" cy="456.8"/><circle cx="652.5" cy="449.7"/><circle cx="897.7" cy="296.5"/><circle cx="753.9" cy="444.0"/><circle cx="919.8" cy="285.9"/><circle cx="766.0" cy="432.4"/><circle cx="621.1" cy="466.7"/><circle cx="869.3" cy="339.7"/><circle cx="843.5" cy="393.8"/><circle cx="810.0" cy="384.4"/><circle cx="764.3" cy="451.2"/><circle cx="952.5" cy="293.1"/><circle cx="960.1" cy="235.1"/><circle cx="830.2" cy="383.6"/><circle cx="767.9" cy="384.3"/><circle cx="824.4" cy="347.9"/><circle cx="806.1" cy="374.5"/><circle cx="707.2" cy="451.9"/><circle cx="706.8" cy="425.1"/><circle cx="590.6" cy="480.3"/><circle cx="791.6" cy="419.8"/><circle cx="826.1" cy="340.1"/><circle cx="847.0" cy="353.1"/><circle cx="765.6" cy="462.9"/><circle cx="674.4" cy="479.2"/><circle cx="666.1" cy="482.6"/><circle cx="841.8" cy="394.6"/><circle cx="734.4" cy="394.5"/><circle cx="859.6" cy="306.0"/><circle cx="677.2" cy="475.3"/><circle cx="647.5" cy="496.3"/><circle cx="803.8" cy="411.5"/><circle cx="614.1" cy="490.1"/><circle cx="677.5" cy="461.5"/><circle cx="632.0" cy="480.6"/><circle cx="931.2" cy="292.1"/><circle cx="661.2" cy="473.3"/><circle cx="726.3" cy="437.6"/><circle cx="795.0" cy="409.3"/><circle cx="778.8" cy="458.1"/><circle cx="839.2" cy="389.2"/><circle cx="642.4" cy="488.1"/><circle cx="685.2" cy="448.9"/><circle cx="866.3" cy="364.6"/><circle cx="602.6" cy="467.6"/><circle cx="663.2" cy="477.4"/><circle cx="760.5" cy="452.6"/><circle cx="793.7" cy="385.4"/><circle cx="642.7" cy="449.4"/><circle cx="781.1" cy="439.8"/><circle cx="826.5" cy="400.7"/><circle cx="852.0" cy="367.4"/><circle cx="741.8" cy="413.3"/><circle cx="613.6" cy="452.1"/><circle cx="683.0" cy="476.1"/><circle cx="721.8" cy="434.1"/><circle cx="636.5" cy="466.4"/><circle cx="658.0" cy="454.9"/><circle cx="642.7" cy="466.1"/><circle cx="767.5" cy="447.1"/><circle cx="798.8" cy="430.0"/><circle cx="839.1" cy="412.4"/><circle cx="732.0" cy="409.7"/><circle cx="803.2" cy="370.0"/><circle cx="679.8" cy="444.9"/><circle cx="754.9" cy="450.6"/><circle cx="788.4" cy="398.3"/><circle cx="836.2" cy="350.6"/><circle cx="744.4" cy="429.7"/><circle cx="685.3" cy="449.1"/><circle cx="723.6" cy="439.5"/><circle cx="730.1" cy="415.8"/><circle cx="879.4" cy="348.6"/><circle cx="787.7" cy="384.1"/><circle cx="694.1" cy="452.1"/><circle cx="922.6" cy="296.5"/><circle cx="932.8" cy="291.9"/><circle cx="766.6" cy="456.9"/><circle cx="848.0" cy="343.0"/><circle cx="871.2" cy="364.4"/><circle cx="876.1" cy="341.1"/><circle cx="682.8" cy="470.5"/><circle cx="909.5" cy="319.1"/><circle cx="799.6" cy="367.0"/><circle cx="966.9" cy="273.2"/><circle cx="864.3" cy="383.4"/><circle cx="727.8" cy="444.4"/><circle cx="857.1" cy="360.5"/><circle cx="859.6" cy="400.8"/><circle cx="850.7" cy="336.2"/><circle cx="753.3" cy="449.5"/><circle cx="615.5" cy="498.4"/><circle cx="902.7" cy="319.2"/><circle cx="673.2" cy="466.8"/><circle cx="839.3" cy="336.0"/><circle cx="835.3" cy="372.9"/><circle cx="842.9" cy="295.8"/><circle cx="844.1" cy="352.7"/><circle cx="935.3" cy="313.8"/><circle cx="880.3" cy="347.5"/><circle cx="875.8" cy="372.8"/><circle cx="646.8" cy="453.4"/><circle cx="905.1" cy="337.9"/><circle cx="755.6" cy="409.5"/><circle cx="747.6" cy="390.9"/><circle cx="777.9" cy="405.3"/><circle cx="665.5" cy="491.6"/><circle cx="855.1" cy="331.3"/><circle cx="842.6" cy="344.5"/><circle cx="781.3" cy="413.2"/><circle cx="935.7" cy="295.7"/><circle cx="896.4" cy="333.9"/><circle cx="902.8" cy="316.7"/><circle cx="616.2" cy="482.3"/><circle cx="860.5" cy="336.3"/><circle cx="692.9" cy="460.8"/><circle cx="798.3" cy="437.8"/><circle cx="841.1" cy="376.6"/><circle cx="894.5" cy="343.4"/><circle cx="914.0" cy="293.0"/><circle cx="717.1" cy="483.6"/><circle cx="914.7" cy="208.1"/><circle cx="761.9" cy="453.3"/><circle cx="649.7" cy="475.3"/><circle cx="770.2" cy="399.4"/><circle cx="892.4" cy="353.6"/><circle cx="654.5" cy="451.3"/><circle cx="857.7" cy="405.4"/><circle cx="883.0" cy="347.6"/><circle cx="767.4" cy="458.7"/><circle cx="705.4" cy="433.2"/><circle cx="596.5" cy="490.4"/><circle cx="715.5" cy="448.6"/><circle cx="938.7" cy="202.5"/><circle cx="968.6" cy="130.2"/><circle cx="767.9" cy="416.5"/><circle cx="861.8" cy="358.6"/><circle cx="849.4" cy="303.2"/><circle cx="598.9" cy="459.0"/><circle cx="887.2" cy="369.7"/><circle cx="836.5" cy="350.8"/><circle cx="793.8" cy="402.8"/><circle cx="917.4" cy="317.5"/><circle cx="825.5" cy="381.3"/><circle cx="798.5" cy="417.6"/><circle cx="603.1" cy="471.3"/><circle cx="775.2" cy="390.2"/><circle cx="873.2" cy="385.4"/><circle cx="635.1" cy="484.8"/><circle cx="682.8" cy="451.0"/><circle cx="935.1" cy="332.3"/><circle cx="873.5" cy="348.2"/><circle cx="811.3" cy="358.9"/><circle cx="899.9" cy="353.4"/><circle cx="729.6" cy="412.1"/><circle cx="812.8" cy="408.1"/><circle cx="816.2" cy="351.2"/><circle cx="654.3" cy="498.2"/><circle cx="834.0" cy="337.6"/><circle cx="866.1" cy="325.9"/><circle cx="689.0" cy="486.6"/><circle cx="718.3" cy="465.4"/><circle cx="887.6" cy="373.2"/><circle cx="650.2" cy="482.9"/><circle cx="694.0" cy="488.0"/><circle cx="824.7" cy="401.8"/><circle cx="691.4" cy="443.0"/><circle cx="766.9" cy="386.5"/><circle cx="671.8" cy="468.8"/><circle cx="858.6" cy="304.8"/><circle cx="848.4" cy="283.5"/><circle cx="872.8" cy="216.1"/><circle cx="942.0" cy="311.6"/><circle cx="793.5" cy="375.6"/><circle cx="758.1" cy="437.8"/><circle cx="781.5" cy="396.2"/><circle cx="945.3" cy="307.4"/><circle cx="930.8" cy="336.6"/><circle cx="769.1" cy="388.0"/><circle cx="641.0" cy="496.3"/><circle cx="681.6" cy="457.7"/><circle cx="660.9" cy="471.2"/><circle cx="808.8" cy="420.0"/><circle cx="822.8" cy="360.2"/><circle cx="881.6" cy="379.9"/><circle cx="738.1" cy="439.9"/><circle cx="755.2" cy="433.4"/><circle cx="640.9" cy="469.0"/><circle cx="776.9" cy="390.8"/><circle cx="764.1" cy="450.5"/><circle cx="879.2" cy="320.3"/><circle cx="905.4" cy="338.4"/><circle cx="860.5" cy="427.9"/><circle cx="671.7" cy="461.8"/><circle cx="893.5" cy="330.9"/><circle cx="734.4" cy="430.7"/><circle cx="876.8" cy="325.0"/><circle cx="904.6" cy="321.7"/><circle cx="768.6" cy="377.8"/><circle cx="642.1" cy="486.1"/><circle cx="833.1" cy="319.5"/><circle cx="893.3" cy="343.2"/><circle cx="727.3" cy="431.0"/><circle cx="688.1" cy="440.3"/><circle cx="805.9" cy="375.2"/><circle cx="671.5" cy="453.9"/><circle cx="854.8" cy="306.3"/><circle cx="673.0" cy="485.2"/><circle cx="731.0" cy="470.6"/><circle cx="858.6" cy="395.3"/><circle cx="803.4" cy="411.7"/><circle cx="666.6" cy="464.7"/><circle cx="877.5" cy="307.4"/><circle cx="896.2" cy="225.8"/><circle cx="693.1" cy="471.0"/><circle cx="894.2" cy="311.7"/><circle cx="683.5" cy="449.9"/><circle cx="661.5" cy="489.7"/><circle cx="899.0" cy="172.1"/><circle cx="753.6" cy="411.6"/><circle cx="874.1" cy="243.3"/><circle cx="599.1" cy="458.4"/><circle cx="640.5" cy="461.8"/><circle cx="904.2" cy="385.5"/><circle cx="665.3" cy="478.4"/><circle cx="832.8" cy="318.2"/><circle cx="846.7" cy="294.3"/><circle cx="871.4" cy="323.1"/><circle cx="807.7" cy="384.5"/><circle cx="867.3" cy="270.7"/><circle cx="760.6" cy="455.9"/><circle cx="767.7" cy="376.7"/><circle cx="653.0" cy="451.7"/><circle cx="787.7" cy="379.2"/><circle cx="627.7" cy="477.7"/><circle cx="650.4" cy="443.6"/><circle cx="853.6" cy="370.4"/><circle cx="797.7" cy="395.8"/><circle cx="931.4" cy="323.5"/><circle cx="917.1" cy="209.7"/><circle cx="893.2" cy="247.8"/><circle cx="854.6" cy="355.9"/><circle cx="864.8" cy="315.4"/><circle cx="859.7" cy="252.1"/><circle cx="803.4" cy="432.5"/><circle cx="733.2" cy="415.5"/><circle cx="636.7" cy="487.1"/><circle cx="905.5" cy="331.8"/><circle cx="878.7" cy="363.3"/><circle cx="795.5" cy="386.4"/><circle cx="813.0" cy="421.7"/><circle cx="873.9" cy="359.9"/><circle cx="870.3" cy="287.4"/><circle cx="647.9" cy="481.8"/><circle cx="844.9" cy="310.7"/><circle cx="713.8" cy="468.0"/><circle cx="671.0" cy="463.2"/><circle cx="777.1" cy="426.0"/><circle cx="661.3" cy="455.7"/><circle cx="876.4" cy="252.1"/><circle cx="969.3" cy="155.8"/><circle cx="774.9" cy="373.5"/><circle cx="597.2" cy="458.2"/><circle cx="751.5" cy="414.2"/><circle cx="680.8" cy="451.8"/><circle cx="683.2" cy="466.5"/><circle cx="731.3" cy="471.8"/><circle cx="740.2" cy="466.2"/><circle cx="781.4" cy="407.2"/><circle cx="746.2" cy="430.4"/><circle cx="660.5" cy="465.6"/><circle cx="638.4" cy="482.9"/><circle cx="852.8" cy="369.1"/><circle cx="740.3" cy="450.6"/><circle cx="959.3" cy="236.8"/><circle cx="826.6" cy="370.2"/><circle cx="906.9" cy="281.6"/><circle cx="872.9" cy="432.8"/><circle cx="797.8" cy="414.9"/><circle cx="759.0" cy="440.1"/><circle cx="609.1" cy="494.6"/><circle cx="704.2" cy="433.4"/><circle cx="840.4" cy="394.9"/><circle cx="910.5" cy="346.7"/><circle cx="727.7" cy="449.7"/><circle cx="950.3" cy="293.0"/><circle cx="834.3" cy="370.7"/><circle cx="859.9" cy="284.4"/><circle cx="751.6" cy="392.1"/><circle cx="880.6" cy="370.8"/><circle cx="955.1" cy="293.1"/><circle cx="803.1" cy="400.0"/><circle cx="842.8" cy="321.3"/><circle cx="910.7" cy="212.5"/><circle cx="861.7" cy="385.6"/><circle cx="749.3" cy="436.6"/><circle cx="876.2" cy="308.7"/><circle cx="640.9" cy="490.2"/><circle cx="799.7" cy="355.0"/><circle cx="739.2" cy="460.5"/><circle cx="775.2" cy="489.2"/><circle cx="902.1" cy="386.4"/><circle cx="856.9" cy="404.9"/><circle cx="844.7" cy="402.2"/><circle cx="857.2" cy="372.0"/><circle cx="758.8" cy="391.1"/><circle cx="723.2" cy="416.3"/><circle cx="810.5" cy="372.9"/><circle cx="652.6" cy="486.5"/><circle cx="646.8" cy="458.7"/><circle cx="668.8" cy="451.1"/><circle cx="903.5" cy="394.6"/><circle cx="892.3" cy="356.1"/><circle cx="843.9" cy="382.6"/><circle cx="735.6" cy="407.0"/><circle cx="811.3" cy="351.1"/><circle cx="860.3" cy="301.0"/><circle cx="939.7" cy="321.7"/><circle cx="749.5" cy="415.7"/><circle cx="895.5" cy="324.3"/><circle cx="770.1" cy="393.9"/><circle cx="968.6" cy="177.4"/><circle cx="857.0" cy="336.5"/><circle cx="767.9" cy="413.2"/><circle cx="697.3" cy="482.0"/><circle cx="841.8" cy="418.4"/><circle cx="705.6" cy="462.7"/><circle cx="936.7" cy="321.0"/><circle cx="927.1" cy="289.5"/><circle cx="683.4" cy="449.3"/><circle cx="711.0" cy="439.0"/><circle cx="765.7" cy="398.7"/><circle cx="771.8" cy="403.6"/><circle cx="854.3" cy="329.1"/><circle cx="753.1" cy="425.4"/><circle cx="654.1" cy="474.0"/><circle cx="729.2" cy="468.6"/><circle cx="937.3" cy="325.2"/><circle cx="701.9" cy="462.8"/><circle cx="611.6" cy="467.3"/><circle cx="895.7" cy="319.8"/><circle cx="652.8" cy="483.0"/><circle cx="825.6" cy="374.2"/><circle cx="797.9" cy="354.4"/><circle cx="770.5" cy="417.5"/><circle cx="692.1" cy="453.2"/><circle cx="715.2" cy="462.1"/><circle cx="713.6" cy="442.8"/><circle cx="836.4" cy="314.6"/><circle cx="675.9" cy="454.3"/><circle cx="629.2" cy="478.4"/><circle cx="963.1" cy="125.7"/><circle cx="893.2" cy="252.4"/><circle cx="837.1" cy="316.3"/><circle cx="649.5" cy="484.9"/><circle cx="880.6" cy="324.1"/><circle cx="663.8" cy="486.1"/><circle cx="714.1" cy="483.1"/><circle cx="720.1" cy="442.0"/><circle cx="647.8" cy="469.2"/><circle cx="901.8" cy="389.4"/><circle cx="800.6" cy="436.7"/><circle cx="827.0" cy="376.8"/><circle cx="725.9" cy="456.9"/><circle cx="719.8" cy="467.6"/><circle cx="949.7" cy="276.4"/><circle cx="689.2" cy="464.9"/><circle cx="847.9" cy="340.1"/><circle cx="729.2" cy="416.4"/><circle cx="893.0" cy="341.4"/><circle cx="712.4" cy="483.4"/><circle cx="886.5" cy="364.9"/><circle cx="965.7" cy="279.6"/><circle cx="902.2" cy="407.0"/><circle cx="896.3" cy="224.0"/><circle cx="662.1" cy="486.7"/><circle cx="901.3" cy="331.7"/><circle cx="761.0" cy="433.7"/><circle cx="650.8" cy="458.3"/><circle cx="867.4" cy="355.6"/><circle cx="822.9" cy="388.8"/><circle cx="873.0" cy="320.9"/><circle cx="694.9" cy="480.7"/><circle cx="632.9" cy="487.0"/><circle cx="804.0" cy="418.3"/><circle cx="707.5" cy="482.9"/><circle cx="813.5" cy="406.8"/><circle cx="792.2" cy="377.1"/><circle cx="625.6" cy="475.9"/><circle cx="853.9" cy="441.2"/><circle cx="646.2" cy="461.3"/><circle cx="863.6" cy="307.0"/><circle cx="675.5" cy="460.9"/><circle cx="676.4" cy="489.6"/><circle cx="820.0" cy="441.9"/><circle cx="839.3" cy="376.4"/><circle cx="843.1" cy="346.2"/><circle cx="831.4" cy="429.7"/><circle cx="829.3" cy="327.3"/><circle cx="883.3" cy="245.5"/><circle cx="774.4" cy="390.4"/><circle cx="789.2" cy="389.0"/><circle cx="876.0" cy="386.2"/><circle cx="922.9" cy="324.0"/><circle cx="810.9" cy="434.1"/><circle cx="614.7" cy="473.9"/><circle cx="809.6" cy="428.8"/><circle cx="867.3" cy="331.0"/><circle cx="821.3" cy="395.3"/><circle cx="906.1" cy="302.3"/><circle cx="733.3" cy="401.1"/><circle cx="831.0" cy="387.0"/><circle cx="676.6" cy="487.0"/><circle cx="950.0" cy="241.0"/><circle cx="748.9" cy="424.1"/><circle cx="710.8" cy="474.7"/><circle cx="768.7" cy="382.6"/><circle cx="777.3" cy="458.8"/><circle cx="869.0" cy="299.0"/><circle cx="770.2" cy="400.0"/><circle cx="862.4" cy="375.1"/><circle cx="803.6" cy="400.2"/><circle cx="822.8" cy="371.5"/><circle cx="911.7" cy="327.7"/><circle cx="746.2" cy="398.5"/><circle cx="867.5" cy="351.6"/><circle cx="842.1" cy="320.8"/><circle cx="911.7" cy="324.5"/><circle cx="790.7" cy="396.4"/><circle cx="933.8" cy="283.5"/><circle cx="817.1" cy="377.0"/><circle cx="832.1" cy="412.1"/><circle cx="841.0" cy="352.8"/><circle cx="819.7" cy="392.9"/><circle cx="953.5" cy="168.8"/><circle cx="727.5" cy="459.6"/><circle cx="727.1" cy="432.2"/><circle cx="778.5" cy="372.8"/><circle cx="789.7" cy="403.7"/><circle cx="857.6" cy="305.4"/><circle cx="647.1" cy="466.1"/><circle cx="796.2" cy="372.4"/><circle cx="746.5" cy="431.6"/><circle cx="783.7" cy="411.5"/><circle cx="669.6" cy="455.4"/><circle cx="830.9" cy="320.2"/><circle cx="726.9" cy="435.7"/><circle cx="646.7" cy="488.4"/><circle cx="769.5" cy="414.9"/><circle cx="829.6" cy="326.0"/><circle cx="798.3" cy="393.9"/><circle cx="733.8" cy="435.2"/><circle cx="642.7" cy="497.7"/><circle cx="834.2" cy="401.4"/><circle cx="705.5" cy="476.7"/><circle cx="840.5" cy="412.4"/><circle cx="852.9" cy="410.0"/><circle cx="859.2" cy="406.7"/><circle cx="776.8" cy="420.5"/><circle cx="750.1" cy="440.5"/><circle cx="873.6" cy="298.9"/><circle cx="734.0" cy="425.5"/><circle cx="906.1" cy="351.9"/><circle cx="639.0" cy="486.7"/><circle cx="838.2" cy="421.7"/><circle cx="846.0" cy="290.4"/><circle cx="924.7" cy="337.2"/><circle cx="661.3" cy="483.4"/><circle cx="911.3" cy="383.7"/><circle cx="856.2" cy="404.7"/><circle cx="954.9" cy="135.0"/><circle cx="633.0" cy="475.5"/><circle cx="791.4" cy="384.7"/><circle cx="913.9" cy="408.0"/><circle cx="788.8" cy="442.4"/><circle cx="697.8" cy="483.2"/><circle cx="707.2" cy="425.3"/><circle cx="795.6" cy="420.0"/><circle cx="828.2" cy="334.9"/><circle cx="865.5" cy="324.8"/><circle cx="789.7" cy="451.3"/><circle cx="763.7" cy="436.4"/><circle cx="900.9" cy="308.1"/><circle cx="610.6" cy="469.1"/><circle cx="779.3" cy="412.5"/><circle cx="725.5" cy="421.4"/><circle cx="739.1" cy="437.6"/><circle cx="743.7" cy="453.5"/><circle cx="849.2" cy="363.0"/><circle cx="937.0" cy="300.9"/><circle cx="845.8" cy="346.2"/><circle cx="662.2" cy="481.6"/><circle cx="882.0" cy="349.0"/><circle cx="776.6" cy="434.8"/><circle cx="796.6" cy="362.3"/><circle cx="648.8" cy="469.2"/><circle cx="819.5" cy="365.9"/><circle cx="858.4" cy="434.8"/><circle cx="875.1" cy="311.4"/><circle cx="826.0" cy="411.3"/><circle cx="644.5" cy="481.7"/><circle cx="778.6" cy="378.7"/><circle cx="826.9" cy="363.5"/><circle cx="836.9" cy="377.3"/><circle cx="799.1" cy="388.4"/><circle cx="663.6" cy="463.7"/><circle cx="843.0" cy="430.4"/><circle cx="788.9" cy="380.6"/><circle cx="734.5" cy="440.6"/><circle cx="664.5" cy="488.6"/><circle cx="787.3" cy="396.2"/><circle cx="814.3" cy="424.3"/><circle cx="881.3" cy="301.5"/><circle cx="827.8" cy="426.6"/><circle cx="852.5" cy="414.3"/><circle cx="609.9" cy="458.0"/><circle cx="621.5" cy="468.4"/><circle cx="839.6" cy="341.2"/><circle cx="670.7" cy="492.0"/><circle cx="769.5" cy="459.8"/><circle cx="710.7" cy="435.6"/><circle cx="767.5" cy="461.0"/><circle cx="840.9" cy="370.5"/><circle cx="623.5" cy="470.3"/><circle cx="868.1" cy="356.0"/><circle cx="748.8" cy="465.3"/><circle cx="803.1" cy="363.0"/><circle cx="635.5" cy="477.4"/><circle cx="621.9" cy="471.6"/><circle cx="698.5" cy="427.7"/><circle cx="650.8" cy="445.0"/><circle cx="692.0" cy="477.5"/><circle cx="860.9" cy="360.9"/><circle cx="797.9" cy="380.8"/><circle cx="838.0" cy="318.4"/><circle cx="663.9" cy="492.9"/><circle cx="889.2" cy="346.8"/><circle cx="885.2" cy="375.0"/><circle cx="864.3" cy="380.6"/><circle cx="623.4" cy="466.3"/><circle cx="772.7" cy="422.4"/><circle cx="892.8" cy="216.9"/><circle cx="865.8" cy="438.4"/><circle cx="798.1" cy="422.3"/><circle cx="932.8" cy="337.1"/><circle cx="864.8" cy="381.1"/><circle cx="659.2" cy="461.0"/><circle cx="875.2" cy="388.0"/><circle cx="742.9" cy="451.7"/><circle cx="729.6" cy="465.4"/><circle cx="888.3" cy="330.9"/><circle cx="682.7" cy="481.1"/><circle cx="680.4" cy="484.9"/><circle cx="786.9" cy="365.1"/><circle cx="726.8" cy="434.7"/><circle cx="719.4" cy="414.1"/><circle cx="616.9" cy="472.0"/><circle cx="632.3" cy="473.9"/><circle cx="793.7" cy="410.6"/><circle cx="886.4" cy="345.9"/><circle cx="939.0" cy="199.8"/><circle cx="711.1" cy="425.2"/><circle cx="606.5" cy="477.0"/><circle cx="680.7" cy="471.4"/><circle cx="815.2" cy="389.5"/><circle cx="650.8" cy="479.5"/><circle cx="651.1" cy="466.0"/><circle cx="788.6" cy="441.8"/><circle cx="853.8" cy="370.5"/><circle cx="853.2" cy="361.6"/><circle cx="611.2" cy="487.3"/><circle cx="814.6" cy="401.7"/><circle cx="913.9" cy="182.5"/><circle cx="779.2" cy="433.2"/><circle cx="818.1" cy="401.8"/><circle cx="901.4" cy="392.9"/><circle cx="896.1" cy="302.2"/><circle cx="722.9" cy="444.7"/><circle cx="922.1" cy="294.5"/><circle cx="789.8" cy="356.1"/><circle cx="828.6" cy="395.3"/><circle cx="616.3" cy="481.6"/><circle cx="809.2" cy="347.5"/><circle cx="660.6" cy="492.5"/><circle cx="716.9" cy="412.8"/><circle cx="729.5" cy="469.7"/><circle cx="615.4" cy="488.8"/><circle cx="676.4" cy="475.8"/><circle cx="615.7" cy="489.9"/><circle cx="598.2" cy="458.2"/><circle cx="933.1" cy="301.2"/><circle cx="628.0" cy="466.2"/><circle cx="881.8" cy="342.0"/><circle cx="942.6" cy="233.4"/><circle cx="791.9" cy="405.4"/><circle cx="805.3" cy="444.4"/><circle cx="841.7" cy="391.7"/><circle cx="646.3" cy="454.4"/><circle cx="649.6" cy="450.2"/><circle cx="854.9" cy="359.8"/><circle cx="652.3" cy="441.1"/><circle cx="942.3" cy="299.7"/><circle cx="802.8" cy="429.8"/><circle cx="695.5" cy="445.8"/><circle cx="840.7" cy="325.7"/><circle cx="626.1" cy="480.7"/><circle cx="842.0" cy="343.5"/><circle cx="676.4" cy="483.4"/><circle cx="883.1" cy="331.8"/><circle cx="653.8" cy="463.8"/><circle cx="596.4" cy="467.6"/><circle cx="860.5" cy="436.1"/><circle cx="827.2" cy="399.4"/><circle cx="612.5" cy="459.2"/><circle cx="847.5" cy="337.5"/><circle cx="785.8" cy="401.9"/><circle cx="910.4" cy="171.3"/><circle cx="705.5" cy="456.1"/><circle cx="878.1" cy="368.1"/><circle cx="937.4" cy="314.4"/><circle cx="870.7" cy="309.9"/><circle cx="825.4" cy="387.5"/><circle cx="882.8" cy="365.3"/><circle cx="769.0" cy="458.9"/><circle cx="830.9" cy="371.2"/><circle cx="759.5" cy="419.6"/><circle cx="691.0" cy="454.9"/><circle cx="834.7" cy="431.9"/><circle cx="816.9" cy="372.6"/><circle cx="643.3" cy="461.8"/><circle cx="797.1" cy="368.9"/><circle cx="812.9" cy="376.0"/><circle cx="889.2" cy="322.8"/><circle cx="836.3" cy="429.2"/><circle cx="741.9" cy="461.6"/><circle cx="892.3" cy="228.0"/><circle cx="894.0" cy="327.0"/><circle cx="793.6" cy="388.2"/><circle cx="900.1" cy="306.9"/><circle cx="771.1" cy="409.3"/><circle cx="862.6" cy="337.7"/><circle cx="800.2" cy="373.6"/><circle cx="860.3" cy="437.8"/><circle cx="653.0" cy="471.2"/><circle cx="626.2" cy="477.6"/><circle cx="864.7" cy="379.1"/><circle cx="884.1" cy="323.3"/><circle cx="715.3" cy="428.5"/><circle cx="654.8" cy="466.0"/><circle cx="777.8" cy="439.7"/><circle cx="830.8" cy="343.0"/><circle cx="648.1" cy="476.1"/><circle cx="805.2" cy="425.4"/><circle cx="857.4" cy="285.1"/><circle cx="738.0" cy="435.8"/><circle cx="691.9" cy="474.8"/><circle cx="705.9" cy="449.9"/><circle cx="882.7" cy="368.0"/><circle cx="787.8" cy="430.1"/><circle cx="727.3" cy="451.7"/><circle cx="673.5" cy="492.5"/><circle cx="803.7" cy="379.7"/><circle cx="791.9" cy="446.3"/><circle cx="829.7" cy="353.6"/><circle cx="835.4" cy="379.2"/><circle cx="925.0" cy="323.9"/><circle cx="965.2" cy="231.5"/><circle cx="810.2" cy="347.1"/><circle cx="754.4" cy="408.0"/><circle cx="642.7" cy="450.3"/><circle cx="868.7" cy="337.0"/><circle cx="915.8" cy="189.7"/><circle cx="916.9" cy="320.5"/><circle cx="967.8" cy="252.3"/><circle cx="646.0" cy="468.1"/><circle cx="844.6" cy="337.7"/><circle cx="688.8" cy="438.2"/><circle cx="949.9" cy="260.0"/><circle cx="673.1" cy="470.8"/><circle cx="713.0" cy="479.2"/><circle cx="708.3" cy="471.1"/><circle cx="763.8" cy="431.8"/><circle cx="852.3" cy="399.6"/><circle cx="806.0" cy="396.7"/><circle cx="699.2" cy="436.7"/><circle cx="842.2" cy="344.4"/><circle cx="849.2" cy="340.9"/><circle cx="854.2" cy="366.7"/><circle cx="741.7" cy="404.8"/><circle cx="613.6" cy="459.9"/><circle cx="710.3" cy="415.9"/><circle cx="700.4" cy="489.0"/><circle cx="916.6" cy="304.7"/><circle cx="921.3" cy="230.8"/><circle cx="675.6" cy="482.6"/><circle cx="728.1" cy="467.8"/><circle cx="950.1" cy="152.1"/><circle cx="726.3" cy="433.3"/><circle cx="845.1" cy="350.3"/><circle cx="852.3" cy="355.6"/><circle cx="920.8" cy="198.2"/><circle cx="786.6" cy="388.4"/><circle cx="706.2" cy="424.1"/><circle cx="845.8" cy="366.2"/><circle cx="874.2" cy="317.1"/><circle cx="897.9" cy="213.7"/><circle cx="677.2" cy="439.6"/><circle cx="757.2" cy="403.9"/><circle cx="819.7" cy="393.8"/><circle cx="844.0" cy="297.1"/><circle cx="637.1" cy="457.3"/><circle cx="849.4" cy="409.9"/><circle cx="729.4" cy="443.3"/><circle cx="956.4" cy="287.2"/><circle cx="853.9" cy="368.8"/><circle cx="680.6" cy="441.9"/><circle cx="670.2" cy="486.2"/><circle cx="719.1" cy="417.1"/><circle cx="804.1" cy="390.1"/><circle cx="844.5" cy="407.9"/><circle cx="797.6" cy="433.2"/><circle cx="837.5" cy="325.9"/><circle cx="958.9" cy="268.4"/><circle cx="684.4" cy="467.0"/><circle cx="798.1" cy="438.1"/><circle cx="844.6" cy="384.8"/><circle cx="661.0" cy="479.6"/><circle cx="859.2" cy="410.5"/><circle cx="865.8" cy="240.2"/><circle cx="719.8" cy="465.0"/><circle cx="780.4" cy="419.2"/><circle cx="782.6" cy="379.7"/><circle cx="899.0" cy="352.0"/><circle cx="673.1" cy="478.9"/><circle cx="932.3" cy="215.3"/><circle cx="737.2" cy="436.5"/><circle cx="843.6" cy="407.5"/><circle cx="897.7" cy="380.5"/><circle cx="712.8" cy="481.9"/><circle cx="719.4" cy="478.2"/><circle cx="667.6" cy="465.8"/><circle cx="613.3" cy="493.8"/><circle cx="666.8" cy="464.3"/><circle cx="831.5" cy="375.9"/><circle cx="834.4" cy="325.3"/><circle cx="853.6" cy="288.2"/><circle cx="866.1" cy="359.1"/><circle cx="882.1" cy="304.1"/><circle cx="817.0" cy="423.6"/><circle cx="891.9" cy="396.2"/><circle cx="872.4" cy="295.5"/><circle cx="871.1" cy="302.3"/><circle cx="867.5" cy="355.9"/><circle cx="646.9" cy="463.3"/><circle cx="673.8" cy="452.4"/><circle cx="782.5" cy="409.4"/><circle cx="660.3" cy="463.9"/><circle cx="860.5" cy="371.6"/><circle cx="859.3" cy="394.3"/><circle cx="717.9" cy="443.9"/><circle cx="645.9" cy="467.9"/><circle cx="645.0" cy="457.5"/><circle cx="917.8" cy="334.2"/><circle cx="841.2" cy="300.6"/><circle cx="911.5" cy="172.9"/><circle cx="882.2" cy="334.6"/><circle cx="861.5" cy="374.5"/><circle cx="913.0" cy="312.4"/><circle cx="809.8" cy="361.8"/><circle cx="694.6" cy="479.5"/><circle cx="856.0" cy="397.7"/><circle cx="738.7" cy="402.2"/><circle cx="747.9" cy="421.1"/><circle cx="626.5" cy="485.9"/><circle cx="679.6" cy="433.7"/><circle cx="706.6" cy="480.1"/><circle cx="696.2" cy="440.6"/><circle cx="775.0" cy="446.3"/><circle cx="675.0" cy="482.1"/><circle cx="855.6" cy="321.2"/><circle cx="862.7" cy="265.8"/><circle cx="824.7" cy="376.0"/><circle cx="924.4" cy="318.8"/><circle cx="921.6" cy="313.8"/><circle cx="640.3" cy="449.5"/><circle cx="835.0" cy="387.2"/><circle cx="744.4" cy="434.3"/><circle cx="716.1" cy="461.4"/><circle cx="767.3" cy="427.1"/><circle cx="860.7" cy="395.5"/><circle cx="896.5" cy="367.9"/><circle cx="743.4" cy="427.2"/><circle cx="841.8" cy="319.5"/><circle cx="741.2" cy="440.2"/><circle cx="719.2" cy="412.1"/><circle cx="683.3" cy="465.1"/><circle cx="745.8" cy="441.4"/><circle cx="861.5" cy="367.5"/><circle cx="734.4" cy="429.4"/><circle cx="713.4" cy="458.6"/><circle cx="897.1" cy="185.7"/><circle cx="843.9" cy="408.8"/><circle cx="824.8" cy="399.3"/><circle cx="709.9" cy="431.4"/><circle cx="910.7" cy="175.3"/><circle cx="832.7" cy="360.2"/><circle cx="636.8" cy="489.2"/><circle cx="654.8" cy="470.9"/><circle cx="872.1" cy="382.9"/><circle cx="622.0" cy="498.2"/><circle cx="744.2" cy="426.4"/><circle cx="898.6" cy="311.0"/><circle cx="865.9" cy="433.0"/><circle cx="702.7" cy="430.2"/><circle cx="865.3" cy="379.1"/><circle cx="678.4" cy="461.4"/><circle cx="668.1" cy="447.9"/><circle cx="896.0" cy="363.8"/><circle cx="685.4" cy="445.8"/><circle cx="804.3" cy="424.9"/><circle cx="634.6" cy="456.2"/><circle cx="907.1" cy="331.3"/><circle cx="870.1" cy="308.2"/><circle cx="700.5" cy="441.8"/><circle cx="864.5" cy="424.2"/><circle cx="862.1" cy="342.7"/><circle cx="765.9" cy="382.9"/><circle cx="735.4" cy="413.6"/><circle cx="815.7" cy="409.0"/><circle cx="840.7" cy="345.7"/><circle cx="814.3" cy="407.3"/><circle cx="798.0" cy="434.2"/><circle cx="805.6" cy="376.6"/><circle cx="836.9" cy="349.1"/><circle cx="688.0" cy="460.3"/><circle cx="848.2" cy="310.5"/><circle cx="934.3" cy="294.8"/><circle cx="755.1" cy="459.2"/><circle cx="703.1" cy="459.6"/><circle cx="670.5" cy="467.0"/><circle cx="884.4" cy="356.3"/><circle cx="865.1" cy="311.8"/><circle cx="714.9" cy="412.5"/><circle cx="913.9" cy="168.1"/><circle cx="778.7" cy="412.6"/><circle cx="750.9" cy="465.2"/><circle cx="886.9" cy="349.5"/><circle cx="616.8" cy="485.6"/><circle cx="892.4" cy="332.2"/><circle cx="614.3" cy="449.8"/><circle cx="812.3" cy="421.6"/><circle cx="601.9" cy="470.1"/><circle cx="844.5" cy="274.5"/><circle cx="804.8" cy="377.7"/><circle cx="902.8" cy="313.2"/><circle cx="811.3" cy="342.5"/><circle cx="771.7" cy="387.5"/><circle cx="917.0" cy="291.5"/><circle cx="911.4" cy="233.4"/><circle cx="682.3" cy="455.8"/><circle cx="862.5" cy="406.1"/><circle cx="755.2" cy="412.7"/><circle cx="613.0" cy="491.9"/><circle cx="862.3" cy="388.9"/><circle cx="750.2" cy="447.8"/><circle cx="703.9" cy="446.7"/><circle cx="784.5" cy="391.0"/><circle cx="833.0" cy="410.9"/><circle cx="843.0" cy="388.2"/><circle cx="870.4" cy="377.1"/><circle cx="749.3" cy="405.8"/><circle cx="824.4" cy="383.7"/><circle cx="595.1" cy="463.4"/><circle cx="615.8" cy="449.6"/><circle cx="857.3" cy="393.2"/><circle cx="866.9" cy="302.4"/><circle cx="744.7" cy="440.9"/><circle cx="724.0" cy="420.0"/><circle cx="755.0" cy="455.6"/><circle cx="823.9" cy="376.3"/><circle cx="636.5" cy="480.0"/><circle cx="860.4" cy="262.3"/><circle cx="750.7" cy="425.4"/><circle cx="629.5" cy="494.7"/><circle cx="770.8" cy="443.5"/><circle cx="854.8" cy="376.5"/><circle cx="672.1" cy="460.6"/><circle cx="896.0" cy="366.0"/><circle cx="684.0" cy="442.7"/><circle cx="826.5" cy="353.1"/><circle cx="877.6" cy="375.8"/><circle cx="622.3" cy="482.6"/><circle cx="930.8" cy="328.1"/><circle cx="692.3" cy="464.8"/><circle cx="683.0" cy="464.7"/><circle cx="766.9" cy="409.3"/><circle cx="878.7" cy="362.1"/><circle cx="618.0" cy="462.1"/><circle cx="599.7" cy="472.7"/><circle cx="785.2" cy="447.5"/><circle cx="828.3" cy="423.4"/><circle cx="663.8" cy="449.0"/><circle cx="771.0" cy="396.0"/><circle cx="842.9" cy="421.9"/><circle cx="831.5" cy="345.9"/><circle cx="918.3" cy="322.3"/><circle cx="790.2" cy="446.3"/><circle cx="677.7" cy="458.3"/><circle cx="747.7" cy="423.9"/><circle cx="686.4" cy="473.2"/><circle cx="850.8" cy="356.0"/><circle cx="838.1" cy="378.4"/><circle cx="801.0" cy="369.9"/><circle cx="816.0" cy="352.7"/><circle cx="680.1" cy="481.0"/><circle cx="796.2" cy="388.3"/><circle cx="810.1" cy="433.0"/><circle cx="713.6" cy="473.4"/><circle cx="868.4" cy="361.0"/><circle cx="826.1" cy="357.7"/><circle cx="693.0" cy="480.2"/><circle cx="909.4" cy="150.2"/><circle cx="913.6" cy="379.1"/><circle cx="817.9" cy="366.3"/><circle cx="838.2" cy="409.1"/><circle cx="834.6" cy="357.1"/><circle cx="663.7" cy="473.7"/><circle cx="828.3" cy="381.0"/><circle cx="812.5" cy="434.8"/><circle cx="730.0" cy="446.5"/><circle cx="694.4" cy="444.6"/><circle cx="671.8" cy="464.0"/><circle cx="763.6" cy="422.2"/><circle cx="844.8" cy="312.6"/><circle cx="902.7" cy="334.3"/><circle cx="788.8" cy="452.3"/><circle cx="646.7" cy="483.9"/><circle cx="719.2" cy="429.4"/><circle cx="841.9" cy="391.4"/><circle cx="817.3" cy="389.5"/><circle cx="825.3" cy="386.9"/><circle cx="869.3" cy="394.1"/><circle cx="738.1" cy="436.8"/><circle cx="614.6" cy="494.5"/><circle cx="877.9" cy="377.6"/><circle cx="751.7" cy="455.0"/><circle cx="870.1" cy="339.7"/><circle cx="769.1" cy="429.5"/><circle cx="636.4" cy="487.6"/><circle cx="714.2" cy="468.9"/><circle cx="759.3" cy="408.2"/><circle cx="712.4" cy="413.2"/><circle cx="598.5" cy="461.2"/><circle cx="817.5" cy="428.8"/><circle cx="802.5" cy="429.6"/><circle cx="907.0" cy="317.0"/><circle cx="836.9" cy="400.0"/><circle cx="921.4" cy="290.7"/><circle cx="776.2" cy="397.4"/><circle cx="746.7" cy="444.6"/><circle cx="953.6" cy="279.0"/><circle cx="741.2" cy="409.7"/><circle cx="873.7" cy="398.5"/><circle cx="670.0" cy="459.5"/><circle cx="875.9" cy="319.7"/><circle cx="699.0" cy="442.0"/><circle cx="954.3" cy="263.4"/><circle cx="789.9" cy="358.9"/><circle cx="830.2" cy="365.1"/></g><g stroke-width="1.25"><circle cx="601.7" cy="494.3"/><circle cx="631.6" cy="462.1"/><circle cx="615.9" cy="458.7"/><circle cx="596.6" cy="474.7"/><circle cx="581.8" cy="490.2"/><circle cx="597.9" cy="464.5"/><circle cx="584.6" cy="483.5"/><circle cx="589.3" cy="498.9"/><circle cx="583.6" cy="479.4"/><circle cx="573.5" cy="492.3"/><circle cx="689.6" cy="417.9"/><circle cx="606.4" cy="500.2"/><circle cx="583.6" cy="495.0"/><circle cx="584.0" cy="483.4"/><circle cx="614.6" cy="472.6"/><circle cx="598.7" cy="464.2"/><circle cx="569.4" cy="494.5"/><circle cx="591.2" cy="498.8"/><circle cx="599.9" cy="489.1"/><circle cx="612.3" cy="458.8"/><circle cx="597.5" cy="481.1"/><circle cx="573.8" cy="494.9"/><circle cx="603.0" cy="482.7"/><circle cx="613.2" cy="490.6"/><circle cx="593.8" cy="469.6"/><circle cx="685.6" cy="430.4"/><circle cx="606.1" cy="496.7"/><circle cx="617.9" cy="479.8"/><circle cx="565.8" cy="495.3"/><circle cx="682.1" cy="424.4"/><circle cx="598.3" cy="465.6"/><circle cx="632.3" cy="469.5"/><circle cx="591.5" cy="484.7"/><circle cx="692.0" cy="424.7"/><circle cx="566.2" cy="496.2"/><circle cx="580.3" cy="485.3"/><circle cx="583.4" cy="482.3"/><circle cx="567.7" cy="495.3"/><circle cx="568.0" cy="495.7"/><circle cx="645.3" cy="461.0"/><circle cx="569.3" cy="494.4"/><circle cx="686.5" cy="429.4"/><circle cx="597.2" cy="501.6"/><circle cx="619.3" cy="484.5"/><circle cx="583.5" cy="477.7"/><circle cx="609.1" cy="490.2"/><circle cx="580.4" cy="481.6"/><circle cx="606.9" cy="474.4"/><circle cx="587.5" cy="498.0"/><circle cx="602.5" cy="461.3"/><circle cx="613.4" cy="483.2"/><circle cx="577.8" cy="493.9"/><circle cx="684.2" cy="431.4"/><circle cx="576.4" cy="495.3"/><circle cx="581.6" cy="490.2"/><circle cx="681.5" cy="421.4"/><circle cx="591.9" cy="492.1"/><circle cx="606.0" cy="469.2"/><circle cx="629.3" cy="474.7"/><circle cx="615.2" cy="484.0"/><circle cx="585.0" cy="485.6"/><circle cx="626.0" cy="474.4"/><circle cx="581.9" cy="498.4"/><circle cx="587.9" cy="498.4"/><circle cx="602.1" cy="459.2"/><circle cx="616.6" cy="459.7"/><circle cx="604.9" cy="467.1"/><circle cx="584.7" cy="485.3"/><circle cx="601.9" cy="501.3"/><circle cx="613.0" cy="468.5"/><circle cx="628.5" cy="485.1"/><circle cx="623.0" cy="494.7"/><circle cx="567.7" cy="496.4"/><circle cx="609.3" cy="461.5"/><circle cx="609.7" cy="457.8"/><circle cx="610.7" cy="492.8"/><circle cx="599.5" cy="467.5"/><circle cx="565.8" cy="495.8"/><circle cx="640.4" cy="480.3"/><circle cx="600.0" cy="483.9"/><circle cx="584.3" cy="480.5"/><circle cx="583.5" cy="476.5"/><circle cx="566.3" cy="497.3"/><circle cx="597.9" cy="471.2"/><circle cx="577.4" cy="497.0"/><circle cx="591.0" cy="491.8"/><circle cx="583.4" cy="480.7"/><circle cx="591.5" cy="478.4"/><circle cx="585.2" cy="480.8"/><circle cx="640.6" cy="460.1"/><circle cx="605.7" cy="484.6"/><circle cx="611.7" cy="456.7"/><circle cx="609.0" cy="476.9"/><circle cx="602.9" cy="498.1"/><circle cx="612.9" cy="465.9"/><circle cx="600.4" cy="463.1"/><circle cx="576.8" cy="499.4"/><circle cx="633.1" cy="472.4"/><circle cx="582.7" cy="495.6"/><circle cx="581.1" cy="499.3"/><circle cx="584.4" cy="477.0"/><circle cx="685.6" cy="436.7"/><circle cx="587.0" cy="499.2"/><circle cx="591.0" cy="497.0"/><circle cx="648.1" cy="459.5"/><circle cx="644.2" cy="490.3"/><circle cx="578.7" cy="492.2"/><circle cx="582.9" cy="499.3"/><circle cx="686.5" cy="414.6"/><circle cx="581.8" cy="493.1"/><circle cx="568.8" cy="496.3"/><circle cx="649.5" cy="445.8"/><circle cx="568.9" cy="495.8"/><circle cx="685.1" cy="435.9"/><circle cx="610.3" cy="462.8"/><circle cx="686.4" cy="418.9"/><circle cx="586.5" cy="498.6"/><circle cx="571.2" cy="498.3"/><circle cx="581.0" cy="485.6"/><circle cx="586.4" cy="482.5"/><circle cx="618.3" cy="499.0"/><circle cx="602.6" cy="476.3"/><circle cx="587.7" cy="486.6"/><circle cx="581.7" cy="483.5"/><circle cx="626.2" cy="475.1"/><circle cx="598.4" cy="457.9"/><circle cx="620.5" cy="479.8"/><circle cx="565.6" cy="495.3"/><circle cx="624.7" cy="465.9"/><circle cx="575.5" cy="496.4"/><circle cx="612.2" cy="468.8"/><circle cx="632.1" cy="474.5"/><circle cx="591.7" cy="472.9"/><circle cx="600.5" cy="457.9"/><circle cx="598.6" cy="491.8"/><circle cx="576.4" cy="499.8"/><circle cx="690.2" cy="433.6"/><circle cx="613.2" cy="468.2"/><circle cx="600.1" cy="482.7"/><circle cx="615.5" cy="447.2"/><circle cx="585.8" cy="483.4"/><circle cx="608.6" cy="485.3"/><circle cx="612.7" cy="458.5"/><circle cx="688.8" cy="419.8"/><circle cx="579.8" cy="499.6"/><circle cx="585.6" cy="480.5"/><circle cx="601.2" cy="487.9"/><circle cx="688.4" cy="413.7"/><circle cx="583.6" cy="488.6"/><circle cx="595.6" cy="500.8"/><circle cx="600.1" cy="476.6"/><circle cx="611.3" cy="462.8"/><circle cx="607.5" cy="469.0"/><circle cx="610.4" cy="465.2"/><circle cx="644.2" cy="497.4"/><circle cx="567.7" cy="496.6"/><circle cx="575.0" cy="491.9"/><circle cx="603.6" cy="469.2"/><circle cx="570.8" cy="496.1"/><circle cx="684.4" cy="423.7"/><circle cx="614.5" cy="452.1"/><circle cx="621.1" cy="494.0"/><circle cx="605.8" cy="501.1"/><circle cx="617.5" cy="494.5"/><circle cx="623.7" cy="496.8"/><circle cx="567.2" cy="498.0"/><circle cx="684.4" cy="432.3"/><circle cx="614.1" cy="471.3"/><circle cx="600.0" cy="469.6"/><circle cx="598.1" cy="468.6"/><circle cx="567.6" cy="495.5"/><circle cx="583.8" cy="493.4"/><circle cx="589.3" cy="484.0"/><circle cx="645.4" cy="469.8"/><circle cx="617.6" cy="479.8"/><circle cx="600.2" cy="475.2"/><circle cx="682.2" cy="433.9"/><circle cx="565.3" cy="496.3"/><circle cx="687.2" cy="434.1"/><circle cx="684.5" cy="420.7"/><circle cx="597.0" cy="464.1"/><circle cx="614.7" cy="452.5"/><circle cx="583.5" cy="481.3"/><circle cx="597.5" cy="489.6"/><circle cx="685.1" cy="422.4"/><circle cx="582.2" cy="489.7"/><circle cx="570.7" cy="496.5"/><circle cx="583.6" cy="481.2"/><circle cx="597.4" cy="481.0"/><circle cx="569.9" cy="497.7"/><circle cx="593.4" cy="497.0"/><circle cx="567.8" cy="496.1"/><circle cx="584.6" cy="482.6"/><circle cx="580.3" cy="490.2"/><circle cx="594.2" cy="471.0"/><circle cx="577.8" cy="494.0"/><circle cx="592.1" cy="489.0"/><circle cx="612.7" cy="450.5"/><circle cx="569.1" cy="499.0"/><circle cx="609.3" cy="471.3"/><circle cx="619.8" cy="478.9"/><circle cx="685.7" cy="430.2"/><circle cx="685.5" cy="433.8"/><circle cx="583.1" cy="499.2"/><circle cx="603.1" cy="464.1"/><circle cx="627.8" cy="492.5"/><circle cx="615.8" cy="471.0"/><circle cx="611.4" cy="489.4"/><circle cx="600.6" cy="484.7"/><circle cx="586.5" cy="477.0"/><circle cx="579.3" cy="493.8"/><circle cx="583.0" cy="481.3"/><circle cx="598.9" cy="460.2"/><circle cx="614.7" cy="447.5"/><circle cx="684.8" cy="428.2"/><circle cx="602.2" cy="486.9"/><circle cx="579.9" cy="489.5"/><circle cx="585.0" cy="480.5"/><circle cx="578.2" cy="492.6"/><circle cx="629.6" cy="485.3"/><circle cx="567.4" cy="492.7"/><circle cx="574.3" cy="491.4"/><circle cx="601.0" cy="469.8"/><circle cx="599.9" cy="492.8"/><circle cx="583.3" cy="482.7"/><circle cx="566.9" cy="496.6"/><circle cx="613.7" cy="461.7"/><circle cx="568.8" cy="493.4"/><circle cx="568.5" cy="500.0"/><circle cx="605.6" cy="493.2"/><circle cx="582.5" cy="482.9"/><circle cx="686.1" cy="433.0"/><circle cx="631.1" cy="470.8"/><circle cx="583.3" cy="479.9"/><circle cx="587.7" cy="485.1"/><circle cx="565.9" cy="498.8"/><circle cx="609.9" cy="462.5"/><circle cx="612.7" cy="472.5"/><circle cx="579.5" cy="494.9"/><circle cx="606.3" cy="464.6"/><circle cx="580.5" cy="495.9"/><circle cx="643.8" cy="449.6"/><circle cx="624.1" cy="486.5"/><circle cx="684.7" cy="429.2"/><circle cx="611.0" cy="471.4"/><circle cx="582.6" cy="492.2"/><circle cx="617.4" cy="480.0"/><circle cx="573.5" cy="500.6"/><circle cx="604.4" cy="500.1"/><circle cx="570.4" cy="497.8"/><circle cx="629.3" cy="491.6"/><circle cx="599.5" cy="462.5"/><circle cx="617.1" cy="465.1"/><circle cx="594.5" cy="493.1"/><circle cx="585.7" cy="481.5"/><circle cx="571.0" cy="495.0"/><circle cx="688.8" cy="428.5"/><circle cx="617.0" cy="480.7"/><circle cx="644.8" cy="479.8"/><circle cx="603.1" cy="485.7"/><circle cx="686.4" cy="427.3"/><circle cx="613.8" cy="461.8"/><circle cx="570.3" cy="496.3"/><circle cx="567.4" cy="496.2"/><circle cx="605.4" cy="488.9"/><circle cx="579.7" cy="484.5"/><circle cx="585.8" cy="484.5"/><circle cx="591.0" cy="479.7"/><circle cx="585.6" cy="491.6"/><circle cx="592.5" cy="496.0"/><circle cx="605.6" cy="475.1"/><circle cx="650.4" cy="482.5"/><circle cx="597.6" cy="458.2"/><circle cx="613.2" cy="455.3"/><circle cx="584.1" cy="479.6"/><circle cx="573.8" cy="491.5"/><circle cx="597.8" cy="459.0"/><circle cx="583.4" cy="487.5"/><circle cx="582.6" cy="498.7"/><circle cx="611.7" cy="481.2"/><circle cx="576.2" cy="492.6"/><circle cx="611.7" cy="490.9"/><circle cx="570.2" cy="498.9"/><circle cx="597.7" cy="459.3"/><circle cx="608.3" cy="487.1"/><circle cx="598.8" cy="459.5"/><circle cx="646.1" cy="475.1"/><circle cx="615.1" cy="459.2"/><circle cx="584.5" cy="482.3"/><circle cx="571.6" cy="490.1"/><circle cx="581.7" cy="488.6"/><circle cx="611.3" cy="478.2"/><circle cx="578.4" cy="491.8"/><circle cx="600.8" cy="478.5"/><circle cx="634.5" cy="458.0"/><circle cx="683.5" cy="432.0"/><circle cx="610.0" cy="483.9"/><circle cx="585.3" cy="495.2"/><circle cx="683.9" cy="415.8"/><circle cx="685.4" cy="431.5"/><circle cx="597.1" cy="457.7"/><circle cx="628.4" cy="457.3"/><circle cx="608.3" cy="466.0"/><circle cx="582.9" cy="484.7"/><circle cx="686.8" cy="424.0"/><circle cx="642.3" cy="460.8"/><circle cx="688.8" cy="419.3"/><circle cx="681.3" cy="425.1"/><circle cx="591.4" cy="501.3"/><circle cx="569.4" cy="492.9"/><circle cx="600.2" cy="464.0"/><circle cx="584.8" cy="478.5"/><circle cx="567.7" cy="496.0"/><circle cx="575.1" cy="493.2"/><circle cx="582.5" cy="482.0"/><circle cx="577.1" cy="491.2"/><circle cx="603.8" cy="487.2"/><circle cx="599.9" cy="484.3"/><circle cx="603.7" cy="470.6"/><circle cx="602.3" cy="469.9"/><circle cx="610.9" cy="449.3"/><circle cx="633.5" cy="482.7"/><circle cx="635.3" cy="485.7"/><circle cx="606.3" cy="471.3"/><circle cx="635.1" cy="470.0"/><circle cx="692.7" cy="423.6"/><circle cx="613.9" cy="452.9"/><circle cx="585.2" cy="489.1"/><circle cx="646.5" cy="445.0"/><circle cx="613.4" cy="460.1"/><circle cx="588.6" cy="500.2"/><circle cx="608.6" cy="496.6"/><circle cx="588.1" cy="496.2"/><circle cx="597.8" cy="462.4"/><circle cx="634.9" cy="476.4"/><circle cx="584.9" cy="484.5"/><circle cx="583.6" cy="480.0"/><circle cx="582.1" cy="477.2"/><circle cx="603.4" cy="494.3"/><circle cx="587.4" cy="479.3"/><circle cx="618.5" cy="470.4"/><circle cx="599.1" cy="498.7"/><circle cx="595.6" cy="465.7"/><circle cx="601.7" cy="471.0"/><circle cx="603.7" cy="483.8"/><circle cx="616.0" cy="456.1"/><circle cx="581.5" cy="484.2"/><circle cx="681.8" cy="431.2"/><circle cx="582.3" cy="488.0"/><circle cx="613.4" cy="456.0"/><circle cx="690.2" cy="429.8"/><circle cx="634.5" cy="468.9"/><circle cx="581.4" cy="485.4"/><circle cx="575.7" cy="490.9"/><circle cx="595.3" cy="493.6"/><circle cx="592.5" cy="489.5"/><circle cx="613.5" cy="451.2"/><circle cx="584.2" cy="499.4"/><circle cx="613.3" cy="452.2"/><circle cx="567.8" cy="499.0"/><circle cx="570.3" cy="490.2"/><circle cx="580.8" cy="482.0"/><circle cx="623.9" cy="490.9"/><circle cx="585.7" cy="481.0"/><circle cx="569.2" cy="495.5"/><circle cx="597.1" cy="459.6"/><circle cx="615.6" cy="459.7"/><circle cx="601.2" cy="501.6"/><circle cx="578.1" cy="486.7"/><circle cx="624.7" cy="464.0"/><circle cx="606.0" cy="479.6"/><circle cx="597.9" cy="490.5"/><circle cx="598.3" cy="461.4"/><circle cx="579.1" cy="493.1"/><circle cx="580.4" cy="494.9"/><circle cx="567.8" cy="496.2"/><circle cx="687.2" cy="426.7"/><circle cx="626.7" cy="477.5"/><circle cx="576.3" cy="493.5"/><circle cx="620.6" cy="472.7"/><circle cx="581.5" cy="498.6"/><circle cx="587.3" cy="496.7"/><circle cx="631.2" cy="494.1"/><circle cx="588.6" cy="483.2"/><circle cx="598.0" cy="465.4"/><circle cx="639.3" cy="456.5"/><circle cx="566.3" cy="495.0"/><circle cx="612.7" cy="454.2"/><circle cx="613.4" cy="456.8"/><circle cx="685.9" cy="436.4"/><circle cx="690.1" cy="427.3"/><circle cx="591.2" cy="484.4"/><circle cx="605.0" cy="483.3"/><circle cx="608.4" cy="477.7"/><circle cx="688.9" cy="417.2"/><circle cx="617.8" cy="478.1"/><circle cx="570.0" cy="495.1"/><circle cx="604.3" cy="465.5"/><circle cx="685.0" cy="425.4"/><circle cx="614.5" cy="451.4"/><circle cx="621.4" cy="475.0"/><circle cx="598.9" cy="489.7"/><circle cx="580.6" cy="496.6"/><circle cx="619.7" cy="472.0"/><circle cx="595.7" cy="475.7"/><circle cx="598.4" cy="495.0"/><circle cx="622.0" cy="483.2"/><circle cx="691.7" cy="422.5"/><circle cx="582.3" cy="491.7"/><circle cx="682.1" cy="425.1"/><circle cx="594.8" cy="498.3"/><circle cx="618.6" cy="482.1"/><circle cx="567.1" cy="497.0"/><circle cx="576.0" cy="491.3"/><circle cx="583.8" cy="500.8"/><circle cx="574.4" cy="493.3"/><circle cx="611.1" cy="450.2"/><circle cx="683.2" cy="422.9"/><circle cx="618.4" cy="467.1"/><circle cx="616.1" cy="461.6"/><circle cx="621.3" cy="498.6"/><circle cx="684.9" cy="430.0"/><circle cx="573.1" cy="492.1"/><circle cx="566.5" cy="496.7"/><circle cx="616.3" cy="495.7"/><circle cx="597.7" cy="460.5"/><circle cx="598.8" cy="464.8"/><circle cx="574.9" cy="492.1"/><circle cx="603.9" cy="464.8"/><circle cx="593.7" cy="499.8"/><circle cx="582.9" cy="477.7"/><circle cx="616.1" cy="480.9"/><circle cx="614.1" cy="489.8"/><circle cx="625.4" cy="465.1"/><circle cx="595.0" cy="500.7"/><circle cx="600.9" cy="468.9"/><circle cx="592.5" cy="498.5"/><circle cx="602.7" cy="478.2"/><circle cx="686.9" cy="421.5"/><circle cx="611.4" cy="501.6"/><circle cx="639.8" cy="492.4"/><circle cx="593.0" cy="488.8"/><circle cx="586.7" cy="497.6"/><circle cx="620.4" cy="499.9"/><circle cx="686.8" cy="415.3"/><circle cx="612.7" cy="495.7"/><circle cx="570.3" cy="498.6"/><circle cx="597.0" cy="477.5"/><circle cx="601.2" cy="484.2"/><circle cx="683.7" cy="430.0"/><circle cx="582.5" cy="477.7"/><circle cx="614.0" cy="456.3"/><circle cx="595.7" cy="473.2"/><circle cx="597.7" cy="476.6"/><circle cx="598.1" cy="464.2"/><circle cx="584.3" cy="497.5"/><circle cx="603.2" cy="482.6"/><circle cx="568.8" cy="494.9"/><circle cx="575.5" cy="488.0"/><circle cx="594.0" cy="495.7"/><circle cx="600.0" cy="467.6"/><circle cx="583.4" cy="493.5"/><circle cx="565.5" cy="493.2"/><circle cx="687.0" cy="419.3"/><circle cx="596.1" cy="463.7"/><circle cx="603.4" cy="463.7"/><circle cx="609.1" cy="472.0"/><circle cx="687.3" cy="420.4"/><circle cx="601.5" cy="482.2"/><circle cx="593.1" cy="497.6"/><circle cx="635.2" cy="457.9"/><circle cx="615.5" cy="473.8"/><circle cx="566.5" cy="498.6"/><circle cx="598.0" cy="459.7"/><circle cx="628.2" cy="465.4"/><circle cx="577.5" cy="486.7"/><circle cx="593.6" cy="473.6"/><circle cx="627.4" cy="499.3"/><circle cx="574.0" cy="496.6"/><circle cx="681.9" cy="427.4"/><circle cx="612.5" cy="459.8"/><circle cx="689.8" cy="430.0"/><circle cx="600.8" cy="490.0"/><circle cx="585.0" cy="497.3"/><circle cx="614.1" cy="453.4"/><circle cx="598.0" cy="469.4"/><circle cx="616.4" cy="455.5"/><circle cx="597.9" cy="472.0"/><circle cx="642.8" cy="483.0"/><circle cx="584.5" cy="482.6"/><circle cx="684.7" cy="427.8"/><circle cx="626.5" cy="469.4"/><circle cx="592.4" cy="476.7"/><circle cx="599.9" cy="459.1"/><circle cx="569.9" cy="496.5"/><circle cx="568.3" cy="496.2"/><circle cx="625.0" cy="493.9"/><circle cx="622.4" cy="499.5"/><circle cx="612.6" cy="493.9"/><circle cx="611.7" cy="474.0"/><circle cx="599.1" cy="477.4"/><circle cx="620.9" cy="465.3"/><circle cx="626.4" cy="488.1"/><circle cx="574.9" cy="496.3"/><circle cx="623.7" cy="479.9"/><circle cx="596.5" cy="461.1"/><circle cx="686.9" cy="426.2"/><circle cx="686.5" cy="415.6"/><circle cx="692.4" cy="432.2"/><circle cx="567.7" cy="494.7"/><circle cx="566.5" cy="497.3"/><circle cx="682.9" cy="433.9"/><circle cx="611.7" cy="456.7"/><circle cx="684.5" cy="415.1"/><circle cx="614.5" cy="484.8"/><circle cx="576.3" cy="494.7"/><circle cx="608.3" cy="500.2"/><circle cx="601.3" cy="463.7"/><circle cx="602.2" cy="492.8"/><circle cx="630.5" cy="486.2"/><circle cx="688.6" cy="433.4"/><circle cx="635.3" cy="474.1"/><circle cx="632.6" cy="495.7"/><circle cx="614.4" cy="458.4"/><circle cx="579.5" cy="483.9"/><circle cx="604.1" cy="484.5"/><circle cx="599.5" cy="467.9"/><circle cx="600.1" cy="480.6"/><circle cx="584.8" cy="484.2"/><circle cx="621.8" cy="471.3"/><circle cx="583.8" cy="485.2"/><circle cx="592.6" cy="474.1"/><circle cx="580.4" cy="486.0"/><circle cx="570.0" cy="494.6"/><circle cx="583.2" cy="484.7"/><circle cx="625.8" cy="492.5"/><circle cx="649.5" cy="479.2"/><circle cx="589.7" cy="481.7"/><circle cx="574.2" cy="494.3"/><circle cx="566.5" cy="500.7"/><circle cx="590.1" cy="491.1"/><circle cx="598.3" cy="469.6"/><circle cx="687.1" cy="426.7"/><circle cx="680.9" cy="417.6"/><circle cx="581.1" cy="498.2"/><circle cx="596.4" cy="469.1"/><circle cx="614.9" cy="449.5"/><circle cx="571.0" cy="493.1"/><circle cx="610.0" cy="493.8"/><circle cx="590.0" cy="496.8"/><circle cx="595.4" cy="489.9"/><circle cx="571.8" cy="494.6"/><circle cx="597.9" cy="472.8"/><circle cx="598.3" cy="461.0"/><circle cx="683.7" cy="419.6"/><circle cx="598.2" cy="470.0"/><circle cx="597.0" cy="462.9"/><circle cx="625.5" cy="461.0"/><circle cx="574.1" cy="498.4"/><circle cx="639.2" cy="466.8"/><circle cx="604.1" cy="495.7"/><circle cx="582.9" cy="491.4"/><circle cx="688.9" cy="426.8"/><circle cx="614.8" cy="463.9"/><circle cx="583.3" cy="482.0"/><circle cx="602.7" cy="483.2"/><circle cx="582.0" cy="485.1"/><circle cx="566.4" cy="495.8"/><circle cx="612.1" cy="461.5"/><circle cx="612.2" cy="452.2"/><circle cx="598.1" cy="462.6"/><circle cx="583.1" cy="483.8"/><circle cx="685.5" cy="418.5"/><circle cx="610.0" cy="467.4"/><circle cx="573.0" cy="497.0"/><circle cx="597.6" cy="485.5"/><circle cx="620.4" cy="466.0"/><circle cx="566.3" cy="496.2"/><circle cx="647.3" cy="442.2"/><circle cx="590.1" cy="482.9"/><circle cx="588.0" cy="482.9"/><circle cx="605.6" cy="491.2"/><circle cx="636.7" cy="487.2"/><circle cx="687.5" cy="419.1"/><circle cx="610.9" cy="465.2"/><circle cx="593.8" cy="475.2"/><circle cx="582.6" cy="494.5"/><circle cx="597.2" cy="468.7"/><circle cx="690.8" cy="431.9"/><circle cx="614.6" cy="455.6"/><circle cx="686.5" cy="423.1"/><circle cx="689.7" cy="428.9"/><circle cx="601.9" cy="498.3"/><circle cx="685.8" cy="431.1"/><circle cx="688.7" cy="434.3"/><circle cx="579.2" cy="493.5"/><circle cx="584.3" cy="483.4"/><circle cx="615.7" cy="461.9"/><circle cx="586.7" cy="492.7"/><circle cx="630.0" cy="464.3"/><circle cx="611.0" cy="489.3"/><circle cx="681.1" cy="436.5"/><circle cx="602.9" cy="477.3"/><circle cx="565.7" cy="498.3"/><circle cx="684.7" cy="420.3"/><circle cx="596.4" cy="495.1"/><circle cx="584.5" cy="477.3"/><circle cx="606.9" cy="497.1"/><circle cx="596.5" cy="475.1"/><circle cx="580.9" cy="489.7"/><circle cx="691.0" cy="420.7"/><circle cx="590.4" cy="498.1"/><circle cx="566.9" cy="497.3"/><circle cx="600.7" cy="472.6"/><circle cx="583.3" cy="482.1"/><circle cx="598.8" cy="469.3"/><circle cx="613.8" cy="500.7"/><circle cx="684.5" cy="420.0"/><circle cx="615.8" cy="447.8"/><circle cx="566.0" cy="496.9"/><circle cx="600.5" cy="465.6"/><circle cx="565.7" cy="496.3"/><circle cx="646.5" cy="473.5"/><circle cx="577.7" cy="488.4"/><circle cx="590.9" cy="485.4"/><circle cx="621.5" cy="497.2"/><circle cx="615.0" cy="455.1"/><circle cx="620.2" cy="476.9"/><circle cx="612.7" cy="456.1"/><circle cx="565.9" cy="496.0"/><circle cx="629.4" cy="486.4"/><circle cx="571.0" cy="495.9"/><circle cx="588.9" cy="489.3"/><circle cx="582.0" cy="495.7"/><circle cx="616.8" cy="495.3"/><circle cx="687.9" cy="426.9"/><circle cx="584.3" cy="482.0"/><circle cx="573.8" cy="495.4"/><circle cx="601.4" cy="466.5"/><circle cx="567.0" cy="493.7"/><circle cx="581.7" cy="494.4"/><circle cx="584.0" cy="487.0"/><circle cx="596.2" cy="466.1"/><circle cx="604.1" cy="501.7"/><circle cx="599.1" cy="485.9"/><circle cx="587.3" cy="488.7"/><circle cx="603.3" cy="463.5"/><circle cx="617.3" cy="452.9"/><circle cx="579.9" cy="497.1"/><circle cx="584.2" cy="492.9"/><circle cx="571.3" cy="497.6"/><circle cx="621.8" cy="479.3"/><circle cx="599.8" cy="488.0"/><circle cx="583.1" cy="481.8"/><circle cx="599.7" cy="463.5"/><circle cx="577.0" cy="493.3"/><circle cx="576.4" cy="493.4"/><circle cx="623.4" cy="493.1"/><circle cx="686.4" cy="435.6"/><circle cx="579.8" cy="493.5"/><circle cx="615.4" cy="488.3"/><circle cx="565.4" cy="495.8"/><circle cx="581.5" cy="490.7"/><circle cx="594.1" cy="467.4"/><circle cx="687.0" cy="419.4"/><circle cx="613.1" cy="447.5"/><circle cx="641.1" cy="456.6"/><circle cx="623.0" cy="489.1"/><circle cx="594.3" cy="492.5"/><circle cx="616.0" cy="452.2"/><circle cx="609.7" cy="473.6"/><circle cx="687.7" cy="427.7"/><circle cx="593.1" cy="480.7"/><circle cx="596.3" cy="471.2"/><circle cx="595.4" cy="499.5"/><circle cx="630.8" cy="475.0"/><circle cx="692.3" cy="424.6"/><circle cx="579.0" cy="497.1"/><circle cx="581.9" cy="495.6"/><circle cx="613.9" cy="456.1"/><circle cx="595.1" cy="497.9"/><circle cx="687.1" cy="427.3"/><circle cx="580.9" cy="496.7"/><circle cx="689.2" cy="424.3"/><circle cx="627.9" cy="472.9"/><circle cx="596.6" cy="488.7"/><circle cx="629.7" cy="487.0"/><circle cx="681.5" cy="426.6"/><circle cx="689.4" cy="429.7"/><circle cx="580.8" cy="489.2"/><circle cx="610.0" cy="481.5"/><circle cx="632.1" cy="474.1"/><circle cx="592.2" cy="498.8"/><circle cx="600.6" cy="496.2"/><circle cx="591.5" cy="486.2"/><circle cx="595.2" cy="486.3"/><circle cx="569.0" cy="495.3"/><circle cx="598.1" cy="492.9"/><circle cx="626.4" cy="478.0"/><circle cx="584.5" cy="490.7"/><circle cx="573.6" cy="493.1"/><circle cx="688.6" cy="429.9"/><circle cx="633.8" cy="459.3"/><circle cx="591.9" cy="490.4"/><circle cx="584.7" cy="479.3"/><circle cx="568.9" cy="494.7"/><circle cx="624.7" cy="481.6"/><circle cx="598.9" cy="459.2"/><circle cx="581.9" cy="491.3"/><circle cx="580.6" cy="491.8"/><circle cx="593.4" cy="471.4"/><circle cx="597.6" cy="465.5"/><circle cx="569.5" cy="497.5"/><circle cx="585.7" cy="490.2"/><circle cx="598.2" cy="466.8"/><circle cx="684.7" cy="417.0"/><circle cx="614.2" cy="472.7"/><circle cx="602.5" cy="473.1"/><circle cx="569.1" cy="496.3"/><circle cx="619.4" cy="473.7"/><circle cx="568.1" cy="499.5"/><circle cx="685.5" cy="434.7"/><circle cx="581.9" cy="481.6"/><circle cx="585.7" cy="485.2"/><circle cx="584.3" cy="493.1"/><circle cx="566.3" cy="498.1"/><circle cx="592.7" cy="489.0"/><circle cx="570.8" cy="496.8"/><circle cx="617.4" cy="494.4"/><circle cx="602.0" cy="472.4"/><circle cx="601.3" cy="463.4"/><circle cx="611.5" cy="498.8"/><circle cx="573.1" cy="493.6"/><circle cx="610.0" cy="465.2"/><circle cx="599.0" cy="466.5"/><circle cx="646.3" cy="494.6"/><circle cx="619.5" cy="474.0"/><circle cx="686.2" cy="425.1"/><circle cx="621.5" cy="485.3"/><circle cx="580.4" cy="486.2"/><circle cx="684.2" cy="433.9"/><circle cx="599.1" cy="466.2"/><circle cx="602.8" cy="492.2"/><circle cx="687.2" cy="422.5"/><circle cx="613.4" cy="476.2"/><circle cx="569.4" cy="496.3"/><circle cx="580.5" cy="500.4"/><circle cx="683.5" cy="435.5"/><circle cx="609.6" cy="493.0"/><circle cx="623.3" cy="466.3"/><circle cx="612.3" cy="448.9"/><circle cx="609.1" cy="465.8"/><circle cx="573.2" cy="493.0"/><circle cx="626.4" cy="496.3"/><circle cx="566.3" cy="495.0"/><circle cx="583.3" cy="479.2"/><circle cx="580.4" cy="496.8"/><circle cx="583.1" cy="485.1"/><circle cx="588.7" cy="481.2"/><circle cx="647.7" cy="451.9"/><circle cx="595.9" cy="469.3"/><circle cx="585.2" cy="481.3"/><circle cx="574.4" cy="494.1"/><circle cx="568.6" cy="495.4"/><circle cx="585.9" cy="495.5"/><circle cx="594.0" cy="478.5"/><circle cx="685.9" cy="426.3"/><circle cx="623.5" cy="469.7"/><circle cx="594.0" cy="489.8"/><circle cx="689.7" cy="419.8"/><circle cx="566.1" cy="498.1"/><circle cx="682.9" cy="423.7"/><circle cx="584.6" cy="484.4"/><circle cx="687.9" cy="430.5"/><circle cx="640.3" cy="460.6"/><circle cx="567.4" cy="498.2"/><circle cx="577.3" cy="496.5"/><circle cx="687.9" cy="419.7"/><circle cx="586.0" cy="476.0"/><circle cx="603.8" cy="485.5"/><circle cx="581.2" cy="493.5"/><circle cx="596.5" cy="495.8"/><circle cx="585.7" cy="484.6"/><circle cx="585.3" cy="484.8"/><circle cx="640.6" cy="476.8"/><circle cx="686.2" cy="419.2"/><circle cx="584.5" cy="485.3"/><circle cx="607.1" cy="492.7"/><circle cx="605.6" cy="487.8"/><circle cx="602.0" cy="483.0"/><circle cx="587.6" cy="494.7"/><circle cx="690.0" cy="426.5"/><circle cx="585.6" cy="477.5"/><circle cx="597.7" cy="471.7"/><circle cx="589.5" cy="485.6"/><circle cx="642.7" cy="452.8"/><circle cx="591.1" cy="485.6"/><circle cx="626.9" cy="486.4"/><circle cx="596.8" cy="461.4"/><circle cx="620.8" cy="475.7"/><circle cx="565.7" cy="497.0"/><circle cx="580.6" cy="495.3"/><circle cx="600.3" cy="460.8"/><circle cx="623.6" cy="464.2"/><circle cx="583.9" cy="480.3"/><circle cx="583.8" cy="485.9"/><circle cx="607.9" cy="489.3"/><circle cx="643.0" cy="485.0"/><circle cx="612.8" cy="489.1"/><circle cx="617.8" cy="462.0"/><circle cx="681.9" cy="424.8"/><circle cx="591.5" cy="488.2"/><circle cx="603.2" cy="469.4"/><circle cx="599.3" cy="468.4"/><circle cx="614.6" cy="452.7"/><circle cx="627.7" cy="496.8"/><circle cx="610.0" cy="461.2"/><circle cx="576.8" cy="491.6"/><circle cx="626.6" cy="467.8"/><circle cx="588.1" cy="483.7"/><circle cx="586.0" cy="483.5"/><circle cx="598.7" cy="458.8"/><circle cx="612.3" cy="486.2"/><circle cx="613.7" cy="450.9"/><circle cx="594.9" cy="498.3"/><circle cx="621.2" cy="470.9"/><circle cx="578.5" cy="494.6"/><circle cx="586.4" cy="491.7"/><circle cx="584.5" cy="481.6"/><circle cx="604.3" cy="498.2"/><circle cx="595.8" cy="474.6"/><circle cx="619.3" cy="458.9"/><circle cx="686.8" cy="413.3"/><circle cx="567.8" cy="493.2"/><circle cx="603.0" cy="485.6"/><circle cx="594.2" cy="468.0"/><circle cx="686.7" cy="416.6"/><circle cx="584.6" cy="477.7"/><circle cx="608.4" cy="483.4"/><circle cx="597.7" cy="500.3"/><circle cx="615.3" cy="461.2"/><circle cx="691.5" cy="431.7"/><circle cx="591.6" cy="492.6"/><circle cx="598.2" cy="460.1"/><circle cx="596.3" cy="466.8"/><circle cx="606.4" cy="484.7"/><circle cx="618.9" cy="496.8"/><circle cx="611.8" cy="470.9"/><circle cx="604.3" cy="483.5"/><circle cx="584.6" cy="480.9"/><circle cx="584.4" cy="479.1"/><circle cx="579.0" cy="487.6"/><circle cx="682.5" cy="413.7"/><circle cx="573.8" cy="495.5"/><circle cx="607.1" cy="497.2"/><circle cx="582.6" cy="499.9"/><circle cx="596.2" cy="482.4"/><circle cx="570.2" cy="493.4"/><circle cx="610.9" cy="491.5"/><circle cx="594.2" cy="478.7"/><circle cx="596.4" cy="479.1"/><circle cx="590.2" cy="494.7"/><circle cx="598.7" cy="468.2"/><circle cx="612.5" cy="467.0"/><circle cx="573.8" cy="494.9"/><circle cx="689.8" cy="419.1"/><circle cx="616.5" cy="456.9"/><circle cx="579.5" cy="497.7"/><circle cx="683.8" cy="429.1"/><circle cx="582.9" cy="497.4"/><circle cx="637.1" cy="482.3"/><circle cx="641.0" cy="487.7"/><circle cx="570.3" cy="495.5"/><circle cx="586.8" cy="486.6"/><circle cx="602.3" cy="478.6"/><circle cx="602.9" cy="464.7"/><circle cx="632.6" cy="457.7"/><circle cx="587.3" cy="490.9"/><circle cx="597.5" cy="481.2"/><circle cx="613.9" cy="456.3"/><circle cx="599.4" cy="495.0"/><circle cx="613.1" cy="454.0"/><circle cx="607.4" cy="462.7"/><circle cx="584.2" cy="484.8"/><circle cx="615.1" cy="452.9"/><circle cx="625.9" cy="467.1"/><circle cx="608.2" cy="465.2"/><circle cx="626.2" cy="495.9"/><circle cx="583.9" cy="485.3"/><circle cx="595.4" cy="460.0"/><circle cx="568.0" cy="498.9"/><circle cx="573.5" cy="494.9"/><circle cx="587.3" cy="491.0"/><circle cx="602.9" cy="479.0"/><circle cx="615.0" cy="472.7"/><circle cx="688.4" cy="414.7"/><circle cx="688.9" cy="419.1"/><circle cx="584.8" cy="490.8"/><circle cx="585.0" cy="495.3"/><circle cx="637.9" cy="455.1"/><circle cx="601.8" cy="469.7"/><circle cx="612.9" cy="468.4"/><circle cx="566.5" cy="495.5"/><circle cx="594.7" cy="466.4"/><circle cx="598.7" cy="467.3"/><circle cx="684.4" cy="424.1"/><circle cx="599.9" cy="462.5"/><circle cx="587.5" cy="487.6"/><circle cx="613.5" cy="455.3"/></g></g>
</svg>
</body></html>
